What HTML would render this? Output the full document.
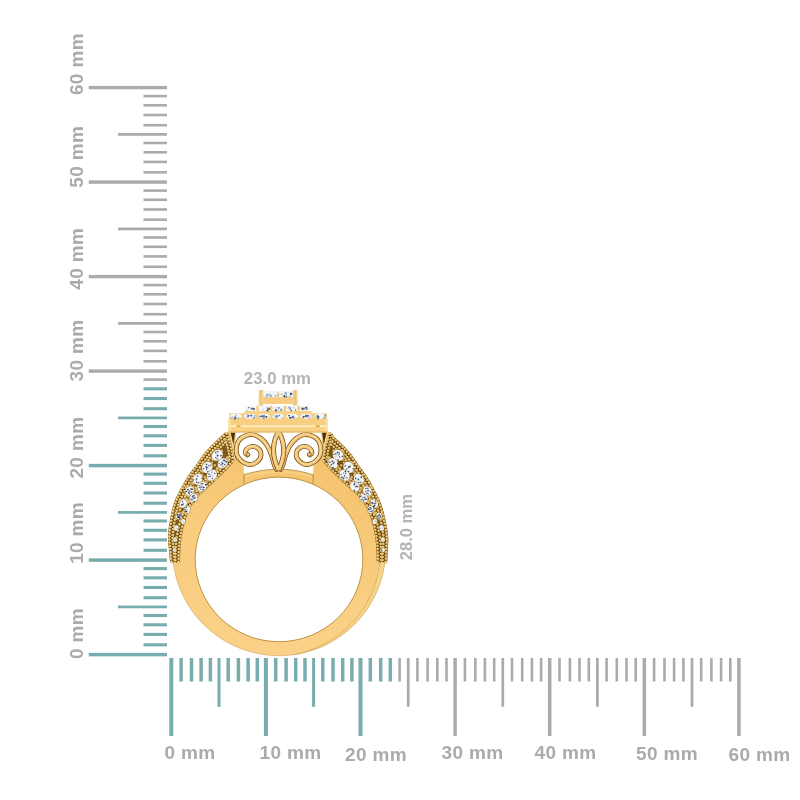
<!DOCTYPE html>
<html><head><meta charset="utf-8"><title>Ring size guide</title>
<style>
html,body{margin:0;padding:0;background:#fff}
body{width:800px;height:800px;overflow:hidden}
svg{display:block}
text{font-family:"Liberation Sans",sans-serif;font-weight:bold;fill:#ababab}
.l18{font-size:19px;letter-spacing:.35px}
.l16{font-size:16.5px;fill:#b4b4b4}
</style></head><body>
<svg width="800" height="800" viewBox="0 0 800 800">
<defs>
<linearGradient id="gBand" x1="0" y1="450" x2="0" y2="656" gradientUnits="userSpaceOnUse">
<stop offset="0" stop-color="#f8ca7a"/><stop offset=".5" stop-color="#f9cd7f"/><stop offset="1" stop-color="#fad084"/>
</linearGradient>
<linearGradient id="gPlate" x1="0" y1="418" x2="0" y2="433" gradientUnits="userSpaceOnUse">
<stop offset="0" stop-color="#f8ce80"/><stop offset=".5" stop-color="#f9d084"/><stop offset="1" stop-color="#f9d186"/>
</linearGradient>
<radialGradient id="gDia" cx=".4" cy=".35" r=".8">
<stop offset="0" stop-color="#ffffff"/><stop offset=".6" stop-color="#e6ecf5"/><stop offset="1" stop-color="#aebbd0"/>
</radialGradient>
<linearGradient id="gLite" x1="0" y1="540" x2="0" y2="657" gradientUnits="userSpaceOnUse">
<stop offset="0" stop-color="#fff" stop-opacity="0"/><stop offset="1" stop-color="#fff" stop-opacity=".03"/>
</linearGradient>
<linearGradient id="gShade" x1="318" y1="590" x2="375" y2="470" gradientUnits="userSpaceOnUse">
<stop offset="0" stop-color="#e09a25" stop-opacity="0"/><stop offset="1" stop-color="#e09a25" stop-opacity=".16"/>
</linearGradient>
</defs>
<rect width="800" height="800" fill="#fff"/>
<rect x="88.75" y="652.85" width="78.25" height="3.5" fill="#79adad"/>
<rect x="143.5" y="643.25" width="23.5" height="3.1" fill="#79adad"/>
<rect x="143.5" y="632.85" width="23.5" height="3.1" fill="#79adad"/>
<rect x="143.5" y="623.25" width="23.5" height="3.1" fill="#79adad"/>
<rect x="143.5" y="613.95" width="23.5" height="3.1" fill="#79adad"/>
<rect x="118" y="605.55" width="49" height="2.7" fill="#79adad"/>
<rect x="143.5" y="596.15" width="23.5" height="3.1" fill="#79adad"/>
<rect x="143.5" y="585.95" width="23.5" height="3.1" fill="#79adad"/>
<rect x="143.5" y="576.25" width="23.5" height="3.1" fill="#79adad"/>
<rect x="143.5" y="567.05" width="23.5" height="3.1" fill="#79adad"/>
<rect x="88.75" y="558.35" width="78.25" height="3.5" fill="#79adad"/>
<rect x="143.5" y="548.75" width="23.5" height="3.1" fill="#79adad"/>
<rect x="143.5" y="538.35" width="23.5" height="3.1" fill="#79adad"/>
<rect x="143.5" y="528.75" width="23.5" height="3.1" fill="#79adad"/>
<rect x="143.5" y="519.45" width="23.5" height="3.1" fill="#79adad"/>
<rect x="118" y="511.05" width="49" height="2.7" fill="#79adad"/>
<rect x="143.5" y="501.65" width="23.5" height="3.1" fill="#79adad"/>
<rect x="143.5" y="491.45" width="23.5" height="3.1" fill="#79adad"/>
<rect x="143.5" y="481.75" width="23.5" height="3.1" fill="#79adad"/>
<rect x="143.5" y="472.55" width="23.5" height="3.1" fill="#79adad"/>
<rect x="88.75" y="463.85" width="78.25" height="3.5" fill="#79adad"/>
<rect x="143.5" y="454.25" width="23.5" height="3.1" fill="#79adad"/>
<rect x="143.5" y="443.85" width="23.5" height="3.1" fill="#79adad"/>
<rect x="143.5" y="434.25" width="23.5" height="3.1" fill="#79adad"/>
<rect x="143.5" y="424.95" width="23.5" height="3.1" fill="#79adad"/>
<rect x="118" y="416.55" width="49" height="2.7" fill="#79adad"/>
<rect x="143.5" y="407.15" width="23.5" height="3.1" fill="#79adad"/>
<rect x="143.5" y="396.95" width="23.5" height="3.1" fill="#79adad"/>
<rect x="143.5" y="387.25" width="23.5" height="3.1" fill="#79adad"/>
<rect x="143.5" y="378.30" width="23.5" height="2.6" fill="#ababab"/>
<rect x="88.75" y="369.40" width="78.25" height="3.4" fill="#ababab"/>
<rect x="143.5" y="360.00" width="23.5" height="2.6" fill="#ababab"/>
<rect x="143.5" y="349.60" width="23.5" height="2.6" fill="#ababab"/>
<rect x="143.5" y="340.00" width="23.5" height="2.6" fill="#ababab"/>
<rect x="143.5" y="330.70" width="23.5" height="2.6" fill="#ababab"/>
<rect x="118" y="322.05" width="49" height="2.7" fill="#ababab"/>
<rect x="143.5" y="312.90" width="23.5" height="2.6" fill="#ababab"/>
<rect x="143.5" y="302.70" width="23.5" height="2.6" fill="#ababab"/>
<rect x="143.5" y="293.00" width="23.5" height="2.6" fill="#ababab"/>
<rect x="143.5" y="283.80" width="23.5" height="2.6" fill="#ababab"/>
<rect x="88.75" y="274.90" width="78.25" height="3.4" fill="#ababab"/>
<rect x="143.5" y="265.50" width="23.5" height="2.6" fill="#ababab"/>
<rect x="143.5" y="255.10" width="23.5" height="2.6" fill="#ababab"/>
<rect x="143.5" y="245.50" width="23.5" height="2.6" fill="#ababab"/>
<rect x="143.5" y="236.20" width="23.5" height="2.6" fill="#ababab"/>
<rect x="118" y="227.55" width="49" height="2.7" fill="#ababab"/>
<rect x="143.5" y="218.40" width="23.5" height="2.6" fill="#ababab"/>
<rect x="143.5" y="208.20" width="23.5" height="2.6" fill="#ababab"/>
<rect x="143.5" y="198.50" width="23.5" height="2.6" fill="#ababab"/>
<rect x="143.5" y="189.30" width="23.5" height="2.6" fill="#ababab"/>
<rect x="88.75" y="180.40" width="78.25" height="3.4" fill="#ababab"/>
<rect x="143.5" y="171.00" width="23.5" height="2.6" fill="#ababab"/>
<rect x="143.5" y="160.60" width="23.5" height="2.6" fill="#ababab"/>
<rect x="143.5" y="151.00" width="23.5" height="2.6" fill="#ababab"/>
<rect x="143.5" y="141.70" width="23.5" height="2.6" fill="#ababab"/>
<rect x="118" y="133.05" width="49" height="2.7" fill="#ababab"/>
<rect x="143.5" y="123.90" width="23.5" height="2.6" fill="#ababab"/>
<rect x="143.5" y="113.70" width="23.5" height="2.6" fill="#ababab"/>
<rect x="143.5" y="104.00" width="23.5" height="2.6" fill="#ababab"/>
<rect x="143.5" y="94.80" width="23.5" height="2.6" fill="#ababab"/>
<rect x="88.75" y="85.90" width="78.25" height="3.4" fill="#ababab"/>
<rect x="169.30" y="658" width="4.0" height="78" fill="#79adad"/>
<rect x="179.35" y="658" width="3.5" height="23.5" fill="#79adad"/>
<rect x="189.75" y="658" width="3.5" height="23.5" fill="#79adad"/>
<rect x="199.35" y="658" width="3.5" height="23.5" fill="#79adad"/>
<rect x="208.65" y="658" width="3.5" height="23.5" fill="#79adad"/>
<rect x="217.50" y="658" width="3.0" height="48.799999999999955" fill="#79adad"/>
<rect x="226.45" y="658" width="3.5" height="23.5" fill="#79adad"/>
<rect x="236.65" y="658" width="3.5" height="23.5" fill="#79adad"/>
<rect x="246.35" y="658" width="3.5" height="23.5" fill="#79adad"/>
<rect x="255.55" y="658" width="3.5" height="23.5" fill="#79adad"/>
<rect x="263.90" y="658" width="4.0" height="78" fill="#79adad"/>
<rect x="273.95" y="658" width="3.5" height="23.5" fill="#79adad"/>
<rect x="284.35" y="658" width="3.5" height="23.5" fill="#79adad"/>
<rect x="293.95" y="658" width="3.5" height="23.5" fill="#79adad"/>
<rect x="303.25" y="658" width="3.5" height="23.5" fill="#79adad"/>
<rect x="312.10" y="658" width="3.0" height="48.799999999999955" fill="#79adad"/>
<rect x="321.05" y="658" width="3.5" height="23.5" fill="#79adad"/>
<rect x="331.25" y="658" width="3.5" height="23.5" fill="#79adad"/>
<rect x="340.95" y="658" width="3.5" height="23.5" fill="#79adad"/>
<rect x="350.15" y="658" width="3.5" height="23.5" fill="#79adad"/>
<rect x="358.50" y="658" width="4.0" height="78" fill="#79adad"/>
<rect x="368.55" y="658" width="3.5" height="23.5" fill="#79adad"/>
<rect x="378.95" y="658" width="3.5" height="23.5" fill="#79adad"/>
<rect x="388.55" y="658" width="3.5" height="23.5" fill="#79adad"/>
<rect x="398.30" y="658" width="2.6" height="23.5" fill="#ababab"/>
<rect x="406.85" y="658" width="2.7" height="48.799999999999955" fill="#ababab"/>
<rect x="416.10" y="658" width="2.6" height="23.5" fill="#ababab"/>
<rect x="426.30" y="658" width="2.6" height="23.5" fill="#ababab"/>
<rect x="436.00" y="658" width="2.6" height="23.5" fill="#ababab"/>
<rect x="445.20" y="658" width="2.6" height="23.5" fill="#ababab"/>
<rect x="453.35" y="658" width="3.5" height="78" fill="#ababab"/>
<rect x="463.60" y="658" width="2.6" height="23.5" fill="#ababab"/>
<rect x="474.00" y="658" width="2.6" height="23.5" fill="#ababab"/>
<rect x="483.60" y="658" width="2.6" height="23.5" fill="#ababab"/>
<rect x="492.90" y="658" width="2.6" height="23.5" fill="#ababab"/>
<rect x="501.45" y="658" width="2.7" height="48.799999999999955" fill="#ababab"/>
<rect x="510.70" y="658" width="2.6" height="23.5" fill="#ababab"/>
<rect x="520.90" y="658" width="2.6" height="23.5" fill="#ababab"/>
<rect x="530.60" y="658" width="2.6" height="23.5" fill="#ababab"/>
<rect x="539.80" y="658" width="2.6" height="23.5" fill="#ababab"/>
<rect x="547.95" y="658" width="3.5" height="78" fill="#ababab"/>
<rect x="558.20" y="658" width="2.6" height="23.5" fill="#ababab"/>
<rect x="568.60" y="658" width="2.6" height="23.5" fill="#ababab"/>
<rect x="578.20" y="658" width="2.6" height="23.5" fill="#ababab"/>
<rect x="587.50" y="658" width="2.6" height="23.5" fill="#ababab"/>
<rect x="596.05" y="658" width="2.7" height="48.799999999999955" fill="#ababab"/>
<rect x="605.30" y="658" width="2.6" height="23.5" fill="#ababab"/>
<rect x="615.50" y="658" width="2.6" height="23.5" fill="#ababab"/>
<rect x="625.20" y="658" width="2.6" height="23.5" fill="#ababab"/>
<rect x="634.40" y="658" width="2.6" height="23.5" fill="#ababab"/>
<rect x="642.55" y="658" width="3.5" height="78" fill="#ababab"/>
<rect x="652.80" y="658" width="2.6" height="23.5" fill="#ababab"/>
<rect x="663.20" y="658" width="2.6" height="23.5" fill="#ababab"/>
<rect x="672.80" y="658" width="2.6" height="23.5" fill="#ababab"/>
<rect x="682.10" y="658" width="2.6" height="23.5" fill="#ababab"/>
<rect x="690.65" y="658" width="2.7" height="48.799999999999955" fill="#ababab"/>
<rect x="699.90" y="658" width="2.6" height="23.5" fill="#ababab"/>
<rect x="710.10" y="658" width="2.6" height="23.5" fill="#ababab"/>
<rect x="719.80" y="658" width="2.6" height="23.5" fill="#ababab"/>
<rect x="729.00" y="658" width="2.6" height="23.5" fill="#ababab"/>
<rect x="737.15" y="658" width="3.5" height="78" fill="#ababab"/>
<text x="190" y="759" text-anchor="middle" class="l18">0 mm</text>
<text x="290.5" y="759" text-anchor="middle" class="l18">10 mm</text>
<text x="376" y="760.5" text-anchor="middle" class="l18">20 mm</text>
<text x="472.5" y="759" text-anchor="middle" class="l18">30 mm</text>
<text x="565.5" y="759" text-anchor="middle" class="l18">40 mm</text>
<text x="667" y="759.6" text-anchor="middle" class="l18">50 mm</text>
<text x="759.5" y="760.5" text-anchor="middle" class="l18">60 mm</text>
<text transform="translate(82.5 64.1) rotate(-90)" text-anchor="middle" class="l18">60 mm</text>
<text transform="translate(82.5 156.75) rotate(-90)" text-anchor="middle" class="l18">50 mm</text>
<text transform="translate(82.5 258.75) rotate(-90)" text-anchor="middle" class="l18">40 mm</text>
<text transform="translate(82.5 350.5) rotate(-90)" text-anchor="middle" class="l18">30 mm</text>
<text transform="translate(82.5 447.6) rotate(-90)" text-anchor="middle" class="l18">20 mm</text>
<text transform="translate(82.5 532.9) rotate(-90)" text-anchor="middle" class="l18">10 mm</text>
<text transform="translate(82.5 633.5) rotate(-90)" text-anchor="middle" class="l18">0 mm</text>
<text x="277.4" y="383.9" text-anchor="middle" class="l16" style="font-size:16.8px">23.0 mm</text>
<text transform="translate(412.2 527.2) rotate(-90)" text-anchor="middle" class="l16">28.0 mm</text>
<path d="M384.91 562.00L384.48 565.06L383.97 568.11L383.38 571.14L382.69 574.16L381.92 577.15L381.06 580.12L380.12 583.07L379.09 585.98L377.97 588.86L376.78 591.71L375.50 594.53L374.14 597.31L372.70 600.04L371.18 602.73L369.59 605.38L367.92 607.98L366.17 610.53L364.35 613.03L362.46 615.48L360.50 617.87L358.47 620.20L356.37 622.47L354.21 624.68L351.99 626.83L349.70 628.91L347.36 630.93L344.96 632.87L342.50 634.75L339.99 636.55L337.43 638.28L334.82 639.94L332.16 641.52L329.46 643.02L326.71 644.44L323.93 645.78L321.10 647.04L318.25 648.22L315.35 649.32L312.43 650.33L309.48 651.25L306.51 652.09L303.51 652.85L300.49 653.51L297.46 654.09L294.40 654.58L291.34 654.98L288.26 655.30L285.18 655.52L282.09 655.66L279.00 655.70L275.91 655.66L272.82 655.52L269.74 655.30L266.66 654.98L263.60 654.58L260.54 654.09L257.51 653.51L254.49 652.85L251.49 652.09L248.52 651.25L245.57 650.33L242.65 649.32L239.75 648.22L236.90 647.04L234.07 645.78L231.29 644.44L228.54 643.02L225.84 641.52L223.18 639.94L220.57 638.28L218.01 636.55L215.50 634.75L213.04 632.87L210.64 630.93L208.30 628.91L206.01 626.83L203.79 624.68L201.63 622.47L199.53 620.20L197.50 617.87L195.54 615.48L193.65 613.03L191.83 610.53L190.08 607.98L188.41 605.38L186.82 602.73L185.30 600.04L183.86 597.31L182.50 594.53L181.22 591.71L180.03 588.86L178.91 585.98L177.88 583.07L176.94 580.12L176.08 577.15L175.31 574.16L174.62 571.14L174.03 568.11L173.52 565.06L173.09 562.00L170.00 562.00L169.96 561.51L169.91 560.90L169.85 560.19L169.79 559.39L169.72 558.52L169.64 557.59L169.56 556.62L169.48 555.63L169.40 554.63L169.31 553.63L169.23 552.66L169.15 551.71L169.07 550.82L169.00 550.00L168.93 549.22L168.84 548.47L168.76 547.72L168.67 547.00L168.58 546.28L168.49 545.57L168.41 544.88L168.32 544.18L168.25 543.49L168.18 542.80L168.12 542.11L168.06 541.41L168.03 540.71L168.00 540.00L167.99 539.29L167.98 538.57L167.99 537.86L168.00 537.14L168.03 536.43L168.06 535.71L168.09 535.00L168.14 534.29L168.19 533.57L168.24 532.86L168.30 532.14L168.36 531.43L168.43 530.71L168.50 530.00L168.58 529.29L168.66 528.57L168.75 527.86L168.84 527.14L168.94 526.43L169.05 525.71L169.16 525.00L169.27 524.29L169.39 523.57L169.51 522.86L169.63 522.14L169.75 521.43L169.88 520.71L170.00 520.00L170.13 519.29L170.25 518.57L170.38 517.86L170.51 517.14L170.64 516.43L170.77 515.71L170.91 515.00L171.05 514.29L171.19 513.57L171.34 512.86L171.50 512.14L171.66 511.43L171.83 510.71L172.00 510.00L172.18 509.29L172.36 508.57L172.54 507.86L172.73 507.14L172.92 506.43L173.11 505.71L173.31 505.00L173.52 504.29L173.74 503.57L173.97 502.86L174.21 502.14L174.46 501.43L174.72 500.71L175.00 500.00L175.29 499.29L175.60 498.57L175.93 497.86L176.27 497.14L176.62 496.43L176.98 495.71L177.34 495.00L177.72 494.29L178.10 493.57L178.48 492.86L178.86 492.14L179.24 491.43L179.62 490.71L180.00 490.00L180.38 489.28L180.76 488.56L181.14 487.84L181.52 487.11L181.91 486.39L182.30 485.66L182.69 484.94L183.08 484.22L183.48 483.50L183.88 482.78L184.28 482.08L184.68 481.38L185.09 480.68L185.50 480.00L185.92 479.32L186.34 478.64L186.78 477.95L187.22 477.27L187.67 476.59L188.12 475.92L188.56 475.25L189.01 474.59L189.45 473.95L189.88 473.32L190.30 472.71L190.72 472.12L191.12 471.55L191.50 471.00L191.86 470.49L192.20 470.02L192.53 469.58L192.84 469.17L193.14 468.78L193.43 468.40L193.72 468.03L194.01 467.66L194.31 467.28L194.61 466.88L194.93 466.46L195.27 466.01L195.62 465.53L196.00 465.00L196.41 464.42L196.83 463.80L197.28 463.14L197.74 462.45L198.21 461.74L198.70 461.02L199.19 460.28L199.68 459.55L200.17 458.81L200.66 458.10L201.14 457.40L201.61 456.73L202.06 456.09L202.50 455.50L202.92 454.95L203.31 454.44L203.68 453.95L204.04 453.50L204.39 453.06L204.74 452.64L205.09 452.22L205.45 451.80L205.82 451.38L206.20 450.95L206.61 450.50L207.04 450.03L207.50 449.53L208.00 449.00L208.54 448.43L209.11 447.83L209.72 447.21L210.35 446.56L211.00 445.90L211.66 445.23L212.34 444.56L213.03 443.88L213.72 443.20L214.40 442.53L215.07 441.87L215.74 441.22L216.38 440.60L217.00 440.00L217.62 439.40L218.27 438.79L218.92 438.17L219.59 437.55L220.26 436.94L220.92 436.33L221.56 435.74L222.18 435.17L222.77 434.63L223.33 434.13L223.83 433.67L224.29 433.25L224.68 432.90L225.00 432.60L229.00 432.00L328.20 432.00L329.60 432.60L329.92 432.90L330.31 433.25L330.77 433.67L331.27 434.13L331.83 434.63L332.42 435.17L333.04 435.74L333.68 436.33L334.34 436.94L335.01 437.55L335.68 438.17L336.33 438.79L336.98 439.40L337.60 440.00L338.22 440.60L338.86 441.22L339.53 441.87L340.20 442.53L340.88 443.20L341.57 443.88L342.26 444.56L342.94 445.23L343.60 445.90L344.25 446.56L344.88 447.21L345.49 447.83L346.06 448.43L346.60 449.00L347.10 449.53L347.56 450.03L347.99 450.50L348.40 450.95L348.78 451.38L349.15 451.80L349.51 452.22L349.86 452.64L350.21 453.06L350.56 453.50L350.92 453.95L351.29 454.44L351.68 454.95L352.10 455.50L352.54 456.09L352.99 456.73L353.46 457.40L353.94 458.10L354.43 458.81L354.92 459.55L355.41 460.28L355.90 461.02L356.39 461.74L356.86 462.45L357.32 463.14L357.77 463.80L358.19 464.42L358.60 465.00L358.98 465.53L359.33 466.01L359.67 466.46L359.99 466.88L360.29 467.28L360.59 467.66L360.88 468.03L361.17 468.40L361.46 468.78L361.76 469.17L362.07 469.58L362.40 470.02L362.74 470.49L363.10 471.00L363.48 471.55L363.88 472.12L364.30 472.71L364.72 473.32L365.15 473.95L365.59 474.59L366.04 475.25L366.48 475.92L366.93 476.59L367.38 477.27L367.82 477.95L368.26 478.64L368.68 479.32L369.10 480.00L369.51 480.68L369.92 481.38L370.32 482.08L370.72 482.78L371.12 483.50L371.52 484.22L371.91 484.94L372.30 485.66L372.69 486.39L373.08 487.11L373.46 487.84L373.84 488.56L374.22 489.28L374.60 490.00L374.98 490.71L375.36 491.43L375.74 492.14L376.12 492.86L376.50 493.57L376.88 494.29L377.26 495.00L377.62 495.71L377.98 496.43L378.33 497.14L378.67 497.86L379.00 498.57L379.31 499.29L379.60 500.00L379.91 500.71L380.20 501.43L380.48 502.14L380.75 502.86L381.01 503.57L381.26 504.29L381.50 505.00L381.73 505.71L381.95 506.43L382.17 507.14L382.39 507.86L382.60 508.57L382.81 509.29L383.02 510.00L383.22 510.71L383.42 511.43L383.61 512.14L383.80 512.86L383.98 513.57L384.15 514.29L384.32 515.00L384.49 515.71L384.65 516.43L384.81 517.14L384.97 517.86L385.13 518.57L385.28 519.29L385.44 520.00L385.59 520.71L385.75 521.43L385.90 522.14L386.05 522.86L386.20 523.57L386.35 524.29L386.49 525.00L386.63 525.71L386.77 526.43L386.90 527.14L387.02 527.86L387.14 528.57L387.25 529.29L387.36 530.00L387.46 530.71L387.55 531.43L387.65 532.14L387.74 532.86L387.82 533.57L387.90 534.29L387.97 535.00L388.04 535.71L388.10 536.43L388.15 537.14L388.20 537.86L388.23 538.57L388.26 539.29L388.28 540.00L388.28 540.71L388.27 541.41L388.25 542.11L388.22 542.80L388.18 543.49L388.13 544.18L388.08 544.88L388.02 545.57L387.96 546.28L387.90 547.00L387.84 547.72L387.79 548.47L387.74 549.22L387.70 550.00L387.66 550.82L387.62 551.71L387.58 552.66L387.53 553.63L387.49 554.63L387.45 555.63L387.41 556.62L387.37 557.59L387.34 558.52L387.30 559.39L387.27 560.19L387.24 560.90L387.22 561.51L387.20 562.00ZM195.5 559.4A83.5 82.0 0 1 0 362.5 559.4A83.5 82.0 0 1 0 195.5 559.4Z" fill="url(#gBand)" fill-rule="evenodd"/>
<path d="M384.91 562.00L384.48 565.06L383.97 568.11L383.38 571.14L382.69 574.16L381.92 577.15L381.06 580.12L380.12 583.07L379.09 585.98L377.97 588.86L376.78 591.71L375.50 594.53L374.14 597.31L372.70 600.04L371.18 602.73L369.59 605.38L367.92 607.98L366.17 610.53L364.35 613.03L362.46 615.48L360.50 617.87L358.47 620.20L356.37 622.47L354.21 624.68L351.99 626.83L349.70 628.91L347.36 630.93L344.96 632.87L342.50 634.75L339.99 636.55L337.43 638.28L334.82 639.94L332.16 641.52L329.46 643.02L326.71 644.44L323.93 645.78L321.10 647.04L318.25 648.22L315.35 649.32L312.43 650.33L309.48 651.25L306.51 652.09L303.51 652.85L300.49 653.51L297.46 654.09L294.40 654.58L291.34 654.98L288.26 655.30L285.18 655.52L282.09 655.66L279.00 655.70L275.91 655.66L272.82 655.52L269.74 655.30L266.66 654.98L263.60 654.58L260.54 654.09L257.51 653.51L254.49 652.85L251.49 652.09L248.52 651.25L245.57 650.33L242.65 649.32L239.75 648.22L236.90 647.04L234.07 645.78L231.29 644.44L228.54 643.02L225.84 641.52L223.18 639.94L220.57 638.28L218.01 636.55L215.50 634.75L213.04 632.87L210.64 630.93L208.30 628.91L206.01 626.83L203.79 624.68L201.63 622.47L199.53 620.20L197.50 617.87L195.54 615.48L193.65 613.03L191.83 610.53L190.08 607.98L188.41 605.38L186.82 602.73L185.30 600.04L183.86 597.31L182.50 594.53L181.22 591.71L180.03 588.86L178.91 585.98L177.88 583.07L176.94 580.12L176.08 577.15L175.31 574.16L174.62 571.14L174.03 568.11L173.52 565.06L173.09 562.00L170.00 562.00L169.96 561.51L169.91 560.90L169.85 560.19L169.79 559.39L169.72 558.52L169.64 557.59L169.56 556.62L169.48 555.63L169.40 554.63L169.31 553.63L169.23 552.66L169.15 551.71L169.07 550.82L169.00 550.00L168.93 549.22L168.84 548.47L168.76 547.72L168.67 547.00L168.58 546.28L168.49 545.57L168.41 544.88L168.32 544.18L168.25 543.49L168.18 542.80L168.12 542.11L168.06 541.41L168.03 540.71L168.00 540.00L167.99 539.29L167.98 538.57L167.99 537.86L168.00 537.14L168.03 536.43L168.06 535.71L168.09 535.00L168.14 534.29L168.19 533.57L168.24 532.86L168.30 532.14L168.36 531.43L168.43 530.71L168.50 530.00L168.58 529.29L168.66 528.57L168.75 527.86L168.84 527.14L168.94 526.43L169.05 525.71L169.16 525.00L169.27 524.29L169.39 523.57L169.51 522.86L169.63 522.14L169.75 521.43L169.88 520.71L170.00 520.00L170.13 519.29L170.25 518.57L170.38 517.86L170.51 517.14L170.64 516.43L170.77 515.71L170.91 515.00L171.05 514.29L171.19 513.57L171.34 512.86L171.50 512.14L171.66 511.43L171.83 510.71L172.00 510.00L172.18 509.29L172.36 508.57L172.54 507.86L172.73 507.14L172.92 506.43L173.11 505.71L173.31 505.00L173.52 504.29L173.74 503.57L173.97 502.86L174.21 502.14L174.46 501.43L174.72 500.71L175.00 500.00L175.29 499.29L175.60 498.57L175.93 497.86L176.27 497.14L176.62 496.43L176.98 495.71L177.34 495.00L177.72 494.29L178.10 493.57L178.48 492.86L178.86 492.14L179.24 491.43L179.62 490.71L180.00 490.00L180.38 489.28L180.76 488.56L181.14 487.84L181.52 487.11L181.91 486.39L182.30 485.66L182.69 484.94L183.08 484.22L183.48 483.50L183.88 482.78L184.28 482.08L184.68 481.38L185.09 480.68L185.50 480.00L185.92 479.32L186.34 478.64L186.78 477.95L187.22 477.27L187.67 476.59L188.12 475.92L188.56 475.25L189.01 474.59L189.45 473.95L189.88 473.32L190.30 472.71L190.72 472.12L191.12 471.55L191.50 471.00L191.86 470.49L192.20 470.02L192.53 469.58L192.84 469.17L193.14 468.78L193.43 468.40L193.72 468.03L194.01 467.66L194.31 467.28L194.61 466.88L194.93 466.46L195.27 466.01L195.62 465.53L196.00 465.00L196.41 464.42L196.83 463.80L197.28 463.14L197.74 462.45L198.21 461.74L198.70 461.02L199.19 460.28L199.68 459.55L200.17 458.81L200.66 458.10L201.14 457.40L201.61 456.73L202.06 456.09L202.50 455.50L202.92 454.95L203.31 454.44L203.68 453.95L204.04 453.50L204.39 453.06L204.74 452.64L205.09 452.22L205.45 451.80L205.82 451.38L206.20 450.95L206.61 450.50L207.04 450.03L207.50 449.53L208.00 449.00L208.54 448.43L209.11 447.83L209.72 447.21L210.35 446.56L211.00 445.90L211.66 445.23L212.34 444.56L213.03 443.88L213.72 443.20L214.40 442.53L215.07 441.87L215.74 441.22L216.38 440.60L217.00 440.00L217.62 439.40L218.27 438.79L218.92 438.17L219.59 437.55L220.26 436.94L220.92 436.33L221.56 435.74L222.18 435.17L222.77 434.63L223.33 434.13L223.83 433.67L224.29 433.25L224.68 432.90L225.00 432.60L229.00 432.00L328.20 432.00L329.60 432.60L329.92 432.90L330.31 433.25L330.77 433.67L331.27 434.13L331.83 434.63L332.42 435.17L333.04 435.74L333.68 436.33L334.34 436.94L335.01 437.55L335.68 438.17L336.33 438.79L336.98 439.40L337.60 440.00L338.22 440.60L338.86 441.22L339.53 441.87L340.20 442.53L340.88 443.20L341.57 443.88L342.26 444.56L342.94 445.23L343.60 445.90L344.25 446.56L344.88 447.21L345.49 447.83L346.06 448.43L346.60 449.00L347.10 449.53L347.56 450.03L347.99 450.50L348.40 450.95L348.78 451.38L349.15 451.80L349.51 452.22L349.86 452.64L350.21 453.06L350.56 453.50L350.92 453.95L351.29 454.44L351.68 454.95L352.10 455.50L352.54 456.09L352.99 456.73L353.46 457.40L353.94 458.10L354.43 458.81L354.92 459.55L355.41 460.28L355.90 461.02L356.39 461.74L356.86 462.45L357.32 463.14L357.77 463.80L358.19 464.42L358.60 465.00L358.98 465.53L359.33 466.01L359.67 466.46L359.99 466.88L360.29 467.28L360.59 467.66L360.88 468.03L361.17 468.40L361.46 468.78L361.76 469.17L362.07 469.58L362.40 470.02L362.74 470.49L363.10 471.00L363.48 471.55L363.88 472.12L364.30 472.71L364.72 473.32L365.15 473.95L365.59 474.59L366.04 475.25L366.48 475.92L366.93 476.59L367.38 477.27L367.82 477.95L368.26 478.64L368.68 479.32L369.10 480.00L369.51 480.68L369.92 481.38L370.32 482.08L370.72 482.78L371.12 483.50L371.52 484.22L371.91 484.94L372.30 485.66L372.69 486.39L373.08 487.11L373.46 487.84L373.84 488.56L374.22 489.28L374.60 490.00L374.98 490.71L375.36 491.43L375.74 492.14L376.12 492.86L376.50 493.57L376.88 494.29L377.26 495.00L377.62 495.71L377.98 496.43L378.33 497.14L378.67 497.86L379.00 498.57L379.31 499.29L379.60 500.00L379.91 500.71L380.20 501.43L380.48 502.14L380.75 502.86L381.01 503.57L381.26 504.29L381.50 505.00L381.73 505.71L381.95 506.43L382.17 507.14L382.39 507.86L382.60 508.57L382.81 509.29L383.02 510.00L383.22 510.71L383.42 511.43L383.61 512.14L383.80 512.86L383.98 513.57L384.15 514.29L384.32 515.00L384.49 515.71L384.65 516.43L384.81 517.14L384.97 517.86L385.13 518.57L385.28 519.29L385.44 520.00L385.59 520.71L385.75 521.43L385.90 522.14L386.05 522.86L386.20 523.57L386.35 524.29L386.49 525.00L386.63 525.71L386.77 526.43L386.90 527.14L387.02 527.86L387.14 528.57L387.25 529.29L387.36 530.00L387.46 530.71L387.55 531.43L387.65 532.14L387.74 532.86L387.82 533.57L387.90 534.29L387.97 535.00L388.04 535.71L388.10 536.43L388.15 537.14L388.20 537.86L388.23 538.57L388.26 539.29L388.28 540.00L388.28 540.71L388.27 541.41L388.25 542.11L388.22 542.80L388.18 543.49L388.13 544.18L388.08 544.88L388.02 545.57L387.96 546.28L387.90 547.00L387.84 547.72L387.79 548.47L387.74 549.22L387.70 550.00L387.66 550.82L387.62 551.71L387.58 552.66L387.53 553.63L387.49 554.63L387.45 555.63L387.41 556.62L387.37 557.59L387.34 558.52L387.30 559.39L387.27 560.19L387.24 560.90L387.22 561.51L387.20 562.00ZM195.5 559.4A83.5 82.0 0 1 0 362.5 559.4A83.5 82.0 0 1 0 195.5 559.4Z" fill="url(#gLite)" fill-rule="evenodd"/>
<path d="M384.91 562.00L384.48 565.06L383.97 568.11L383.38 571.14L382.69 574.16L381.92 577.15L381.06 580.12L380.12 583.07L379.09 585.98L377.97 588.86L376.78 591.71L375.50 594.53L374.14 597.31L372.70 600.04L371.18 602.73L369.59 605.38L367.92 607.98L366.17 610.53L364.35 613.03L362.46 615.48L360.50 617.87L358.47 620.20L356.37 622.47L354.21 624.68L351.99 626.83L349.70 628.91L347.36 630.93L344.96 632.87L342.50 634.75L339.99 636.55L337.43 638.28L334.82 639.94L332.16 641.52L329.46 643.02L326.71 644.44L323.93 645.78L321.10 647.04L318.25 648.22L315.35 649.32L312.43 650.33L309.48 651.25L306.51 652.09L303.51 652.85L300.49 653.51L297.46 654.09L294.40 654.58L291.34 654.98L288.26 655.30L285.18 655.52L282.09 655.66L279.00 655.70L275.91 655.66L272.82 655.52L269.74 655.30L266.66 654.98L263.60 654.58L260.54 654.09L257.51 653.51L254.49 652.85L251.49 652.09L248.52 651.25L245.57 650.33L242.65 649.32L239.75 648.22L236.90 647.04L234.07 645.78L231.29 644.44L228.54 643.02L225.84 641.52L223.18 639.94L220.57 638.28L218.01 636.55L215.50 634.75L213.04 632.87L210.64 630.93L208.30 628.91L206.01 626.83L203.79 624.68L201.63 622.47L199.53 620.20L197.50 617.87L195.54 615.48L193.65 613.03L191.83 610.53L190.08 607.98L188.41 605.38L186.82 602.73L185.30 600.04L183.86 597.31L182.50 594.53L181.22 591.71L180.03 588.86L178.91 585.98L177.88 583.07L176.94 580.12L176.08 577.15L175.31 574.16L174.62 571.14L174.03 568.11L173.52 565.06L173.09 562.00L170.00 562.00L169.96 561.51L169.91 560.90L169.85 560.19L169.79 559.39L169.72 558.52L169.64 557.59L169.56 556.62L169.48 555.63L169.40 554.63L169.31 553.63L169.23 552.66L169.15 551.71L169.07 550.82L169.00 550.00L168.93 549.22L168.84 548.47L168.76 547.72L168.67 547.00L168.58 546.28L168.49 545.57L168.41 544.88L168.32 544.18L168.25 543.49L168.18 542.80L168.12 542.11L168.06 541.41L168.03 540.71L168.00 540.00L167.99 539.29L167.98 538.57L167.99 537.86L168.00 537.14L168.03 536.43L168.06 535.71L168.09 535.00L168.14 534.29L168.19 533.57L168.24 532.86L168.30 532.14L168.36 531.43L168.43 530.71L168.50 530.00L168.58 529.29L168.66 528.57L168.75 527.86L168.84 527.14L168.94 526.43L169.05 525.71L169.16 525.00L169.27 524.29L169.39 523.57L169.51 522.86L169.63 522.14L169.75 521.43L169.88 520.71L170.00 520.00L170.13 519.29L170.25 518.57L170.38 517.86L170.51 517.14L170.64 516.43L170.77 515.71L170.91 515.00L171.05 514.29L171.19 513.57L171.34 512.86L171.50 512.14L171.66 511.43L171.83 510.71L172.00 510.00L172.18 509.29L172.36 508.57L172.54 507.86L172.73 507.14L172.92 506.43L173.11 505.71L173.31 505.00L173.52 504.29L173.74 503.57L173.97 502.86L174.21 502.14L174.46 501.43L174.72 500.71L175.00 500.00L175.29 499.29L175.60 498.57L175.93 497.86L176.27 497.14L176.62 496.43L176.98 495.71L177.34 495.00L177.72 494.29L178.10 493.57L178.48 492.86L178.86 492.14L179.24 491.43L179.62 490.71L180.00 490.00L180.38 489.28L180.76 488.56L181.14 487.84L181.52 487.11L181.91 486.39L182.30 485.66L182.69 484.94L183.08 484.22L183.48 483.50L183.88 482.78L184.28 482.08L184.68 481.38L185.09 480.68L185.50 480.00L185.92 479.32L186.34 478.64L186.78 477.95L187.22 477.27L187.67 476.59L188.12 475.92L188.56 475.25L189.01 474.59L189.45 473.95L189.88 473.32L190.30 472.71L190.72 472.12L191.12 471.55L191.50 471.00L191.86 470.49L192.20 470.02L192.53 469.58L192.84 469.17L193.14 468.78L193.43 468.40L193.72 468.03L194.01 467.66L194.31 467.28L194.61 466.88L194.93 466.46L195.27 466.01L195.62 465.53L196.00 465.00L196.41 464.42L196.83 463.80L197.28 463.14L197.74 462.45L198.21 461.74L198.70 461.02L199.19 460.28L199.68 459.55L200.17 458.81L200.66 458.10L201.14 457.40L201.61 456.73L202.06 456.09L202.50 455.50L202.92 454.95L203.31 454.44L203.68 453.95L204.04 453.50L204.39 453.06L204.74 452.64L205.09 452.22L205.45 451.80L205.82 451.38L206.20 450.95L206.61 450.50L207.04 450.03L207.50 449.53L208.00 449.00L208.54 448.43L209.11 447.83L209.72 447.21L210.35 446.56L211.00 445.90L211.66 445.23L212.34 444.56L213.03 443.88L213.72 443.20L214.40 442.53L215.07 441.87L215.74 441.22L216.38 440.60L217.00 440.00L217.62 439.40L218.27 438.79L218.92 438.17L219.59 437.55L220.26 436.94L220.92 436.33L221.56 435.74L222.18 435.17L222.77 434.63L223.33 434.13L223.83 433.67L224.29 433.25L224.68 432.90L225.00 432.60L229.00 432.00L328.20 432.00L329.60 432.60L329.92 432.90L330.31 433.25L330.77 433.67L331.27 434.13L331.83 434.63L332.42 435.17L333.04 435.74L333.68 436.33L334.34 436.94L335.01 437.55L335.68 438.17L336.33 438.79L336.98 439.40L337.60 440.00L338.22 440.60L338.86 441.22L339.53 441.87L340.20 442.53L340.88 443.20L341.57 443.88L342.26 444.56L342.94 445.23L343.60 445.90L344.25 446.56L344.88 447.21L345.49 447.83L346.06 448.43L346.60 449.00L347.10 449.53L347.56 450.03L347.99 450.50L348.40 450.95L348.78 451.38L349.15 451.80L349.51 452.22L349.86 452.64L350.21 453.06L350.56 453.50L350.92 453.95L351.29 454.44L351.68 454.95L352.10 455.50L352.54 456.09L352.99 456.73L353.46 457.40L353.94 458.10L354.43 458.81L354.92 459.55L355.41 460.28L355.90 461.02L356.39 461.74L356.86 462.45L357.32 463.14L357.77 463.80L358.19 464.42L358.60 465.00L358.98 465.53L359.33 466.01L359.67 466.46L359.99 466.88L360.29 467.28L360.59 467.66L360.88 468.03L361.17 468.40L361.46 468.78L361.76 469.17L362.07 469.58L362.40 470.02L362.74 470.49L363.10 471.00L363.48 471.55L363.88 472.12L364.30 472.71L364.72 473.32L365.15 473.95L365.59 474.59L366.04 475.25L366.48 475.92L366.93 476.59L367.38 477.27L367.82 477.95L368.26 478.64L368.68 479.32L369.10 480.00L369.51 480.68L369.92 481.38L370.32 482.08L370.72 482.78L371.12 483.50L371.52 484.22L371.91 484.94L372.30 485.66L372.69 486.39L373.08 487.11L373.46 487.84L373.84 488.56L374.22 489.28L374.60 490.00L374.98 490.71L375.36 491.43L375.74 492.14L376.12 492.86L376.50 493.57L376.88 494.29L377.26 495.00L377.62 495.71L377.98 496.43L378.33 497.14L378.67 497.86L379.00 498.57L379.31 499.29L379.60 500.00L379.91 500.71L380.20 501.43L380.48 502.14L380.75 502.86L381.01 503.57L381.26 504.29L381.50 505.00L381.73 505.71L381.95 506.43L382.17 507.14L382.39 507.86L382.60 508.57L382.81 509.29L383.02 510.00L383.22 510.71L383.42 511.43L383.61 512.14L383.80 512.86L383.98 513.57L384.15 514.29L384.32 515.00L384.49 515.71L384.65 516.43L384.81 517.14L384.97 517.86L385.13 518.57L385.28 519.29L385.44 520.00L385.59 520.71L385.75 521.43L385.90 522.14L386.05 522.86L386.20 523.57L386.35 524.29L386.49 525.00L386.63 525.71L386.77 526.43L386.90 527.14L387.02 527.86L387.14 528.57L387.25 529.29L387.36 530.00L387.46 530.71L387.55 531.43L387.65 532.14L387.74 532.86L387.82 533.57L387.90 534.29L387.97 535.00L388.04 535.71L388.10 536.43L388.15 537.14L388.20 537.86L388.23 538.57L388.26 539.29L388.28 540.00L388.28 540.71L388.27 541.41L388.25 542.11L388.22 542.80L388.18 543.49L388.13 544.18L388.08 544.88L388.02 545.57L387.96 546.28L387.90 547.00L387.84 547.72L387.79 548.47L387.74 549.22L387.70 550.00L387.66 550.82L387.62 551.71L387.58 552.66L387.53 553.63L387.49 554.63L387.45 555.63L387.41 556.62L387.37 557.59L387.34 558.52L387.30 559.39L387.27 560.19L387.24 560.90L387.22 561.51L387.20 562.00ZM195.5 559.4A83.5 82.0 0 1 0 362.5 559.4A83.5 82.0 0 1 0 195.5 559.4Z" fill="url(#gShade)" fill-rule="evenodd"/>
<ellipse cx="279.0" cy="559.4" rx="83.8" ry="82.3" fill="none" stroke="#a87a30" stroke-width=".9" opacity=".8"/>
<path d="M384.91 562.00L384.48 565.06L383.97 568.11L383.38 571.14L382.69 574.16L381.92 577.15L381.06 580.12L380.12 583.07L379.09 585.98L377.97 588.86L376.78 591.71L375.50 594.53L374.14 597.31L372.70 600.04L371.18 602.73L369.59 605.38L367.92 607.98L366.17 610.53L364.35 613.03L362.46 615.48L360.50 617.87L358.47 620.20L356.37 622.47L354.21 624.68L351.99 626.83L349.70 628.91L347.36 630.93L344.96 632.87L342.50 634.75L339.99 636.55L337.43 638.28L334.82 639.94L332.16 641.52L329.46 643.02L326.71 644.44L323.93 645.78L321.10 647.04L318.25 648.22L315.35 649.32L312.43 650.33L309.48 651.25L306.51 652.09L303.51 652.85L300.49 653.51L297.46 654.09L294.40 654.58L294.40 654.58L297.41 653.86L300.41 653.11L303.38 652.29L306.32 651.40L309.24 650.43L312.12 649.38L314.97 648.25L317.78 647.05L320.56 645.77L323.29 644.42L325.99 642.99L328.63 641.49L331.23 639.91L333.79 638.26L336.29 636.54L338.74 634.76L341.13 632.90L343.47 630.98L345.75 629.00L347.97 626.96L350.13 624.85L352.22 622.68L354.25 620.46L356.22 618.18L358.11 615.85L359.94 613.47L361.69 611.04L363.37 608.56L364.98 606.04L366.52 603.47L367.98 600.87L369.36 598.22L370.66 595.54L371.88 592.82L373.03 590.08L374.09 587.30L375.08 584.50L375.98 581.67L376.80 578.82L377.53 575.95L378.18 573.06L378.75 570.16L379.23 567.25L379.63 564.32L379.94 561.39Z" fill="#f7d48c"/>
<path d="M379.94 561.39L379.63 564.32L379.23 567.25L378.75 570.16L378.18 573.06L377.53 575.95L376.80 578.82L375.98 581.67L375.08 584.50L374.09 587.30L373.03 590.08L371.88 592.82L370.66 595.54L369.36 598.22L367.98 600.87L366.52 603.47L364.98 606.04L363.37 608.56L361.69 611.04L359.94 613.47L358.11 615.85L356.22 618.18L354.25 620.46L352.22 622.68L350.13 624.85L347.97 626.96L345.75 629.00L343.47 630.98L341.13 632.90L338.74 634.76L336.29 636.54L333.79 638.26L331.23 639.91L328.63 641.49L325.99 642.99L323.29 644.42L320.56 645.77L317.78 647.05L314.97 648.25L312.12 649.38L309.24 650.43L306.32 651.40L303.38 652.29L300.41 653.11L297.41 653.86L294.40 654.58" fill="none" stroke="#cf9a3c" stroke-width=".7" opacity=".8"/>
<path d="M384.91 562.00L384.48 565.06L383.97 568.11L383.38 571.14L382.69 574.16L381.92 577.15L381.06 580.12L380.12 583.07L379.09 585.98L377.97 588.86L376.78 591.71L375.50 594.53L374.14 597.31L372.70 600.04L371.18 602.73L369.59 605.38L367.92 607.98L366.17 610.53L364.35 613.03L362.46 615.48L360.50 617.87L358.47 620.20L356.37 622.47L354.21 624.68L351.99 626.83L349.70 628.91L347.36 630.93L344.96 632.87L342.50 634.75L339.99 636.55L337.43 638.28L334.82 639.94L332.16 641.52L329.46 643.02L326.71 644.44L323.93 645.78L321.10 647.04L318.25 648.22L315.35 649.32L312.43 650.33L309.48 651.25L306.51 652.09L303.51 652.85L300.49 653.51L297.46 654.09L294.40 654.58L291.34 654.98L288.26 655.30L285.18 655.52L282.09 655.66L279.00 655.70L275.91 655.66L272.82 655.52L269.74 655.30L266.66 654.98L263.60 654.58L260.54 654.09L257.51 653.51L254.49 652.85L251.49 652.09L248.52 651.25L245.57 650.33L242.65 649.32L239.75 648.22L236.90 647.04L234.07 645.78L231.29 644.44L228.54 643.02L225.84 641.52L223.18 639.94L220.57 638.28L218.01 636.55L215.50 634.75L213.04 632.87L210.64 630.93L208.30 628.91L206.01 626.83L203.79 624.68L201.63 622.47L199.53 620.20L197.50 617.87L195.54 615.48L193.65 613.03L191.83 610.53L190.08 607.98L188.41 605.38L186.82 602.73L185.30 600.04L183.86 597.31L182.50 594.53L181.22 591.71L180.03 588.86L178.91 585.98L177.88 583.07L176.94 580.12L176.08 577.15L175.31 574.16L174.62 571.14L174.03 568.11L173.52 565.06L173.09 562.00" fill="none" stroke="#b98a3c" stroke-width=".7" opacity=".6"/>
<path d="M278.60 432.30L236.00 432.30L234.60 445.00L236.50 457.00L239.00 461.50L243.60 466.50L244.20 474.20L244.00 474.78L247.46 473.73L250.92 472.79L254.38 471.96L257.84 471.24L261.30 470.63L264.76 470.13L268.22 469.75L271.68 469.47L275.14 469.31L278.60 469.25L278.60 469.25L282.06 469.31L285.52 469.47L288.98 469.75L292.44 470.13L295.90 470.63L299.36 471.24L302.82 471.96L306.28 472.79L309.74 473.73L313.20 474.78L313.00 474.20L313.60 466.50L318.20 461.50L320.70 457.00L322.60 445.00L321.20 432.30L278.60 432.30Z" fill="#fff"/>
<path d="M244.00 474.78L246.31 474.07L248.61 473.40L250.92 472.79L253.23 472.22L255.53 471.71L257.84 471.24L260.15 470.82L262.45 470.45L264.76 470.13L267.07 469.86L269.37 469.64L271.68 469.47L273.99 469.35L276.29 469.27L278.60 469.25L280.91 469.27L283.21 469.35L285.52 469.47L287.83 469.64L290.13 469.86L292.44 470.13L294.75 470.45L297.05 470.82L299.36 471.24L301.67 471.71L303.97 472.22L306.28 472.79L308.59 473.40L310.89 474.07L313.20 474.78" fill="none" stroke="#a8843c" stroke-width=".8"/>
<path d="M244 474.3V483.5M313.20000000000005 474.3V483.5" stroke="#a8843c" stroke-width=".8" fill="none"/>
<path d="M246.00 476.56L248.17 475.93L250.35 475.34L252.52 474.79L254.69 474.29L256.87 473.83L259.04 473.42L261.21 473.05L263.39 472.72L265.56 472.44L267.73 472.20L269.91 472.00L272.08 471.85L274.25 471.74L276.43 471.67L278.60 471.65L280.77 471.67L282.95 471.74L285.12 471.85L287.29 472.00L289.47 472.20L291.64 472.44L293.81 472.72L295.99 473.05L298.16 473.42L300.33 473.83L302.51 474.29L304.68 474.79L306.85 475.34L309.03 475.93L311.20 476.56" fill="none" stroke="#fcd890" stroke-width="2.6" opacity=".5"/>
<path d="M170.00 562.00L169.96 561.51L169.91 560.90L169.85 560.19L169.79 559.39L169.72 558.52L169.64 557.59L169.56 556.62L169.48 555.63L169.40 554.63L169.31 553.63L169.23 552.66L169.15 551.71L169.07 550.82L169.00 550.00L168.93 549.22L168.84 548.47L168.76 547.72L168.67 547.00L168.58 546.28L168.49 545.57L168.41 544.88L168.32 544.18L168.25 543.49L168.18 542.80L168.12 542.11L168.06 541.41L168.03 540.71L168.00 540.00L167.99 539.29L167.98 538.57L167.99 537.86L168.00 537.14L168.03 536.43L168.06 535.71L168.09 535.00L168.14 534.29L168.19 533.57L168.24 532.86L168.30 532.14L168.36 531.43L168.43 530.71L168.50 530.00L168.58 529.29L168.66 528.57L168.75 527.86L168.84 527.14L168.94 526.43L169.05 525.71L169.16 525.00L169.27 524.29L169.39 523.57L169.51 522.86L169.63 522.14L169.75 521.43L169.88 520.71L170.00 520.00L170.13 519.29L170.25 518.57L170.38 517.86L170.51 517.14L170.64 516.43L170.77 515.71L170.91 515.00L171.05 514.29L171.19 513.57L171.34 512.86L171.50 512.14L171.66 511.43L171.83 510.71L172.00 510.00L172.18 509.29L172.36 508.57L172.54 507.86L172.73 507.14L172.92 506.43L173.11 505.71L173.31 505.00L173.52 504.29L173.74 503.57L173.97 502.86L174.21 502.14L174.46 501.43L174.72 500.71L175.00 500.00L175.29 499.29L175.60 498.57L175.93 497.86L176.27 497.14L176.62 496.43L176.98 495.71L177.34 495.00L177.72 494.29L178.10 493.57L178.48 492.86L178.86 492.14L179.24 491.43L179.62 490.71L180.00 490.00L180.38 489.28L180.76 488.56L181.14 487.84L181.52 487.11L181.91 486.39L182.30 485.66L182.69 484.94L183.08 484.22L183.48 483.50L183.88 482.78L184.28 482.08L184.68 481.38L185.09 480.68L185.50 480.00L185.92 479.32L186.34 478.64L186.78 477.95L187.22 477.27L187.67 476.59L188.12 475.92L188.56 475.25L189.01 474.59L189.45 473.95L189.88 473.32L190.30 472.71L190.72 472.12L191.12 471.55L191.50 471.00L191.86 470.49L192.20 470.02L192.53 469.58L192.84 469.17L193.14 468.78L193.43 468.40L193.72 468.03L194.01 467.66L194.31 467.28L194.61 466.88L194.93 466.46L195.27 466.01L195.62 465.53L196.00 465.00L196.41 464.42L196.83 463.80L197.28 463.14L197.74 462.45L198.21 461.74L198.70 461.02L199.19 460.28L199.68 459.55L200.17 458.81L200.66 458.10L201.14 457.40L201.61 456.73L202.06 456.09L202.50 455.50L202.92 454.95L203.31 454.44L203.68 453.95L204.04 453.50L204.39 453.06L204.74 452.64L205.09 452.22L205.45 451.80L205.82 451.38L206.20 450.95L206.61 450.50L207.04 450.03L207.50 449.53L208.00 449.00L208.54 448.43L209.11 447.83L209.72 447.21L210.35 446.56L211.00 445.90L211.66 445.23L212.34 444.56L213.03 443.88L213.72 443.20L214.40 442.53L215.07 441.87L215.74 441.22L216.38 440.60L217.00 440.00L217.62 439.40L218.27 438.79L218.92 438.17L219.59 437.55L220.26 436.94L220.92 436.33L221.56 435.74L222.18 435.17L222.77 434.63L223.33 434.13L223.83 433.67L224.29 433.25L224.68 432.90L225.00 432.60L228.00 432.80L228.07 433.01L228.16 433.25L228.26 433.54L228.37 433.85L228.49 434.20L228.62 434.57L228.76 434.96L228.91 435.37L229.05 435.80L229.20 436.23L229.36 436.67L229.51 437.12L229.65 437.56L229.80 438.00L229.95 438.44L230.10 438.90L230.25 439.36L230.41 439.84L230.57 440.33L230.74 440.82L230.90 441.32L231.06 441.84L231.23 442.35L231.39 442.87L231.55 443.40L231.70 443.93L231.85 444.46L232.00 445.00L232.14 445.54L232.29 446.09L232.43 446.65L232.58 447.21L232.72 447.78L232.86 448.36L232.99 448.94L233.13 449.52L233.25 450.10L233.38 450.69L233.49 451.27L233.60 451.85L233.71 452.43L233.80 453.00L233.89 453.59L233.96 454.21L234.04 454.86L234.10 455.52L234.16 456.19L234.21 456.85L234.26 457.50L234.31 458.13L234.35 458.73L234.38 459.30L234.42 459.81L234.45 460.28L234.47 460.67L234.50 461.00L234.50 461.00L234.24 461.30L233.93 461.67L233.56 462.10L233.16 462.58L232.72 463.10L232.25 463.66L231.75 464.25L231.23 464.86L230.70 465.48L230.16 466.10L229.61 466.72L229.06 467.34L228.53 467.93L228.00 468.50L227.47 469.06L226.94 469.62L226.38 470.19L225.82 470.76L225.25 471.34L224.68 471.92L224.09 472.50L223.51 473.08L222.92 473.66L222.33 474.24L221.74 474.81L221.16 475.38L220.57 475.94L220.00 476.50L219.43 477.05L218.86 477.60L218.29 478.15L217.71 478.69L217.14 479.24L216.57 479.78L216.00 480.31L215.43 480.85L214.86 481.38L214.29 481.91L213.71 482.43L213.14 482.96L212.57 483.48L212.00 484.00L211.43 484.51L210.86 485.02L210.29 485.52L209.71 486.01L209.14 486.50L208.57 486.98L208.00 487.47L207.43 487.96L206.86 488.45L206.29 488.94L205.71 489.44L205.14 489.95L204.57 490.47L204.00 491.00L203.43 491.53L202.84 492.06L202.26 492.59L201.67 493.13L201.08 493.66L200.49 494.20L199.91 494.75L199.32 495.31L198.75 495.88L198.18 496.47L197.62 497.07L197.06 497.69L196.53 498.33L196.00 499.00L195.48 499.69L194.98 500.41L194.47 501.14L193.98 501.90L193.49 502.67L193.00 503.45L192.53 504.25L192.07 505.06L191.61 505.87L191.17 506.70L190.73 507.52L190.31 508.35L189.90 509.18L189.50 510.00L189.11 510.82L188.74 511.65L188.38 512.49L188.02 513.33L187.68 514.17L187.35 515.02L187.03 515.88L186.72 516.73L186.41 517.60L186.12 518.47L185.83 519.34L185.55 520.22L185.27 521.11L185.00 522.00L184.74 522.90L184.48 523.80L184.23 524.72L183.99 525.64L183.76 526.57L183.53 527.50L183.31 528.44L183.10 529.38L182.90 530.32L182.70 531.26L182.52 532.20L182.34 533.13L182.16 534.07L182.00 535.00L181.84 535.93L181.70 536.85L181.56 537.77L181.43 538.69L181.31 539.60L181.20 540.52L181.09 541.44L180.99 542.36L180.90 543.28L180.81 544.21L180.73 545.15L180.65 546.09L180.57 547.04L180.50 548.00L180.43 549.00L180.37 550.07L180.32 551.19L180.27 552.34L180.23 553.50L180.19 554.66L180.16 555.81L180.13 556.93L180.10 557.99L180.08 558.99L180.06 559.91L180.04 560.73L180.02 561.43L180.00 562.00Z" fill="#7c591c"/>
<circle cx="179.21" cy="512.95" r="1.3" fill="#e0ba68"/>
<circle cx="178.86" cy="512.55" r="0.59" fill="#f7e6b0"/>
<circle cx="179.94" cy="509.99" r="1.3" fill="#e0ba68"/>
<circle cx="179.59" cy="509.59" r="0.59" fill="#f7e6b0"/>
<circle cx="180.70" cy="507.16" r="1.3" fill="#e0ba68"/>
<circle cx="180.35" cy="506.76" r="0.59" fill="#f7e6b0"/>
<circle cx="181.54" cy="504.50" r="1.3" fill="#e0ba68"/>
<circle cx="181.19" cy="504.10" r="0.59" fill="#f7e6b0"/>
<circle cx="182.50" cy="502.04" r="1.3" fill="#e0ba68"/>
<circle cx="182.15" cy="501.64" r="0.59" fill="#f7e6b0"/>
<circle cx="183.68" cy="499.53" r="1.3" fill="#e0ba68"/>
<circle cx="183.33" cy="499.13" r="0.59" fill="#f7e6b0"/>
<circle cx="185.07" cy="496.86" r="1.3" fill="#e0ba68"/>
<circle cx="184.72" cy="496.46" r="0.59" fill="#f7e6b0"/>
<circle cx="186.59" cy="494.01" r="1.3" fill="#e0ba68"/>
<circle cx="186.24" cy="493.61" r="0.59" fill="#f7e6b0"/>
<circle cx="188.08" cy="491.18" r="1.3" fill="#e0ba68"/>
<circle cx="187.73" cy="490.78" r="0.59" fill="#f7e6b0"/>
<circle cx="189.54" cy="488.45" r="1.3" fill="#e0ba68"/>
<circle cx="189.19" cy="488.05" r="0.59" fill="#f7e6b0"/>
<circle cx="191.01" cy="485.81" r="1.3" fill="#e0ba68"/>
<circle cx="190.66" cy="485.41" r="0.59" fill="#f7e6b0"/>
<circle cx="192.51" cy="483.30" r="1.3" fill="#e0ba68"/>
<circle cx="192.16" cy="482.90" r="0.59" fill="#f7e6b0"/>
<circle cx="194.12" cy="480.79" r="1.3" fill="#e0ba68"/>
<circle cx="193.77" cy="480.39" r="0.59" fill="#f7e6b0"/>
<circle cx="195.84" cy="478.24" r="1.3" fill="#e0ba68"/>
<circle cx="195.49" cy="477.84" r="0.59" fill="#f7e6b0"/>
<circle cx="197.64" cy="475.66" r="1.3" fill="#e0ba68"/>
<circle cx="197.29" cy="475.26" r="0.59" fill="#f7e6b0"/>
<circle cx="199.31" cy="473.39" r="1.3" fill="#e0ba68"/>
<circle cx="198.96" cy="472.99" r="0.59" fill="#f7e6b0"/>
<circle cx="201.35" cy="470.74" r="1.3" fill="#e0ba68"/>
<circle cx="201.00" cy="470.34" r="0.59" fill="#f7e6b0"/>
<circle cx="203.40" cy="467.84" r="1.3" fill="#e0ba68"/>
<circle cx="203.05" cy="467.44" r="0.59" fill="#f7e6b0"/>
<circle cx="205.21" cy="465.13" r="1.3" fill="#e0ba68"/>
<circle cx="204.86" cy="464.73" r="0.59" fill="#f7e6b0"/>
<circle cx="206.96" cy="462.53" r="1.3" fill="#e0ba68"/>
<circle cx="206.61" cy="462.13" r="0.59" fill="#f7e6b0"/>
<circle cx="208.63" cy="460.16" r="1.3" fill="#e0ba68"/>
<circle cx="208.28" cy="459.76" r="0.59" fill="#f7e6b0"/>
<circle cx="210.34" cy="457.95" r="1.3" fill="#e0ba68"/>
<circle cx="209.99" cy="457.55" r="0.59" fill="#f7e6b0"/>
<circle cx="212.20" cy="455.81" r="1.3" fill="#e0ba68"/>
<circle cx="211.85" cy="455.41" r="0.59" fill="#f7e6b0"/>
<circle cx="214.23" cy="453.62" r="1.3" fill="#e0ba68"/>
<circle cx="213.88" cy="453.22" r="0.59" fill="#f7e6b0"/>
<circle cx="216.38" cy="451.41" r="1.3" fill="#e0ba68"/>
<circle cx="216.03" cy="451.01" r="0.59" fill="#f7e6b0"/>
<circle cx="218.57" cy="449.22" r="1.3" fill="#e0ba68"/>
<circle cx="218.22" cy="448.82" r="0.59" fill="#f7e6b0"/>
<circle cx="220.82" cy="447.02" r="1.3" fill="#e0ba68"/>
<circle cx="220.47" cy="446.62" r="0.59" fill="#f7e6b0"/>
<circle cx="223.05" cy="444.87" r="1.3" fill="#e0ba68"/>
<circle cx="222.70" cy="444.47" r="0.59" fill="#f7e6b0"/>
<circle cx="225.32" cy="442.74" r="1.3" fill="#e0ba68"/>
<circle cx="224.97" cy="442.34" r="0.59" fill="#f7e6b0"/>
<circle cx="227.63" cy="440.62" r="1.3" fill="#e0ba68"/>
<circle cx="227.28" cy="440.22" r="0.59" fill="#f7e6b0"/>
<circle cx="230.02" cy="438.44" r="1.3" fill="#e0ba68"/>
<circle cx="229.67" cy="438.04" r="0.59" fill="#f7e6b0"/>
<circle cx="186.49" cy="499.35" r="1.3" fill="#e0ba68"/>
<circle cx="186.14" cy="498.95" r="0.59" fill="#f7e6b0"/>
<circle cx="188.43" cy="496.34" r="1.3" fill="#e0ba68"/>
<circle cx="188.08" cy="495.94" r="0.59" fill="#f7e6b0"/>
<circle cx="190.80" cy="493.18" r="1.3" fill="#e0ba68"/>
<circle cx="190.45" cy="492.78" r="0.59" fill="#f7e6b0"/>
<circle cx="193.44" cy="490.29" r="1.3" fill="#e0ba68"/>
<circle cx="193.09" cy="489.89" r="0.59" fill="#f7e6b0"/>
<circle cx="196.01" cy="487.87" r="1.3" fill="#e0ba68"/>
<circle cx="195.66" cy="487.47" r="0.59" fill="#f7e6b0"/>
<circle cx="198.32" cy="485.77" r="1.3" fill="#e0ba68"/>
<circle cx="197.97" cy="485.37" r="0.59" fill="#f7e6b0"/>
<circle cx="200.84" cy="483.47" r="1.3" fill="#e0ba68"/>
<circle cx="200.49" cy="483.07" r="0.59" fill="#f7e6b0"/>
<circle cx="203.36" cy="481.31" r="1.3" fill="#e0ba68"/>
<circle cx="203.01" cy="480.91" r="0.59" fill="#f7e6b0"/>
<circle cx="205.72" cy="479.28" r="1.3" fill="#e0ba68"/>
<circle cx="205.37" cy="478.88" r="0.59" fill="#f7e6b0"/>
<circle cx="207.95" cy="477.28" r="1.3" fill="#e0ba68"/>
<circle cx="207.60" cy="476.88" r="0.59" fill="#f7e6b0"/>
<circle cx="210.24" cy="475.15" r="1.3" fill="#e0ba68"/>
<circle cx="209.89" cy="474.75" r="0.59" fill="#f7e6b0"/>
<circle cx="212.52" cy="473.01" r="1.3" fill="#e0ba68"/>
<circle cx="212.17" cy="472.61" r="0.59" fill="#f7e6b0"/>
<circle cx="214.78" cy="470.84" r="1.3" fill="#e0ba68"/>
<circle cx="214.43" cy="470.44" r="0.59" fill="#f7e6b0"/>
<circle cx="217.05" cy="468.63" r="1.3" fill="#e0ba68"/>
<circle cx="216.70" cy="468.23" r="0.59" fill="#f7e6b0"/>
<circle cx="219.26" cy="466.45" r="1.3" fill="#e0ba68"/>
<circle cx="218.91" cy="466.05" r="0.59" fill="#f7e6b0"/>
<circle cx="221.39" cy="464.28" r="1.3" fill="#e0ba68"/>
<circle cx="221.04" cy="463.88" r="0.59" fill="#f7e6b0"/>
<circle cx="223.38" cy="462.14" r="1.3" fill="#e0ba68"/>
<circle cx="223.03" cy="461.74" r="0.59" fill="#f7e6b0"/>
<circle cx="225.38" cy="459.85" r="1.3" fill="#e0ba68"/>
<circle cx="225.03" cy="459.45" r="0.59" fill="#f7e6b0"/>
<circle cx="227.42" cy="457.45" r="1.3" fill="#e0ba68"/>
<circle cx="227.07" cy="457.05" r="0.59" fill="#f7e6b0"/>
<circle cx="174.45" cy="560.03" r="1.45" fill="#e0ba68"/>
<circle cx="174.10" cy="559.63" r="0.65" fill="#f7e6b0"/>
<circle cx="174.20" cy="556.84" r="1.45" fill="#e0ba68"/>
<circle cx="173.85" cy="556.44" r="0.65" fill="#f7e6b0"/>
<circle cx="173.93" cy="553.64" r="1.45" fill="#e0ba68"/>
<circle cx="173.58" cy="553.24" r="0.65" fill="#f7e6b0"/>
<circle cx="173.66" cy="550.44" r="1.45" fill="#e0ba68"/>
<circle cx="173.31" cy="550.04" r="0.65" fill="#f7e6b0"/>
<circle cx="173.32" cy="547.10" r="1.45" fill="#e0ba68"/>
<circle cx="172.97" cy="546.70" r="0.65" fill="#f7e6b0"/>
<circle cx="172.93" cy="543.94" r="1.45" fill="#e0ba68"/>
<circle cx="172.58" cy="543.54" r="0.65" fill="#f7e6b0"/>
<circle cx="172.65" cy="541.04" r="1.45" fill="#e0ba68"/>
<circle cx="172.30" cy="540.64" r="0.65" fill="#f7e6b0"/>
<circle cx="172.59" cy="538.13" r="1.45" fill="#e0ba68"/>
<circle cx="172.24" cy="537.73" r="0.65" fill="#f7e6b0"/>
<circle cx="172.69" cy="535.18" r="1.45" fill="#e0ba68"/>
<circle cx="172.34" cy="534.78" r="0.65" fill="#f7e6b0"/>
<circle cx="172.92" cy="532.11" r="1.45" fill="#e0ba68"/>
<circle cx="172.57" cy="531.71" r="0.65" fill="#f7e6b0"/>
<circle cx="173.23" cy="529.09" r="1.45" fill="#e0ba68"/>
<circle cx="172.88" cy="528.69" r="0.65" fill="#f7e6b0"/>
<circle cx="173.65" cy="526.05" r="1.45" fill="#e0ba68"/>
<circle cx="173.30" cy="525.65" r="0.65" fill="#f7e6b0"/>
<circle cx="174.15" cy="522.97" r="1.45" fill="#e0ba68"/>
<circle cx="173.80" cy="522.57" r="0.65" fill="#f7e6b0"/>
<circle cx="174.70" cy="519.84" r="1.45" fill="#e0ba68"/>
<circle cx="174.35" cy="519.44" r="0.65" fill="#f7e6b0"/>
<circle cx="175.26" cy="516.74" r="1.45" fill="#e0ba68"/>
<circle cx="174.91" cy="516.34" r="0.65" fill="#f7e6b0"/>
<circle cx="175.86" cy="513.73" r="1.45" fill="#e0ba68"/>
<circle cx="175.51" cy="513.33" r="0.65" fill="#f7e6b0"/>
<circle cx="176.55" cy="510.76" r="1.45" fill="#e0ba68"/>
<circle cx="176.20" cy="510.36" r="0.65" fill="#f7e6b0"/>
<circle cx="177.33" cy="507.72" r="1.45" fill="#e0ba68"/>
<circle cx="176.98" cy="507.32" r="0.65" fill="#f7e6b0"/>
<circle cx="178.16" cy="504.86" r="1.45" fill="#e0ba68"/>
<circle cx="177.81" cy="504.46" r="0.65" fill="#f7e6b0"/>
<circle cx="179.11" cy="502.11" r="1.45" fill="#e0ba68"/>
<circle cx="178.76" cy="501.71" r="0.65" fill="#f7e6b0"/>
<circle cx="180.25" cy="499.48" r="1.45" fill="#e0ba68"/>
<circle cx="179.90" cy="499.08" r="0.65" fill="#f7e6b0"/>
<circle cx="181.60" cy="496.78" r="1.45" fill="#e0ba68"/>
<circle cx="181.25" cy="496.38" r="0.65" fill="#f7e6b0"/>
<circle cx="183.09" cy="493.99" r="1.45" fill="#e0ba68"/>
<circle cx="182.74" cy="493.59" r="0.65" fill="#f7e6b0"/>
<circle cx="184.60" cy="491.13" r="1.45" fill="#e0ba68"/>
<circle cx="184.25" cy="490.73" r="0.65" fill="#f7e6b0"/>
<circle cx="186.08" cy="488.34" r="1.45" fill="#e0ba68"/>
<circle cx="185.73" cy="487.94" r="0.65" fill="#f7e6b0"/>
<circle cx="187.57" cy="485.60" r="1.45" fill="#e0ba68"/>
<circle cx="187.22" cy="485.20" r="0.65" fill="#f7e6b0"/>
<circle cx="189.10" cy="482.95" r="1.45" fill="#e0ba68"/>
<circle cx="188.75" cy="482.55" r="0.65" fill="#f7e6b0"/>
<circle cx="190.70" cy="480.36" r="1.45" fill="#e0ba68"/>
<circle cx="190.35" cy="479.96" r="0.65" fill="#f7e6b0"/>
<circle cx="192.41" cy="477.78" r="1.45" fill="#e0ba68"/>
<circle cx="192.06" cy="477.38" r="0.65" fill="#f7e6b0"/>
<circle cx="194.19" cy="475.18" r="1.45" fill="#e0ba68"/>
<circle cx="193.84" cy="474.78" r="0.65" fill="#f7e6b0"/>
<circle cx="195.96" cy="472.68" r="1.45" fill="#e0ba68"/>
<circle cx="195.61" cy="472.28" r="0.65" fill="#f7e6b0"/>
<circle cx="197.84" cy="470.23" r="1.45" fill="#e0ba68"/>
<circle cx="197.49" cy="469.83" r="0.65" fill="#f7e6b0"/>
<circle cx="199.88" cy="467.47" r="1.45" fill="#e0ba68"/>
<circle cx="199.53" cy="467.07" r="0.65" fill="#f7e6b0"/>
<circle cx="201.74" cy="464.74" r="1.45" fill="#e0ba68"/>
<circle cx="201.39" cy="464.34" r="0.65" fill="#f7e6b0"/>
<circle cx="203.51" cy="462.09" r="1.45" fill="#e0ba68"/>
<circle cx="203.16" cy="461.69" r="0.65" fill="#f7e6b0"/>
<circle cx="205.27" cy="459.52" r="1.45" fill="#e0ba68"/>
<circle cx="204.92" cy="459.12" r="0.65" fill="#f7e6b0"/>
<circle cx="207.04" cy="457.13" r="1.45" fill="#e0ba68"/>
<circle cx="206.69" cy="456.73" r="0.65" fill="#f7e6b0"/>
<circle cx="208.91" cy="454.83" r="1.45" fill="#e0ba68"/>
<circle cx="208.56" cy="454.43" r="0.65" fill="#f7e6b0"/>
<circle cx="210.93" cy="452.60" r="1.45" fill="#e0ba68"/>
<circle cx="210.58" cy="452.20" r="0.65" fill="#f7e6b0"/>
<circle cx="213.06" cy="450.36" r="1.45" fill="#e0ba68"/>
<circle cx="212.71" cy="449.96" r="0.65" fill="#f7e6b0"/>
<circle cx="215.28" cy="448.13" r="1.45" fill="#e0ba68"/>
<circle cx="214.93" cy="447.73" r="0.65" fill="#f7e6b0"/>
<circle cx="217.53" cy="445.90" r="1.45" fill="#e0ba68"/>
<circle cx="217.18" cy="445.50" r="0.65" fill="#f7e6b0"/>
<circle cx="219.79" cy="443.70" r="1.45" fill="#e0ba68"/>
<circle cx="219.44" cy="443.30" r="0.65" fill="#f7e6b0"/>
<circle cx="222.06" cy="441.54" r="1.45" fill="#e0ba68"/>
<circle cx="221.71" cy="441.14" r="0.65" fill="#f7e6b0"/>
<circle cx="224.37" cy="439.40" r="1.45" fill="#e0ba68"/>
<circle cx="224.02" cy="439.00" r="0.65" fill="#f7e6b0"/>
<circle cx="226.73" cy="437.25" r="1.45" fill="#e0ba68"/>
<circle cx="226.38" cy="436.85" r="0.65" fill="#f7e6b0"/>
<circle cx="171.49" cy="561.88" r="1.45" fill="#e0ba68"/>
<circle cx="171.14" cy="561.48" r="0.65" fill="#f7e6b0"/>
<circle cx="171.24" cy="558.69" r="1.45" fill="#e0ba68"/>
<circle cx="170.89" cy="558.29" r="0.65" fill="#f7e6b0"/>
<circle cx="170.97" cy="555.50" r="1.45" fill="#e0ba68"/>
<circle cx="170.62" cy="555.10" r="0.65" fill="#f7e6b0"/>
<circle cx="170.71" cy="552.30" r="1.45" fill="#e0ba68"/>
<circle cx="170.36" cy="551.90" r="0.65" fill="#f7e6b0"/>
<circle cx="170.42" cy="549.10" r="1.45" fill="#e0ba68"/>
<circle cx="170.07" cy="548.70" r="0.65" fill="#f7e6b0"/>
<circle cx="170.04" cy="545.88" r="1.45" fill="#e0ba68"/>
<circle cx="169.69" cy="545.48" r="0.65" fill="#f7e6b0"/>
<circle cx="169.68" cy="542.74" r="1.45" fill="#e0ba68"/>
<circle cx="169.33" cy="542.34" r="0.65" fill="#f7e6b0"/>
<circle cx="169.49" cy="539.67" r="1.45" fill="#e0ba68"/>
<circle cx="169.14" cy="539.27" r="0.65" fill="#f7e6b0"/>
<circle cx="169.52" cy="536.54" r="1.45" fill="#e0ba68"/>
<circle cx="169.17" cy="536.14" r="0.65" fill="#f7e6b0"/>
<circle cx="169.70" cy="533.41" r="1.45" fill="#e0ba68"/>
<circle cx="169.35" cy="533.01" r="0.65" fill="#f7e6b0"/>
<circle cx="169.98" cy="530.26" r="1.45" fill="#e0ba68"/>
<circle cx="169.63" cy="529.86" r="0.65" fill="#f7e6b0"/>
<circle cx="170.36" cy="527.15" r="1.45" fill="#e0ba68"/>
<circle cx="170.01" cy="526.75" r="0.65" fill="#f7e6b0"/>
<circle cx="170.83" cy="524.02" r="1.45" fill="#e0ba68"/>
<circle cx="170.48" cy="523.62" r="0.65" fill="#f7e6b0"/>
<circle cx="171.37" cy="520.88" r="1.45" fill="#e0ba68"/>
<circle cx="171.02" cy="520.48" r="0.65" fill="#f7e6b0"/>
<circle cx="171.92" cy="517.73" r="1.45" fill="#e0ba68"/>
<circle cx="171.57" cy="517.33" r="0.65" fill="#f7e6b0"/>
<circle cx="172.51" cy="514.61" r="1.45" fill="#e0ba68"/>
<circle cx="172.16" cy="514.21" r="0.65" fill="#f7e6b0"/>
<circle cx="173.17" cy="511.54" r="1.45" fill="#e0ba68"/>
<circle cx="172.82" cy="511.14" r="0.65" fill="#f7e6b0"/>
<circle cx="173.94" cy="508.46" r="1.45" fill="#e0ba68"/>
<circle cx="173.59" cy="508.06" r="0.65" fill="#f7e6b0"/>
<circle cx="174.75" cy="505.42" r="1.45" fill="#e0ba68"/>
<circle cx="174.40" cy="505.02" r="0.65" fill="#f7e6b0"/>
<circle cx="175.69" cy="502.44" r="1.45" fill="#e0ba68"/>
<circle cx="175.34" cy="502.04" r="0.65" fill="#f7e6b0"/>
<circle cx="176.81" cy="499.56" r="1.45" fill="#e0ba68"/>
<circle cx="176.46" cy="499.16" r="0.65" fill="#f7e6b0"/>
<circle cx="178.14" cy="496.74" r="1.45" fill="#e0ba68"/>
<circle cx="177.79" cy="496.34" r="0.65" fill="#f7e6b0"/>
<circle cx="179.60" cy="493.94" r="1.45" fill="#e0ba68"/>
<circle cx="179.25" cy="493.54" r="0.65" fill="#f7e6b0"/>
<circle cx="181.11" cy="491.11" r="1.45" fill="#e0ba68"/>
<circle cx="180.76" cy="490.71" r="0.65" fill="#f7e6b0"/>
<circle cx="182.60" cy="488.28" r="1.45" fill="#e0ba68"/>
<circle cx="182.25" cy="487.88" r="0.65" fill="#f7e6b0"/>
<circle cx="184.10" cy="485.48" r="1.45" fill="#e0ba68"/>
<circle cx="183.75" cy="485.08" r="0.65" fill="#f7e6b0"/>
<circle cx="185.64" cy="482.71" r="1.45" fill="#e0ba68"/>
<circle cx="185.29" cy="482.31" r="0.65" fill="#f7e6b0"/>
<circle cx="187.25" cy="480.01" r="1.45" fill="#e0ba68"/>
<circle cx="186.90" cy="479.61" r="0.65" fill="#f7e6b0"/>
<circle cx="188.96" cy="477.35" r="1.45" fill="#e0ba68"/>
<circle cx="188.61" cy="476.95" r="0.65" fill="#f7e6b0"/>
<circle cx="190.74" cy="474.72" r="1.45" fill="#e0ba68"/>
<circle cx="190.39" cy="474.32" r="0.65" fill="#f7e6b0"/>
<circle cx="192.56" cy="472.10" r="1.45" fill="#e0ba68"/>
<circle cx="192.21" cy="471.70" r="0.65" fill="#f7e6b0"/>
<circle cx="194.41" cy="469.59" r="1.45" fill="#e0ba68"/>
<circle cx="194.06" cy="469.19" r="0.65" fill="#f7e6b0"/>
<circle cx="196.38" cy="467.03" r="1.45" fill="#e0ba68"/>
<circle cx="196.03" cy="466.63" r="0.65" fill="#f7e6b0"/>
<circle cx="198.27" cy="464.36" r="1.45" fill="#e0ba68"/>
<circle cx="197.92" cy="463.96" r="0.65" fill="#f7e6b0"/>
<circle cx="200.05" cy="461.69" r="1.45" fill="#e0ba68"/>
<circle cx="199.70" cy="461.29" r="0.65" fill="#f7e6b0"/>
<circle cx="201.83" cy="459.04" r="1.45" fill="#e0ba68"/>
<circle cx="201.48" cy="458.64" r="0.65" fill="#f7e6b0"/>
<circle cx="203.64" cy="456.48" r="1.45" fill="#e0ba68"/>
<circle cx="203.29" cy="456.08" r="0.65" fill="#f7e6b0"/>
<circle cx="205.55" cy="454.01" r="1.45" fill="#e0ba68"/>
<circle cx="205.20" cy="453.61" r="0.65" fill="#f7e6b0"/>
<circle cx="207.60" cy="451.64" r="1.45" fill="#e0ba68"/>
<circle cx="207.25" cy="451.24" r="0.65" fill="#f7e6b0"/>
<circle cx="209.75" cy="449.33" r="1.45" fill="#e0ba68"/>
<circle cx="209.40" cy="448.93" r="0.65" fill="#f7e6b0"/>
<circle cx="211.97" cy="447.06" r="1.45" fill="#e0ba68"/>
<circle cx="211.62" cy="446.66" r="0.65" fill="#f7e6b0"/>
<circle cx="214.22" cy="444.81" r="1.45" fill="#e0ba68"/>
<circle cx="213.87" cy="444.41" r="0.65" fill="#f7e6b0"/>
<circle cx="216.50" cy="442.58" r="1.45" fill="#e0ba68"/>
<circle cx="216.15" cy="442.18" r="0.65" fill="#f7e6b0"/>
<circle cx="218.78" cy="440.37" r="1.45" fill="#e0ba68"/>
<circle cx="218.43" cy="439.97" r="0.65" fill="#f7e6b0"/>
<circle cx="221.11" cy="438.19" r="1.45" fill="#e0ba68"/>
<circle cx="220.76" cy="437.79" r="0.65" fill="#f7e6b0"/>
<circle cx="223.46" cy="436.04" r="1.45" fill="#e0ba68"/>
<circle cx="223.11" cy="435.64" r="0.65" fill="#f7e6b0"/>
<circle cx="225.83" cy="433.88" r="1.45" fill="#e0ba68"/>
<circle cx="225.48" cy="433.48" r="0.65" fill="#f7e6b0"/>
<circle cx="175.45" cy="560.29" r="1.45" fill="#e0ba68"/>
<circle cx="175.10" cy="559.89" r="0.65" fill="#f7e6b0"/>
<circle cx="175.52" cy="557.09" r="1.45" fill="#e0ba68"/>
<circle cx="175.17" cy="556.69" r="0.65" fill="#f7e6b0"/>
<circle cx="175.61" cy="553.85" r="1.45" fill="#e0ba68"/>
<circle cx="175.26" cy="553.45" r="0.65" fill="#f7e6b0"/>
<circle cx="175.74" cy="550.58" r="1.45" fill="#e0ba68"/>
<circle cx="175.39" cy="550.18" r="0.65" fill="#f7e6b0"/>
<circle cx="175.94" cy="547.26" r="1.45" fill="#e0ba68"/>
<circle cx="175.59" cy="546.86" r="0.65" fill="#f7e6b0"/>
<circle cx="176.21" cy="544.01" r="1.45" fill="#e0ba68"/>
<circle cx="175.86" cy="543.61" r="0.65" fill="#f7e6b0"/>
<circle cx="176.55" cy="540.71" r="1.45" fill="#e0ba68"/>
<circle cx="176.20" cy="540.31" r="0.65" fill="#f7e6b0"/>
<circle cx="176.96" cy="537.43" r="1.45" fill="#e0ba68"/>
<circle cx="176.61" cy="537.03" r="0.65" fill="#f7e6b0"/>
<circle cx="177.49" cy="534.10" r="1.45" fill="#e0ba68"/>
<circle cx="177.14" cy="533.70" r="0.65" fill="#f7e6b0"/>
<circle cx="178.09" cy="530.86" r="1.45" fill="#e0ba68"/>
<circle cx="177.74" cy="530.46" r="0.65" fill="#f7e6b0"/>
<circle cx="178.78" cy="527.62" r="1.45" fill="#e0ba68"/>
<circle cx="178.43" cy="527.22" r="0.65" fill="#f7e6b0"/>
<circle cx="179.57" cy="524.35" r="1.45" fill="#e0ba68"/>
<circle cx="179.22" cy="523.95" r="0.65" fill="#f7e6b0"/>
<circle cx="180.46" cy="521.14" r="1.45" fill="#e0ba68"/>
<circle cx="180.11" cy="520.74" r="0.65" fill="#f7e6b0"/>
<circle cx="181.44" cy="517.97" r="1.45" fill="#e0ba68"/>
<circle cx="181.09" cy="517.57" r="0.65" fill="#f7e6b0"/>
<circle cx="182.54" cy="514.78" r="1.45" fill="#e0ba68"/>
<circle cx="182.19" cy="514.38" r="0.65" fill="#f7e6b0"/>
<circle cx="183.74" cy="511.64" r="1.45" fill="#e0ba68"/>
<circle cx="183.39" cy="511.24" r="0.65" fill="#f7e6b0"/>
<circle cx="185.13" cy="508.48" r="1.45" fill="#e0ba68"/>
<circle cx="184.78" cy="508.08" r="0.65" fill="#f7e6b0"/>
<circle cx="186.62" cy="505.47" r="1.45" fill="#e0ba68"/>
<circle cx="186.27" cy="505.07" r="0.65" fill="#f7e6b0"/>
<circle cx="188.25" cy="502.46" r="1.45" fill="#e0ba68"/>
<circle cx="187.90" cy="502.06" r="0.65" fill="#f7e6b0"/>
<circle cx="190.01" cy="499.55" r="1.45" fill="#e0ba68"/>
<circle cx="189.66" cy="499.15" r="0.65" fill="#f7e6b0"/>
<circle cx="192.03" cy="496.63" r="1.45" fill="#e0ba68"/>
<circle cx="191.68" cy="496.23" r="0.65" fill="#f7e6b0"/>
<circle cx="194.39" cy="493.79" r="1.45" fill="#e0ba68"/>
<circle cx="194.04" cy="493.39" r="0.65" fill="#f7e6b0"/>
<circle cx="196.87" cy="491.29" r="1.45" fill="#e0ba68"/>
<circle cx="196.52" cy="490.89" r="0.65" fill="#f7e6b0"/>
<circle cx="199.28" cy="489.08" r="1.45" fill="#e0ba68"/>
<circle cx="198.93" cy="488.68" r="0.65" fill="#f7e6b0"/>
<circle cx="201.64" cy="486.92" r="1.45" fill="#e0ba68"/>
<circle cx="201.29" cy="486.52" r="0.65" fill="#f7e6b0"/>
<circle cx="204.13" cy="484.72" r="1.45" fill="#e0ba68"/>
<circle cx="203.78" cy="484.32" r="0.65" fill="#f7e6b0"/>
<circle cx="206.57" cy="482.64" r="1.45" fill="#e0ba68"/>
<circle cx="206.22" cy="482.24" r="0.65" fill="#f7e6b0"/>
<circle cx="208.90" cy="480.60" r="1.45" fill="#e0ba68"/>
<circle cx="208.55" cy="480.20" r="0.65" fill="#f7e6b0"/>
<circle cx="211.20" cy="478.49" r="1.45" fill="#e0ba68"/>
<circle cx="210.85" cy="478.09" r="0.65" fill="#f7e6b0"/>
<circle cx="213.51" cy="476.34" r="1.45" fill="#e0ba68"/>
<circle cx="213.16" cy="475.94" r="0.65" fill="#f7e6b0"/>
<circle cx="215.80" cy="474.16" r="1.45" fill="#e0ba68"/>
<circle cx="215.45" cy="473.76" r="0.65" fill="#f7e6b0"/>
<circle cx="218.08" cy="471.95" r="1.45" fill="#e0ba68"/>
<circle cx="217.73" cy="471.55" r="0.65" fill="#f7e6b0"/>
<circle cx="220.34" cy="469.74" r="1.45" fill="#e0ba68"/>
<circle cx="219.99" cy="469.34" r="0.65" fill="#f7e6b0"/>
<circle cx="222.55" cy="467.53" r="1.45" fill="#e0ba68"/>
<circle cx="222.20" cy="467.13" r="0.65" fill="#f7e6b0"/>
<circle cx="224.68" cy="465.32" r="1.45" fill="#e0ba68"/>
<circle cx="224.33" cy="464.92" r="0.65" fill="#f7e6b0"/>
<circle cx="226.72" cy="463.05" r="1.45" fill="#e0ba68"/>
<circle cx="226.37" cy="462.65" r="0.65" fill="#f7e6b0"/>
<circle cx="228.76" cy="460.66" r="1.45" fill="#e0ba68"/>
<circle cx="228.41" cy="460.26" r="0.65" fill="#f7e6b0"/>
<circle cx="230.85" cy="458.19" r="1.45" fill="#e0ba68"/>
<circle cx="230.50" cy="457.79" r="0.65" fill="#f7e6b0"/>
<circle cx="178.50" cy="561.95" r="1.45" fill="#e0ba68"/>
<circle cx="178.15" cy="561.55" r="0.65" fill="#f7e6b0"/>
<circle cx="178.58" cy="558.77" r="1.45" fill="#e0ba68"/>
<circle cx="178.23" cy="558.37" r="0.65" fill="#f7e6b0"/>
<circle cx="178.66" cy="555.56" r="1.45" fill="#e0ba68"/>
<circle cx="178.31" cy="555.16" r="0.65" fill="#f7e6b0"/>
<circle cx="178.77" cy="552.35" r="1.45" fill="#e0ba68"/>
<circle cx="178.42" cy="551.95" r="0.65" fill="#f7e6b0"/>
<circle cx="178.92" cy="549.12" r="1.45" fill="#e0ba68"/>
<circle cx="178.57" cy="548.72" r="0.65" fill="#f7e6b0"/>
<circle cx="179.16" cy="545.89" r="1.45" fill="#e0ba68"/>
<circle cx="178.81" cy="545.49" r="0.65" fill="#f7e6b0"/>
<circle cx="179.45" cy="542.68" r="1.45" fill="#e0ba68"/>
<circle cx="179.10" cy="542.28" r="0.65" fill="#f7e6b0"/>
<circle cx="179.82" cy="539.47" r="1.45" fill="#e0ba68"/>
<circle cx="179.47" cy="539.07" r="0.65" fill="#f7e6b0"/>
<circle cx="180.27" cy="536.25" r="1.45" fill="#e0ba68"/>
<circle cx="179.92" cy="535.85" r="0.65" fill="#f7e6b0"/>
<circle cx="180.83" cy="533.06" r="1.45" fill="#e0ba68"/>
<circle cx="180.48" cy="532.66" r="0.65" fill="#f7e6b0"/>
<circle cx="181.46" cy="529.87" r="1.45" fill="#e0ba68"/>
<circle cx="181.11" cy="529.47" r="0.65" fill="#f7e6b0"/>
<circle cx="182.18" cy="526.72" r="1.45" fill="#e0ba68"/>
<circle cx="181.83" cy="526.32" r="0.65" fill="#f7e6b0"/>
<circle cx="182.99" cy="523.58" r="1.45" fill="#e0ba68"/>
<circle cx="182.64" cy="523.18" r="0.65" fill="#f7e6b0"/>
<circle cx="183.90" cy="520.45" r="1.45" fill="#e0ba68"/>
<circle cx="183.55" cy="520.05" r="0.65" fill="#f7e6b0"/>
<circle cx="184.91" cy="517.37" r="1.45" fill="#e0ba68"/>
<circle cx="184.56" cy="516.97" r="0.65" fill="#f7e6b0"/>
<circle cx="186.02" cy="514.31" r="1.45" fill="#e0ba68"/>
<circle cx="185.67" cy="513.91" r="0.65" fill="#f7e6b0"/>
<circle cx="187.26" cy="511.29" r="1.45" fill="#e0ba68"/>
<circle cx="186.91" cy="510.89" r="0.65" fill="#f7e6b0"/>
<circle cx="188.65" cy="508.32" r="1.45" fill="#e0ba68"/>
<circle cx="188.30" cy="507.92" r="0.65" fill="#f7e6b0"/>
<circle cx="190.14" cy="505.44" r="1.45" fill="#e0ba68"/>
<circle cx="189.79" cy="505.04" r="0.65" fill="#f7e6b0"/>
<circle cx="191.77" cy="502.59" r="1.45" fill="#e0ba68"/>
<circle cx="191.42" cy="502.19" r="0.65" fill="#f7e6b0"/>
<circle cx="193.55" cy="499.84" r="1.45" fill="#e0ba68"/>
<circle cx="193.20" cy="499.44" r="0.65" fill="#f7e6b0"/>
<circle cx="195.55" cy="497.16" r="1.45" fill="#e0ba68"/>
<circle cx="195.20" cy="496.76" r="0.65" fill="#f7e6b0"/>
<circle cx="197.81" cy="494.70" r="1.45" fill="#e0ba68"/>
<circle cx="197.46" cy="494.30" r="0.65" fill="#f7e6b0"/>
<circle cx="200.18" cy="492.46" r="1.45" fill="#e0ba68"/>
<circle cx="199.83" cy="492.06" r="0.65" fill="#f7e6b0"/>
<circle cx="202.53" cy="490.31" r="1.45" fill="#e0ba68"/>
<circle cx="202.18" cy="489.91" r="0.65" fill="#f7e6b0"/>
<circle cx="204.93" cy="488.13" r="1.45" fill="#e0ba68"/>
<circle cx="204.58" cy="487.73" r="0.65" fill="#f7e6b0"/>
<circle cx="207.37" cy="486.03" r="1.45" fill="#e0ba68"/>
<circle cx="207.02" cy="485.63" r="0.65" fill="#f7e6b0"/>
<circle cx="209.79" cy="483.96" r="1.45" fill="#e0ba68"/>
<circle cx="209.44" cy="483.56" r="0.65" fill="#f7e6b0"/>
<circle cx="212.14" cy="481.84" r="1.45" fill="#e0ba68"/>
<circle cx="211.79" cy="481.44" r="0.65" fill="#f7e6b0"/>
<circle cx="214.48" cy="479.68" r="1.45" fill="#e0ba68"/>
<circle cx="214.13" cy="479.28" r="0.65" fill="#f7e6b0"/>
<circle cx="216.80" cy="477.50" r="1.45" fill="#e0ba68"/>
<circle cx="216.45" cy="477.10" r="0.65" fill="#f7e6b0"/>
<circle cx="219.10" cy="475.29" r="1.45" fill="#e0ba68"/>
<circle cx="218.75" cy="474.89" r="0.65" fill="#f7e6b0"/>
<circle cx="221.38" cy="473.06" r="1.45" fill="#e0ba68"/>
<circle cx="221.03" cy="472.66" r="0.65" fill="#f7e6b0"/>
<circle cx="223.65" cy="470.83" r="1.45" fill="#e0ba68"/>
<circle cx="223.30" cy="470.43" r="0.65" fill="#f7e6b0"/>
<circle cx="225.87" cy="468.57" r="1.45" fill="#e0ba68"/>
<circle cx="225.52" cy="468.17" r="0.65" fill="#f7e6b0"/>
<circle cx="228.01" cy="466.26" r="1.45" fill="#e0ba68"/>
<circle cx="227.66" cy="465.86" r="0.65" fill="#f7e6b0"/>
<circle cx="230.10" cy="463.88" r="1.45" fill="#e0ba68"/>
<circle cx="229.75" cy="463.48" r="0.65" fill="#f7e6b0"/>
<circle cx="232.16" cy="461.44" r="1.45" fill="#e0ba68"/>
<circle cx="231.81" cy="461.04" r="0.65" fill="#f7e6b0"/>
<circle cx="229.90" cy="459.69" r="1.45" fill="#e0ba68"/>
<circle cx="229.55" cy="459.29" r="0.65" fill="#f7e6b0"/>
<circle cx="229.68" cy="456.58" r="1.45" fill="#e0ba68"/>
<circle cx="229.33" cy="456.18" r="0.65" fill="#f7e6b0"/>
<circle cx="229.35" cy="453.68" r="1.45" fill="#e0ba68"/>
<circle cx="229.00" cy="453.28" r="0.65" fill="#f7e6b0"/>
<circle cx="228.81" cy="450.86" r="1.45" fill="#e0ba68"/>
<circle cx="228.46" cy="450.46" r="0.65" fill="#f7e6b0"/>
<circle cx="228.10" cy="447.89" r="1.45" fill="#e0ba68"/>
<circle cx="227.75" cy="447.49" r="0.65" fill="#f7e6b0"/>
<circle cx="227.31" cy="444.95" r="1.45" fill="#e0ba68"/>
<circle cx="226.96" cy="444.55" r="0.65" fill="#f7e6b0"/>
<circle cx="226.40" cy="442.04" r="1.45" fill="#e0ba68"/>
<circle cx="226.05" cy="441.64" r="0.65" fill="#f7e6b0"/>
<circle cx="225.39" cy="439.01" r="1.45" fill="#e0ba68"/>
<circle cx="225.04" cy="438.61" r="0.65" fill="#f7e6b0"/>
<circle cx="224.38" cy="436.06" r="1.45" fill="#e0ba68"/>
<circle cx="224.03" cy="435.66" r="0.65" fill="#f7e6b0"/>
<circle cx="233.00" cy="461.12" r="1.45" fill="#e0ba68"/>
<circle cx="232.65" cy="460.72" r="0.65" fill="#f7e6b0"/>
<circle cx="232.79" cy="457.91" r="1.45" fill="#e0ba68"/>
<circle cx="232.44" cy="457.51" r="0.65" fill="#f7e6b0"/>
<circle cx="232.52" cy="454.78" r="1.45" fill="#e0ba68"/>
<circle cx="232.17" cy="454.38" r="0.65" fill="#f7e6b0"/>
<circle cx="232.06" cy="451.74" r="1.45" fill="#e0ba68"/>
<circle cx="231.71" cy="451.34" r="0.65" fill="#f7e6b0"/>
<circle cx="231.39" cy="448.68" r="1.45" fill="#e0ba68"/>
<circle cx="231.04" cy="448.28" r="0.65" fill="#f7e6b0"/>
<circle cx="230.61" cy="445.61" r="1.45" fill="#e0ba68"/>
<circle cx="230.26" cy="445.21" r="0.65" fill="#f7e6b0"/>
<circle cx="229.74" cy="442.61" r="1.45" fill="#e0ba68"/>
<circle cx="229.39" cy="442.21" r="0.65" fill="#f7e6b0"/>
<circle cx="228.75" cy="439.59" r="1.45" fill="#e0ba68"/>
<circle cx="228.40" cy="439.19" r="0.65" fill="#f7e6b0"/>
<circle cx="227.73" cy="436.57" r="1.45" fill="#e0ba68"/>
<circle cx="227.38" cy="436.17" r="0.65" fill="#f7e6b0"/>
<circle cx="226.68" cy="433.56" r="1.45" fill="#e0ba68"/>
<circle cx="226.33" cy="433.16" r="0.65" fill="#f7e6b0"/>
<circle cx="172.41" cy="560.20" r=".62" fill="#4a2a08"/>
<circle cx="172.15" cy="557.01" r=".62" fill="#4a2a08"/>
<circle cx="171.89" cy="553.81" r=".62" fill="#4a2a08"/>
<circle cx="171.62" cy="550.62" r=".62" fill="#4a2a08"/>
<circle cx="171.28" cy="547.35" r=".62" fill="#4a2a08"/>
<circle cx="170.89" cy="544.18" r=".62" fill="#4a2a08"/>
<circle cx="170.60" cy="541.15" r=".62" fill="#4a2a08"/>
<circle cx="170.54" cy="538.12" r=".62" fill="#4a2a08"/>
<circle cx="170.65" cy="535.05" r=".62" fill="#4a2a08"/>
<circle cx="170.88" cy="531.93" r=".62" fill="#4a2a08"/>
<circle cx="171.19" cy="528.84" r=".62" fill="#4a2a08"/>
<circle cx="171.62" cy="525.74" r=".62" fill="#4a2a08"/>
<circle cx="172.13" cy="522.62" r=".62" fill="#4a2a08"/>
<circle cx="172.68" cy="519.48" r=".62" fill="#4a2a08"/>
<circle cx="173.24" cy="516.36" r=".62" fill="#4a2a08"/>
<circle cx="173.85" cy="513.30" r=".62" fill="#4a2a08"/>
<circle cx="174.56" cy="510.26" r=".62" fill="#4a2a08"/>
<circle cx="175.35" cy="507.19" r=".62" fill="#4a2a08"/>
<circle cx="176.20" cy="504.24" r=".62" fill="#4a2a08"/>
<circle cx="177.20" cy="501.37" r=".62" fill="#4a2a08"/>
<circle cx="178.40" cy="498.60" r=".62" fill="#4a2a08"/>
<circle cx="179.79" cy="495.83" r=".62" fill="#4a2a08"/>
<circle cx="181.28" cy="493.03" r=".62" fill="#4a2a08"/>
<circle cx="182.79" cy="490.18" r=".62" fill="#4a2a08"/>
<circle cx="184.27" cy="487.37" r=".62" fill="#4a2a08"/>
<circle cx="185.78" cy="484.60" r=".62" fill="#4a2a08"/>
<circle cx="187.34" cy="481.89" r=".62" fill="#4a2a08"/>
<circle cx="188.98" cy="479.25" r=".62" fill="#4a2a08"/>
<circle cx="190.71" cy="476.62" r=".62" fill="#4a2a08"/>
<circle cx="192.51" cy="474.01" r=".62" fill="#4a2a08"/>
<circle cx="194.31" cy="471.46" r=".62" fill="#4a2a08"/>
<circle cx="196.22" cy="468.97" r=".62" fill="#4a2a08"/>
<circle cx="198.20" cy="466.30" r=".62" fill="#4a2a08"/>
<circle cx="200.04" cy="463.60" r=".62" fill="#4a2a08"/>
<circle cx="201.81" cy="460.95" r=".62" fill="#4a2a08"/>
<circle cx="203.59" cy="458.35" r=".62" fill="#4a2a08"/>
<circle cx="205.42" cy="455.88" r=".62" fill="#4a2a08"/>
<circle cx="207.36" cy="453.50" r=".62" fill="#4a2a08"/>
<circle cx="209.43" cy="451.20" r=".62" fill="#4a2a08"/>
<circle cx="211.60" cy="448.93" r=".62" fill="#4a2a08"/>
<circle cx="213.83" cy="446.68" r=".62" fill="#4a2a08"/>
<circle cx="216.09" cy="444.44" r=".62" fill="#4a2a08"/>
<circle cx="218.37" cy="442.22" r=".62" fill="#4a2a08"/>
<circle cx="220.66" cy="440.04" r=".62" fill="#4a2a08"/>
<circle cx="222.99" cy="437.89" r=".62" fill="#4a2a08"/>
<circle cx="225.35" cy="435.74" r=".62" fill="#4a2a08"/>
<circle cx="173.59" cy="561.70" r=".62" fill="#4a2a08"/>
<circle cx="173.33" cy="558.52" r=".62" fill="#4a2a08"/>
<circle cx="173.07" cy="555.32" r=".62" fill="#4a2a08"/>
<circle cx="172.80" cy="552.12" r=".62" fill="#4a2a08"/>
<circle cx="172.51" cy="548.90" r=".62" fill="#4a2a08"/>
<circle cx="172.13" cy="545.62" r=".62" fill="#4a2a08"/>
<circle cx="171.77" cy="542.53" r=".62" fill="#4a2a08"/>
<circle cx="171.59" cy="539.63" r=".62" fill="#4a2a08"/>
<circle cx="171.62" cy="536.61" r=".62" fill="#4a2a08"/>
<circle cx="171.80" cy="533.57" r=".62" fill="#4a2a08"/>
<circle cx="172.07" cy="530.46" r=".62" fill="#4a2a08"/>
<circle cx="172.44" cy="527.44" r=".62" fill="#4a2a08"/>
<circle cx="172.91" cy="524.35" r=".62" fill="#4a2a08"/>
<circle cx="173.44" cy="521.24" r=".62" fill="#4a2a08"/>
<circle cx="173.99" cy="518.10" r=".62" fill="#4a2a08"/>
<circle cx="174.57" cy="515.02" r=".62" fill="#4a2a08"/>
<circle cx="175.22" cy="512.02" r=".62" fill="#4a2a08"/>
<circle cx="175.97" cy="508.98" r=".62" fill="#4a2a08"/>
<circle cx="176.77" cy="506.01" r=".62" fill="#4a2a08"/>
<circle cx="177.67" cy="503.14" r=".62" fill="#4a2a08"/>
<circle cx="178.74" cy="500.40" r=".62" fill="#4a2a08"/>
<circle cx="180.01" cy="497.69" r=".62" fill="#4a2a08"/>
<circle cx="181.45" cy="494.93" r=".62" fill="#4a2a08"/>
<circle cx="182.97" cy="492.09" r=".62" fill="#4a2a08"/>
<circle cx="184.46" cy="489.26" r=".62" fill="#4a2a08"/>
<circle cx="185.95" cy="486.48" r=".62" fill="#4a2a08"/>
<circle cx="187.46" cy="483.76" r=".62" fill="#4a2a08"/>
<circle cx="189.03" cy="481.12" r=".62" fill="#4a2a08"/>
<circle cx="190.71" cy="478.52" r=".62" fill="#4a2a08"/>
<circle cx="192.47" cy="475.91" r=".62" fill="#4a2a08"/>
<circle cx="194.28" cy="473.31" r=".62" fill="#4a2a08"/>
<circle cx="196.07" cy="470.87" r=".62" fill="#4a2a08"/>
<circle cx="198.06" cy="468.28" r=".62" fill="#4a2a08"/>
<circle cx="200.00" cy="465.54" r=".62" fill="#4a2a08"/>
<circle cx="201.80" cy="462.85" r=".62" fill="#4a2a08"/>
<circle cx="203.57" cy="460.22" r=".62" fill="#4a2a08"/>
<circle cx="205.33" cy="457.72" r=".62" fill="#4a2a08"/>
<circle cx="207.18" cy="455.35" r=".62" fill="#4a2a08"/>
<circle cx="209.16" cy="453.05" r=".62" fill="#4a2a08"/>
<circle cx="211.27" cy="450.79" r=".62" fill="#4a2a08"/>
<circle cx="213.46" cy="448.53" r=".62" fill="#4a2a08"/>
<circle cx="215.69" cy="446.31" r=".62" fill="#4a2a08"/>
<circle cx="217.96" cy="444.08" r=".62" fill="#4a2a08"/>
<circle cx="220.23" cy="441.89" r=".62" fill="#4a2a08"/>
<circle cx="222.53" cy="439.74" r=".62" fill="#4a2a08"/>
<circle cx="224.87" cy="437.59" r=".62" fill="#4a2a08"/>
<circle cx="227.25" cy="435.42" r=".62" fill="#4a2a08"/>
<circle cx="177.49" cy="560.34" r=".62" fill="#4a2a08"/>
<circle cx="177.57" cy="557.14" r=".62" fill="#4a2a08"/>
<circle cx="177.66" cy="553.92" r=".62" fill="#4a2a08"/>
<circle cx="177.79" cy="550.68" r=".62" fill="#4a2a08"/>
<circle cx="177.99" cy="547.42" r=".62" fill="#4a2a08"/>
<circle cx="178.25" cy="544.19" r=".62" fill="#4a2a08"/>
<circle cx="178.58" cy="540.95" r=".62" fill="#4a2a08"/>
<circle cx="178.99" cy="537.71" r=".62" fill="#4a2a08"/>
<circle cx="179.51" cy="534.46" r=".62" fill="#4a2a08"/>
<circle cx="180.10" cy="531.26" r=".62" fill="#4a2a08"/>
<circle cx="180.78" cy="528.07" r=".62" fill="#4a2a08"/>
<circle cx="181.56" cy="524.87" r=".62" fill="#4a2a08"/>
<circle cx="182.43" cy="521.71" r=".62" fill="#4a2a08"/>
<circle cx="183.39" cy="518.60" r=".62" fill="#4a2a08"/>
<circle cx="184.46" cy="515.48" r=".62" fill="#4a2a08"/>
<circle cx="185.65" cy="512.41" r=".62" fill="#4a2a08"/>
<circle cx="186.99" cy="509.35" r=".62" fill="#4a2a08"/>
<circle cx="188.44" cy="506.40" r=".62" fill="#4a2a08"/>
<circle cx="190.03" cy="503.48" r=".62" fill="#4a2a08"/>
<circle cx="191.74" cy="500.65" r=".62" fill="#4a2a08"/>
<circle cx="193.67" cy="497.86" r=".62" fill="#4a2a08"/>
<circle cx="195.89" cy="495.18" r=".62" fill="#4a2a08"/>
<circle cx="198.27" cy="492.79" r=".62" fill="#4a2a08"/>
<circle cx="200.66" cy="490.60" r=".62" fill="#4a2a08"/>
<circle cx="203.01" cy="488.44" r=".62" fill="#4a2a08"/>
<circle cx="205.47" cy="486.28" r=".62" fill="#4a2a08"/>
<circle cx="207.91" cy="484.20" r=".62" fill="#4a2a08"/>
<circle cx="210.27" cy="482.13" r=".62" fill="#4a2a08"/>
<circle cx="212.60" cy="480.00" r=".62" fill="#4a2a08"/>
<circle cx="214.92" cy="477.83" r=".62" fill="#4a2a08"/>
<circle cx="217.22" cy="475.64" r=".62" fill="#4a2a08"/>
<circle cx="219.51" cy="473.42" r=".62" fill="#4a2a08"/>
<circle cx="221.78" cy="471.20" r=".62" fill="#4a2a08"/>
<circle cx="224.01" cy="468.97" r=".62" fill="#4a2a08"/>
<circle cx="226.18" cy="466.71" r=".62" fill="#4a2a08"/>
<circle cx="228.27" cy="464.39" r=".62" fill="#4a2a08"/>
<circle cx="230.33" cy="461.99" r=".62" fill="#4a2a08"/>
<circle cx="232.40" cy="459.53" r=".62" fill="#4a2a08"/>
<circle cx="176.40" cy="561.89" r=".62" fill="#4a2a08"/>
<circle cx="176.48" cy="558.72" r=".62" fill="#4a2a08"/>
<circle cx="176.56" cy="555.50" r=".62" fill="#4a2a08"/>
<circle cx="176.67" cy="552.27" r=".62" fill="#4a2a08"/>
<circle cx="176.83" cy="549.00" r=".62" fill="#4a2a08"/>
<circle cx="177.07" cy="545.71" r=".62" fill="#4a2a08"/>
<circle cx="177.36" cy="542.47" r=".62" fill="#4a2a08"/>
<circle cx="177.73" cy="539.21" r=".62" fill="#4a2a08"/>
<circle cx="178.20" cy="535.92" r=".62" fill="#4a2a08"/>
<circle cx="178.76" cy="532.68" r=".62" fill="#4a2a08"/>
<circle cx="179.41" cy="529.43" r=".62" fill="#4a2a08"/>
<circle cx="180.14" cy="526.22" r=".62" fill="#4a2a08"/>
<circle cx="180.96" cy="523.03" r=".62" fill="#4a2a08"/>
<circle cx="181.90" cy="519.83" r=".62" fill="#4a2a08"/>
<circle cx="182.92" cy="516.70" r=".62" fill="#4a2a08"/>
<circle cx="184.06" cy="513.54" r=".62" fill="#4a2a08"/>
<circle cx="185.33" cy="510.46" r=".62" fill="#4a2a08"/>
<circle cx="186.77" cy="507.39" r=".62" fill="#4a2a08"/>
<circle cx="188.30" cy="504.44" r=".62" fill="#4a2a08"/>
<circle cx="189.98" cy="501.49" r=".62" fill="#4a2a08"/>
<circle cx="191.81" cy="498.65" r=".62" fill="#4a2a08"/>
<circle cx="193.94" cy="495.81" r=".62" fill="#4a2a08"/>
<circle cx="196.33" cy="493.21" r=".62" fill="#4a2a08"/>
<circle cx="198.77" cy="490.90" r=".62" fill="#4a2a08"/>
<circle cx="201.11" cy="488.78" r=".62" fill="#4a2a08"/>
<circle cx="203.55" cy="486.55" r=".62" fill="#4a2a08"/>
<circle cx="206.01" cy="484.43" r=".62" fill="#4a2a08"/>
<circle cx="208.41" cy="482.37" r=".62" fill="#4a2a08"/>
<circle cx="210.72" cy="480.30" r=".62" fill="#4a2a08"/>
<circle cx="213.04" cy="478.15" r=".62" fill="#4a2a08"/>
<circle cx="215.35" cy="475.98" r=".62" fill="#4a2a08"/>
<circle cx="217.63" cy="473.78" r=".62" fill="#4a2a08"/>
<circle cx="219.91" cy="471.56" r=".62" fill="#4a2a08"/>
<circle cx="222.16" cy="469.34" r=".62" fill="#4a2a08"/>
<circle cx="224.35" cy="467.12" r=".62" fill="#4a2a08"/>
<circle cx="226.44" cy="464.87" r=".62" fill="#4a2a08"/>
<circle cx="228.50" cy="462.51" r=".62" fill="#4a2a08"/>
<circle cx="230.55" cy="460.09" r=".62" fill="#4a2a08"/>
<circle cx="231.85" cy="459.57" r=".62" fill="#4a2a08"/>
<circle cx="231.62" cy="456.42" r=".62" fill="#4a2a08"/>
<circle cx="231.28" cy="453.40" r=".62" fill="#4a2a08"/>
<circle cx="230.72" cy="450.44" r=".62" fill="#4a2a08"/>
<circle cx="229.99" cy="447.40" r=".62" fill="#4a2a08"/>
<circle cx="229.18" cy="444.40" r=".62" fill="#4a2a08"/>
<circle cx="228.25" cy="441.43" r=".62" fill="#4a2a08"/>
<circle cx="227.25" cy="438.40" r=".62" fill="#4a2a08"/>
<circle cx="226.22" cy="435.42" r=".62" fill="#4a2a08"/>
<circle cx="230.91" cy="461.29" r=".62" fill="#4a2a08"/>
<circle cx="230.69" cy="458.06" r=".62" fill="#4a2a08"/>
<circle cx="230.43" cy="455.02" r=".62" fill="#4a2a08"/>
<circle cx="229.99" cy="452.13" r=".62" fill="#4a2a08"/>
<circle cx="229.35" cy="449.18" r=".62" fill="#4a2a08"/>
<circle cx="228.58" cy="446.15" r=".62" fill="#4a2a08"/>
<circle cx="227.73" cy="443.24" r=".62" fill="#4a2a08"/>
<circle cx="226.75" cy="440.25" r=".62" fill="#4a2a08"/>
<circle cx="225.75" cy="437.26" r=".62" fill="#4a2a08"/>
<circle cx="224.70" cy="434.26" r=".62" fill="#4a2a08"/>
<circle cx="221.83" cy="459.73" r="1.25" fill="#e0ba68"/><circle cx="221.53" cy="459.38" r=".55" fill="#f7e6b0"/>
<circle cx="212.77" cy="459.73" r="1.25" fill="#e0ba68"/><circle cx="212.47" cy="459.38" r=".55" fill="#f7e6b0"/>
<circle cx="212.77" cy="450.67" r="1.25" fill="#e0ba68"/><circle cx="212.47" cy="450.32" r=".55" fill="#f7e6b0"/>
<circle cx="221.83" cy="450.67" r="1.25" fill="#e0ba68"/><circle cx="221.53" cy="450.32" r=".55" fill="#f7e6b0"/>
<circle cx="211.83" cy="471.83" r="1.25" fill="#e0ba68"/><circle cx="211.53" cy="471.48" r=".55" fill="#f7e6b0"/>
<circle cx="202.77" cy="471.83" r="1.25" fill="#e0ba68"/><circle cx="202.47" cy="471.48" r=".55" fill="#f7e6b0"/>
<circle cx="202.77" cy="462.77" r="1.25" fill="#e0ba68"/><circle cx="202.47" cy="462.42" r=".55" fill="#f7e6b0"/>
<circle cx="211.83" cy="462.77" r="1.25" fill="#e0ba68"/><circle cx="211.53" cy="462.42" r=".55" fill="#f7e6b0"/>
<circle cx="201.91" cy="483.51" r="1.25" fill="#e0ba68"/><circle cx="201.61" cy="483.16" r=".55" fill="#f7e6b0"/>
<circle cx="193.29" cy="483.51" r="1.25" fill="#e0ba68"/><circle cx="192.99" cy="483.16" r=".55" fill="#f7e6b0"/>
<circle cx="193.29" cy="474.89" r="1.25" fill="#e0ba68"/><circle cx="192.99" cy="474.54" r=".55" fill="#f7e6b0"/>
<circle cx="201.91" cy="474.89" r="1.25" fill="#e0ba68"/><circle cx="201.61" cy="474.54" r=".55" fill="#f7e6b0"/>
<circle cx="193.49" cy="494.89" r="1.25" fill="#e0ba68"/><circle cx="193.19" cy="494.54" r=".55" fill="#f7e6b0"/>
<circle cx="185.71" cy="494.89" r="1.25" fill="#e0ba68"/><circle cx="185.41" cy="494.54" r=".55" fill="#f7e6b0"/>
<circle cx="185.71" cy="487.11" r="1.25" fill="#e0ba68"/><circle cx="185.41" cy="486.76" r=".55" fill="#f7e6b0"/>
<circle cx="193.49" cy="487.11" r="1.25" fill="#e0ba68"/><circle cx="193.19" cy="486.76" r=".55" fill="#f7e6b0"/>
<circle cx="186.59" cy="506.89" r="1.25" fill="#e0ba68"/><circle cx="186.29" cy="506.54" r=".55" fill="#f7e6b0"/>
<circle cx="179.81" cy="506.89" r="1.25" fill="#e0ba68"/><circle cx="179.51" cy="506.54" r=".55" fill="#f7e6b0"/>
<circle cx="179.81" cy="500.11" r="1.25" fill="#e0ba68"/><circle cx="179.51" cy="499.76" r=".55" fill="#f7e6b0"/>
<circle cx="186.59" cy="500.11" r="1.25" fill="#e0ba68"/><circle cx="186.29" cy="499.76" r=".55" fill="#f7e6b0"/>
<circle cx="181.73" cy="518.83" r="1.25" fill="#e0ba68"/><circle cx="181.43" cy="518.48" r=".55" fill="#f7e6b0"/>
<circle cx="176.07" cy="518.83" r="1.25" fill="#e0ba68"/><circle cx="175.77" cy="518.48" r=".55" fill="#f7e6b0"/>
<circle cx="176.07" cy="513.17" r="1.25" fill="#e0ba68"/><circle cx="175.77" cy="512.82" r=".55" fill="#f7e6b0"/>
<circle cx="181.73" cy="513.17" r="1.25" fill="#e0ba68"/><circle cx="181.43" cy="512.82" r=".55" fill="#f7e6b0"/>
<circle cx="226.77" cy="467.47" r="1.25" fill="#e0ba68"/><circle cx="226.47" cy="467.12" r=".55" fill="#f7e6b0"/>
<circle cx="218.43" cy="467.47" r="1.25" fill="#e0ba68"/><circle cx="218.13" cy="467.12" r=".55" fill="#f7e6b0"/>
<circle cx="218.43" cy="459.13" r="1.25" fill="#e0ba68"/><circle cx="218.13" cy="458.78" r=".55" fill="#f7e6b0"/>
<circle cx="226.77" cy="459.13" r="1.25" fill="#e0ba68"/><circle cx="226.47" cy="458.78" r=".55" fill="#f7e6b0"/>
<circle cx="216.18" cy="479.68" r="1.25" fill="#e0ba68"/><circle cx="215.88" cy="479.33" r=".55" fill="#f7e6b0"/>
<circle cx="207.42" cy="479.68" r="1.25" fill="#e0ba68"/><circle cx="207.12" cy="479.33" r=".55" fill="#f7e6b0"/>
<circle cx="207.42" cy="470.92" r="1.25" fill="#e0ba68"/><circle cx="207.12" cy="470.57" r=".55" fill="#f7e6b0"/>
<circle cx="216.18" cy="470.92" r="1.25" fill="#e0ba68"/><circle cx="215.88" cy="470.57" r=".55" fill="#f7e6b0"/>
<circle cx="206.10" cy="490.60" r="1.25" fill="#e0ba68"/><circle cx="205.80" cy="490.25" r=".55" fill="#f7e6b0"/>
<circle cx="197.90" cy="490.60" r="1.25" fill="#e0ba68"/><circle cx="197.60" cy="490.25" r=".55" fill="#f7e6b0"/>
<circle cx="197.90" cy="482.40" r="1.25" fill="#e0ba68"/><circle cx="197.60" cy="482.05" r=".55" fill="#f7e6b0"/>
<circle cx="206.10" cy="482.40" r="1.25" fill="#e0ba68"/><circle cx="205.80" cy="482.05" r=".55" fill="#f7e6b0"/>
<circle cx="197.11" cy="501.51" r="1.25" fill="#e0ba68"/><circle cx="196.81" cy="501.16" r=".55" fill="#f7e6b0"/>
<circle cx="189.89" cy="501.51" r="1.25" fill="#e0ba68"/><circle cx="189.59" cy="501.16" r=".55" fill="#f7e6b0"/>
<circle cx="189.89" cy="494.29" r="1.25" fill="#e0ba68"/><circle cx="189.59" cy="493.94" r=".55" fill="#f7e6b0"/>
<circle cx="197.11" cy="494.29" r="1.25" fill="#e0ba68"/><circle cx="196.81" cy="493.94" r=".55" fill="#f7e6b0"/>
<circle cx="190.27" cy="512.57" r="1.25" fill="#e0ba68"/><circle cx="189.97" cy="512.22" r=".55" fill="#f7e6b0"/>
<circle cx="184.33" cy="512.57" r="1.25" fill="#e0ba68"/><circle cx="184.03" cy="512.22" r=".55" fill="#f7e6b0"/>
<circle cx="184.33" cy="506.63" r="1.25" fill="#e0ba68"/><circle cx="184.03" cy="506.28" r=".55" fill="#f7e6b0"/>
<circle cx="190.27" cy="506.63" r="1.25" fill="#e0ba68"/><circle cx="189.97" cy="506.28" r=".55" fill="#f7e6b0"/>
<g transform="translate(217.30 455.20) rotate(-46)">
<ellipse rx="6.34" ry="5.35" fill="#9a7428"/>
<ellipse rx="5.94" ry="4.95" fill="#f5f6f9"/>
<ellipse cx="-1.18" cy="0.36" rx="2.20" ry="1.21" transform="rotate(166)" fill="#d3d8e2" opacity=".8"/>
<ellipse cx="-1.09" cy="0.24" rx="2.20" ry="1.21" transform="rotate(106)" fill="#d3d8e2" opacity=".8"/>
<rect x="-3.32" y="0.05" width="1.16" height="1.07" transform="rotate(48 -2.74 0.59)" fill="#1c2230" opacity=".9"/>
<rect x="-3.41" y="2.05" width="1.36" height="1.15" transform="rotate(59 -2.73 2.62)" fill="#4a5266" opacity=".9"/>
<rect x="0.10" y="-4.00" width="1.12" height="1.38" transform="rotate(3 0.66 -3.31)" fill="#4a5266" opacity=".9"/>
<rect x="-0.84" y="0.06" width="1.44" height="1.25" transform="rotate(0 -0.12 0.69)" fill="#161b28" opacity=".9"/>
<rect x="1.96" y="-2.80" width="1.71" height="0.95" transform="rotate(28 2.82 -2.33)" fill="#3d4558" opacity=".9"/>
<rect x="1.46" y="2.28" width="1.36" height="1.37" transform="rotate(6 2.14 2.96)" fill="#161b28" opacity=".9"/>
</g>
<g transform="translate(207.30 467.30) rotate(-56)">
<ellipse rx="6.34" ry="5.35" fill="#9a7428"/>
<ellipse rx="5.94" ry="4.95" fill="#f5f6f9"/>
<ellipse cx="1.50" cy="0.16" rx="2.20" ry="1.21" transform="rotate(38)" fill="#d3d8e2" opacity=".8"/>
<ellipse cx="0.10" cy="-0.05" rx="2.20" ry="1.21" transform="rotate(68)" fill="#d3d8e2" opacity=".8"/>
<rect x="-3.78" y="-2.93" width="1.23" height="1.27" transform="rotate(8 -3.16 -2.30)" fill="#3d4558" opacity=".9"/>
<rect x="-2.66" y="-0.00" width="1.18" height="1.04" transform="rotate(1 -2.07 0.52)" fill="#1c2230" opacity=".9"/>
<rect x="-3.64" y="2.21" width="1.22" height="1.18" transform="rotate(38 -3.03 2.80)" fill="#2b3344" opacity=".9"/>
<rect x="-0.76" y="-2.14" width="1.10" height="1.38" transform="rotate(27 -0.21 -1.45)" fill="#4a5266" opacity=".9"/>
<rect x="-1.41" y="-0.84" width="1.66" height="1.25" transform="rotate(4 -0.58 -0.21)" fill="#1c2230" opacity=".9"/>
<rect x="1.20" y="-2.77" width="1.64" height="1.11" transform="rotate(8 2.02 -2.21)" fill="#1c2230" opacity=".9"/>
<rect x="1.82" y="-0.37" width="1.34" height="1.15" transform="rotate(44 2.49 0.20)" fill="#4a5266" opacity=".9"/>
<rect x="3.14" y="1.10" width="1.20" height="1.40" transform="rotate(22 3.74 1.80)" fill="#4a5266" opacity=".9"/>
</g>
<g transform="translate(197.60 479.20) rotate(-56)">
<ellipse rx="6.02" ry="5.08" fill="#9a7428"/>
<ellipse rx="5.62" ry="4.68" fill="#f5f6f9"/>
<ellipse cx="0.57" cy="1.43" rx="2.08" ry="1.14" transform="rotate(169)" fill="#d3d8e2" opacity=".8"/>
<ellipse cx="0.65" cy="1.87" rx="2.08" ry="1.14" transform="rotate(159)" fill="#d3d8e2" opacity=".8"/>
<rect x="-3.55" y="-3.76" width="1.13" height="1.43" transform="rotate(67 -2.99 -3.05)" fill="#2b3344" opacity=".9"/>
<rect x="-3.70" y="0.17" width="1.42" height="1.19" transform="rotate(11 -2.99 0.77)" fill="#1c2230" opacity=".9"/>
<rect x="-3.12" y="2.01" width="1.15" height="1.02" transform="rotate(67 -2.55 2.52)" fill="#2b3344" opacity=".9"/>
<rect x="-1.12" y="-1.45" width="1.28" height="1.19" transform="rotate(8 -0.47 -0.86)" fill="#2b3344" opacity=".9"/>
<rect x="1.80" y="-2.57" width="1.44" height="1.42" transform="rotate(3 2.52 -1.86)" fill="#4a5266" opacity=".9"/>
<rect x="2.66" y="2.55" width="1.11" height="1.25" transform="rotate(6 3.22 3.17)" fill="#161b28" opacity=".9"/>
</g>
<g transform="translate(189.60 491.00) rotate(-62)">
<ellipse rx="5.37" ry="4.54" fill="#9a7428"/>
<ellipse rx="4.97" ry="4.14" fill="#f5f6f9"/>
<ellipse cx="-0.09" cy="0.23" rx="1.84" ry="1.01" transform="rotate(13)" fill="#d3d8e2" opacity=".8"/>
<ellipse cx="-0.65" cy="0.20" rx="1.84" ry="1.01" transform="rotate(8)" fill="#d3d8e2" opacity=".8"/>
<rect x="-2.98" y="-3.20" width="1.73" height="1.09" transform="rotate(62 -2.11 -2.65)" fill="#1c2230" opacity=".9"/>
<rect x="-2.70" y="-0.83" width="1.61" height="1.37" transform="rotate(1 -1.89 -0.14)" fill="#4a5266" opacity=".9"/>
<rect x="-3.29" y="0.74" width="1.15" height="0.95" transform="rotate(89 -2.71 1.22)" fill="#1c2230" opacity=".9"/>
<rect x="-0.41" y="-2.83" width="1.58" height="1.22" transform="rotate(42 0.38 -2.22)" fill="#161b28" opacity=".9"/>
<rect x="-0.62" y="-0.45" width="1.30" height="0.95" transform="rotate(21 0.03 0.02)" fill="#1c2230" opacity=".9"/>
<rect x="-0.85" y="1.70" width="1.70" height="1.04" transform="rotate(33 -0.00 2.22)" fill="#1c2230" opacity=".9"/>
<rect x="1.88" y="-0.28" width="1.32" height="1.41" transform="rotate(80 2.54 0.42)" fill="#161b28" opacity=".9"/>
<rect x="2.10" y="0.86" width="1.38" height="1.34" transform="rotate(79 2.79 1.53)" fill="#2b3344" opacity=".9"/>
</g>
<g transform="translate(183.20 503.50) rotate(-68)">
<ellipse rx="4.61" ry="3.91" fill="#9a7428"/>
<ellipse rx="4.21" ry="3.51" fill="#f5f6f9"/>
<ellipse cx="-0.68" cy="0.60" rx="1.56" ry="0.86" transform="rotate(57)" fill="#d3d8e2" opacity=".8"/>
<ellipse cx="0.51" cy="0.58" rx="1.56" ry="0.86" transform="rotate(151)" fill="#d3d8e2" opacity=".8"/>
<rect x="-2.47" y="-1.58" width="1.28" height="0.99" transform="rotate(42 -1.83 -1.08)" fill="#161b28" opacity=".9"/>
<rect x="-2.38" y="-0.80" width="1.44" height="1.27" transform="rotate(41 -1.66 -0.17)" fill="#4a5266" opacity=".9"/>
<rect x="-1.39" y="-0.24" width="1.47" height="1.07" transform="rotate(2 -0.65 0.30)" fill="#4a5266" opacity=".9"/>
<rect x="0.83" y="-1.74" width="1.25" height="0.98" transform="rotate(89 1.45 -1.26)" fill="#1c2230" opacity=".9"/>
</g>
<g transform="translate(178.90 516.00) rotate(-79)">
<ellipse rx="3.75" ry="3.19" fill="#9a7428"/>
<ellipse rx="3.35" ry="2.79" fill="#f5f6f9"/>
<ellipse cx="-0.77" cy="-0.17" rx="1.24" ry="0.68" transform="rotate(66)" fill="#d3d8e2" opacity=".8"/>
<ellipse cx="0.22" cy="0.12" rx="1.24" ry="0.68" transform="rotate(148)" fill="#d3d8e2" opacity=".8"/>
<rect x="-2.17" y="-1.54" width="1.45" height="0.92" transform="rotate(25 -1.45 -1.08)" fill="#2b3344" opacity=".9"/>
<rect x="-2.22" y="-0.63" width="1.50" height="1.32" transform="rotate(76 -1.47 0.02)" fill="#161b28" opacity=".9"/>
<rect x="-2.84" y="0.71" width="1.68" height="1.11" transform="rotate(41 -2.00 1.27)" fill="#161b28" opacity=".9"/>
<rect x="-0.27" y="-2.20" width="1.47" height="1.38" transform="rotate(42 0.46 -1.51)" fill="#3d4558" opacity=".9"/>
<rect x="-1.15" y="-0.38" width="1.63" height="1.25" transform="rotate(19 -0.33 0.25)" fill="#1c2230" opacity=".9"/>
<rect x="-0.18" y="1.24" width="1.45" height="1.33" transform="rotate(24 0.54 1.91)" fill="#3d4558" opacity=".9"/>
<rect x="0.58" y="-1.91" width="1.12" height="1.09" transform="rotate(69 1.15 -1.36)" fill="#161b28" opacity=".9"/>
<rect x="0.59" y="-0.32" width="1.14" height="1.34" transform="rotate(48 1.16 0.35)" fill="#2b3344" opacity=".9"/>
<rect x="1.29" y="0.64" width="1.75" height="1.40" transform="rotate(76 2.16 1.34)" fill="#4a5266" opacity=".9"/>
</g>
<g transform="translate(176.30 528.00) rotate(-82)">
<ellipse rx="3.10" ry="2.65" fill="#9a7428"/>
<ellipse rx="2.70" ry="2.25" fill="#f5f6f9"/>
<ellipse cx="-0.35" cy="-0.88" rx="1.00" ry="0.55" transform="rotate(89)" fill="#d3d8e2" opacity=".8"/>
<ellipse cx="0.08" cy="-0.03" rx="1.00" ry="0.55" transform="rotate(40)" fill="#d3d8e2" opacity=".8"/>
<rect x="-1.41" y="-0.49" width=".6" height=".6" fill="#4d5568" opacity=".8"/>
<rect x="-0.58" y="0.79" width=".6" height=".6" fill="#4d5568" opacity=".8"/>
</g>
<g transform="translate(175.10 539.50) rotate(-91)">
<ellipse rx="2.67" ry="2.29" fill="#9a7428"/>
<ellipse rx="2.27" ry="1.89" fill="#f5f6f9"/>
<ellipse cx="-0.07" cy="-0.53" rx="0.84" ry="0.46" transform="rotate(94)" fill="#d3d8e2" opacity=".8"/>
<ellipse cx="0.26" cy="-0.39" rx="0.84" ry="0.46" transform="rotate(56)" fill="#d3d8e2" opacity=".8"/>
<rect x="-0.99" y="0.34" width=".6" height=".6" fill="#4d5568" opacity=".8"/>
<rect x="0.23" y="-1.08" width=".6" height=".6" fill="#4d5568" opacity=".8"/>
</g>
<g transform="translate(174.70 550.00) rotate(-95)">
<ellipse rx="2.34" ry="2.02" fill="#9a7428"/>
<ellipse rx="1.94" ry="1.62" fill="#f5f6f9"/>
<ellipse cx="0.12" cy="-0.09" rx="0.72" ry="0.40" transform="rotate(153)" fill="#d3d8e2" opacity=".8"/>
<ellipse cx="0.37" cy="-0.08" rx="0.72" ry="0.40" transform="rotate(103)" fill="#d3d8e2" opacity=".8"/>
<rect x="-0.05" y="0.47" width=".6" height=".6" fill="#4d5568" opacity=".8"/>
<rect x="-1.09" y="-0.48" width=".6" height=".6" fill="#4d5568" opacity=".8"/>
</g>
<g transform="translate(222.60 463.30) rotate(-47)">
<ellipse rx="5.80" ry="4.90" fill="#9a7428"/>
<ellipse rx="5.40" ry="4.50" fill="#f5f6f9"/>
<ellipse cx="-1.21" cy="-0.02" rx="2.00" ry="1.10" transform="rotate(5)" fill="#d3d8e2" opacity=".8"/>
<ellipse cx="1.01" cy="-0.20" rx="2.00" ry="1.10" transform="rotate(72)" fill="#d3d8e2" opacity=".8"/>
<rect x="-3.39" y="-2.69" width="1.55" height="0.94" transform="rotate(41 -2.62 -2.23)" fill="#4a5266" opacity=".9"/>
<rect x="-2.81" y="-0.76" width="1.26" height="1.17" transform="rotate(39 -2.18 -0.17)" fill="#3d4558" opacity=".9"/>
<rect x="-2.65" y="1.66" width="1.31" height="1.01" transform="rotate(3 -2.00 2.17)" fill="#4a5266" opacity=".9"/>
<rect x="-0.19" y="-1.83" width="1.12" height="0.99" transform="rotate(62 0.37 -1.34)" fill="#1c2230" opacity=".9"/>
<rect x="-0.85" y="-0.43" width="1.17" height="1.30" transform="rotate(77 -0.26 0.22)" fill="#1c2230" opacity=".9"/>
<rect x="-0.44" y="2.12" width="1.67" height="0.91" transform="rotate(74 0.40 2.58)" fill="#161b28" opacity=".9"/>
<rect x="2.08" y="-2.06" width="1.45" height="1.02" transform="rotate(77 2.80 -1.55)" fill="#2b3344" opacity=".9"/>
<rect x="2.59" y="-1.16" width="1.58" height="1.35" transform="rotate(28 3.38 -0.49)" fill="#2b3344" opacity=".9"/>
<rect x="2.62" y="1.00" width="1.75" height="1.39" transform="rotate(80 3.50 1.70)" fill="#2b3344" opacity=".9"/>
</g>
<g transform="translate(211.80 475.30) rotate(-55)">
<ellipse rx="6.12" ry="5.17" fill="#9a7428"/>
<ellipse rx="5.72" ry="4.77" fill="#f5f6f9"/>
<ellipse cx="0.13" cy="0.14" rx="2.12" ry="1.17" transform="rotate(70)" fill="#d3d8e2" opacity=".8"/>
<ellipse cx="-1.83" cy="0.80" rx="2.12" ry="1.17" transform="rotate(98)" fill="#d3d8e2" opacity=".8"/>
<rect x="-4.28" y="-2.57" width="1.62" height="0.95" transform="rotate(61 -3.47 -2.10)" fill="#4a5266" opacity=".9"/>
<rect x="-2.70" y="-1.40" width="1.43" height="1.32" transform="rotate(90 -1.99 -0.74)" fill="#4a5266" opacity=".9"/>
<rect x="-2.87" y="1.65" width="1.12" height="1.32" transform="rotate(46 -2.31 2.31)" fill="#4a5266" opacity=".9"/>
<rect x="-1.30" y="-3.63" width="1.23" height="1.36" transform="rotate(83 -0.68 -2.95)" fill="#3d4558" opacity=".9"/>
<rect x="2.16" y="-2.41" width="1.31" height="1.16" transform="rotate(32 2.82 -1.83)" fill="#4a5266" opacity=".9"/>
<rect x="2.54" y="0.89" width="1.23" height="1.12" transform="rotate(67 3.15 1.46)" fill="#3d4558" opacity=".9"/>
</g>
<g transform="translate(202.00 486.50) rotate(-57)">
<ellipse rx="5.69" ry="4.81" fill="#9a7428"/>
<ellipse rx="5.29" ry="4.41" fill="#f5f6f9"/>
<ellipse cx="-0.32" cy="0.21" rx="1.96" ry="1.08" transform="rotate(30)" fill="#d3d8e2" opacity=".8"/>
<ellipse cx="-0.03" cy="-0.00" rx="1.96" ry="1.08" transform="rotate(161)" fill="#d3d8e2" opacity=".8"/>
<rect x="-3.06" y="-2.08" width="1.51" height="1.12" transform="rotate(17 -2.31 -1.52)" fill="#4a5266" opacity=".9"/>
<rect x="-3.60" y="-0.01" width="1.28" height="0.96" transform="rotate(73 -2.96 0.47)" fill="#2b3344" opacity=".9"/>
<rect x="-2.74" y="2.18" width="1.55" height="1.32" transform="rotate(37 -1.97 2.84)" fill="#2b3344" opacity=".9"/>
<rect x="-1.47" y="-2.90" width="1.40" height="0.91" transform="rotate(89 -0.77 -2.45)" fill="#3d4558" opacity=".9"/>
<rect x="-1.67" y="-0.94" width="1.72" height="1.06" transform="rotate(59 -0.80 -0.40)" fill="#2b3344" opacity=".9"/>
<rect x="-0.82" y="1.34" width="1.75" height="1.25" transform="rotate(69 0.06 1.97)" fill="#1c2230" opacity=".9"/>
<rect x="1.03" y="-2.48" width="1.58" height="1.04" transform="rotate(45 1.82 -1.96)" fill="#161b28" opacity=".9"/>
<rect x="2.31" y="-1.40" width="1.27" height="1.05" transform="rotate(50 2.94 -0.87)" fill="#3d4558" opacity=".9"/>
<rect x="2.64" y="1.66" width="1.75" height="1.25" transform="rotate(49 3.51 2.29)" fill="#1c2230" opacity=".9"/>
</g>
<g transform="translate(193.50 497.90) rotate(-62)">
<ellipse rx="4.94" ry="4.18" fill="#9a7428"/>
<ellipse rx="4.54" ry="3.78" fill="#f5f6f9"/>
<ellipse cx="-0.79" cy="-1.40" rx="1.68" ry="0.92" transform="rotate(70)" fill="#d3d8e2" opacity=".8"/>
<ellipse cx="0.60" cy="-0.25" rx="1.68" ry="0.92" transform="rotate(175)" fill="#d3d8e2" opacity=".8"/>
<rect x="-2.92" y="-2.29" width="1.38" height="1.17" transform="rotate(47 -2.23 -1.71)" fill="#3d4558" opacity=".9"/>
<rect x="-3.26" y="-0.93" width="1.53" height="1.21" transform="rotate(60 -2.50 -0.33)" fill="#3d4558" opacity=".9"/>
<rect x="-3.76" y="1.65" width="1.48" height="1.25" transform="rotate(68 -3.02 2.27)" fill="#161b28" opacity=".9"/>
<rect x="0.04" y="-2.20" width="1.13" height="1.44" transform="rotate(7 0.61 -1.48)" fill="#3d4558" opacity=".9"/>
<rect x="-0.97" y="-0.55" width="1.73" height="1.03" transform="rotate(9 -0.11 -0.03)" fill="#4a5266" opacity=".9"/>
<rect x="-0.24" y="0.80" width="1.72" height="1.03" transform="rotate(5 0.63 1.31)" fill="#1c2230" opacity=".9"/>
<rect x="1.04" y="-1.80" width="1.33" height="0.99" transform="rotate(40 1.71 -1.30)" fill="#3d4558" opacity=".9"/>
<rect x="1.49" y="-0.93" width="1.48" height="1.13" transform="rotate(73 2.23 -0.36)" fill="#4a5266" opacity=".9"/>
</g>
<g transform="translate(187.30 509.60) rotate(-74)">
<ellipse rx="3.96" ry="3.37" fill="#9a7428"/>
<ellipse rx="3.56" ry="2.97" fill="#f5f6f9"/>
<ellipse cx="-0.04" cy="0.16" rx="1.32" ry="0.73" transform="rotate(87)" fill="#d3d8e2" opacity=".8"/>
<ellipse cx="-0.41" cy="-0.01" rx="1.32" ry="0.73" transform="rotate(91)" fill="#d3d8e2" opacity=".8"/>
<rect x="-2.86" y="-1.97" width="1.57" height="1.28" transform="rotate(57 -2.07 -1.33)" fill="#2b3344" opacity=".9"/>
<rect x="-3.04" y="-1.00" width="1.74" height="1.40" transform="rotate(57 -2.17 -0.30)" fill="#1c2230" opacity=".9"/>
<rect x="-1.19" y="-2.54" width="1.24" height="1.05" transform="rotate(82 -0.57 -2.01)" fill="#1c2230" opacity=".9"/>
<rect x="1.12" y="-2.22" width="1.32" height="1.17" transform="rotate(75 1.78 -1.63)" fill="#2b3344" opacity=".9"/>
</g>
<g transform="translate(183.20 521.50) rotate(-80)">
<ellipse rx="2.99" ry="2.56" fill="#9a7428"/>
<ellipse rx="2.59" ry="2.16" fill="#f5f6f9"/>
<ellipse cx="0.22" cy="-0.56" rx="0.96" ry="0.53" transform="rotate(138)" fill="#d3d8e2" opacity=".8"/>
<ellipse cx="0.09" cy="0.40" rx="0.96" ry="0.53" transform="rotate(46)" fill="#d3d8e2" opacity=".8"/>
<rect x="0.09" y="-1.31" width=".6" height=".6" fill="#4d5568" opacity=".8"/>
<rect x="-1.03" y="0.49" width=".6" height=".6" fill="#4d5568" opacity=".8"/>
</g>
<circle cx="214.75" cy="465.27" r="1.25" fill="#e0ba68"/>
<circle cx="204.68" cy="477.07" r="1.25" fill="#e0ba68"/>
<circle cx="195.68" cy="488.65" r="1.25" fill="#e0ba68"/>
<circle cx="188.40" cy="500.50" r="1.25" fill="#e0ba68"/>
<circle cx="183.15" cy="512.65" r="1.25" fill="#e0ba68"/>
<path d="M387.20 562.00L387.22 561.51L387.24 560.90L387.27 560.19L387.30 559.39L387.34 558.52L387.37 557.59L387.41 556.62L387.45 555.63L387.49 554.63L387.53 553.63L387.58 552.66L387.62 551.71L387.66 550.82L387.70 550.00L387.74 549.22L387.79 548.47L387.84 547.72L387.90 547.00L387.96 546.28L388.02 545.57L388.08 544.88L388.13 544.18L388.18 543.49L388.22 542.80L388.25 542.11L388.27 541.41L388.28 540.71L388.28 540.00L388.26 539.29L388.23 538.57L388.20 537.86L388.15 537.14L388.10 536.43L388.04 535.71L387.97 535.00L387.90 534.29L387.82 533.57L387.74 532.86L387.65 532.14L387.55 531.43L387.46 530.71L387.36 530.00L387.25 529.29L387.14 528.57L387.02 527.86L386.90 527.14L386.77 526.43L386.63 525.71L386.49 525.00L386.35 524.29L386.20 523.57L386.05 522.86L385.90 522.14L385.75 521.43L385.59 520.71L385.44 520.00L385.28 519.29L385.13 518.57L384.97 517.86L384.81 517.14L384.65 516.43L384.49 515.71L384.32 515.00L384.15 514.29L383.98 513.57L383.80 512.86L383.61 512.14L383.42 511.43L383.22 510.71L383.02 510.00L382.81 509.29L382.60 508.57L382.39 507.86L382.17 507.14L381.95 506.43L381.73 505.71L381.50 505.00L381.26 504.29L381.01 503.57L380.75 502.86L380.48 502.14L380.20 501.43L379.91 500.71L379.60 500.00L379.31 499.29L379.00 498.57L378.67 497.86L378.33 497.14L377.98 496.43L377.62 495.71L377.26 495.00L376.88 494.29L376.50 493.57L376.12 492.86L375.74 492.14L375.36 491.43L374.98 490.71L374.60 490.00L374.22 489.28L373.84 488.56L373.46 487.84L373.08 487.11L372.69 486.39L372.30 485.66L371.91 484.94L371.52 484.22L371.12 483.50L370.72 482.78L370.32 482.08L369.92 481.38L369.51 480.68L369.10 480.00L368.68 479.32L368.26 478.64L367.82 477.95L367.38 477.27L366.93 476.59L366.48 475.92L366.04 475.25L365.59 474.59L365.15 473.95L364.72 473.32L364.30 472.71L363.88 472.12L363.48 471.55L363.10 471.00L362.74 470.49L362.40 470.02L362.07 469.58L361.76 469.17L361.46 468.78L361.17 468.40L360.88 468.03L360.59 467.66L360.29 467.28L359.99 466.88L359.67 466.46L359.33 466.01L358.98 465.53L358.60 465.00L358.19 464.42L357.77 463.80L357.32 463.14L356.86 462.45L356.39 461.74L355.90 461.02L355.41 460.28L354.92 459.55L354.43 458.81L353.94 458.10L353.46 457.40L352.99 456.73L352.54 456.09L352.10 455.50L351.68 454.95L351.29 454.44L350.92 453.95L350.56 453.50L350.21 453.06L349.86 452.64L349.51 452.22L349.15 451.80L348.78 451.38L348.40 450.95L347.99 450.50L347.56 450.03L347.10 449.53L346.60 449.00L346.06 448.43L345.49 447.83L344.88 447.21L344.25 446.56L343.60 445.90L342.94 445.23L342.26 444.56L341.57 443.88L340.88 443.20L340.20 442.53L339.53 441.87L338.86 441.22L338.22 440.60L337.60 440.00L336.98 439.40L336.33 438.79L335.68 438.17L335.01 437.55L334.34 436.94L333.68 436.33L333.04 435.74L332.42 435.17L331.83 434.63L331.27 434.13L330.77 433.67L330.31 433.25L329.92 432.90L329.60 432.60L328.80 432.80L328.73 433.01L328.64 433.25L328.54 433.54L328.43 433.85L328.31 434.20L328.18 434.57L328.04 434.96L327.89 435.37L327.75 435.80L327.60 436.23L327.44 436.67L327.29 437.12L327.15 437.56L327.00 438.00L326.85 438.44L326.70 438.90L326.55 439.36L326.39 439.84L326.23 440.33L326.06 440.82L325.90 441.32L325.74 441.84L325.57 442.35L325.41 442.87L325.25 443.40L325.10 443.93L324.95 444.46L324.80 445.00L324.66 445.54L324.51 446.09L324.37 446.65L324.22 447.21L324.08 447.78L323.94 448.36L323.81 448.94L323.67 449.52L323.55 450.10L323.42 450.69L323.31 451.27L323.20 451.85L323.09 452.43L323.00 453.00L322.91 453.59L322.84 454.21L322.76 454.86L322.70 455.52L322.64 456.19L322.59 456.85L322.54 457.50L322.49 458.13L322.45 458.73L322.42 459.30L322.38 459.81L322.35 460.28L322.33 460.67L322.30 461.00L322.30 461.00L322.56 461.30L322.87 461.67L323.24 462.10L323.64 462.58L324.08 463.10L324.55 463.66L325.05 464.25L325.57 464.86L326.10 465.48L326.64 466.10L327.19 466.72L327.74 467.34L328.27 467.93L328.80 468.50L329.33 469.06L329.86 469.62L330.42 470.19L330.98 470.76L331.55 471.34L332.12 471.92L332.71 472.50L333.29 473.08L333.88 473.66L334.47 474.24L335.06 474.81L335.64 475.38L336.23 475.94L336.80 476.50L337.37 477.05L337.94 477.60L338.51 478.15L339.09 478.69L339.66 479.24L340.23 479.78L340.80 480.31L341.37 480.85L341.94 481.38L342.51 481.91L343.09 482.43L343.66 482.96L344.23 483.48L344.80 484.00L345.37 484.51L345.94 485.02L346.51 485.52L347.09 486.01L347.66 486.50L348.23 486.98L348.80 487.47L349.37 487.96L349.94 488.45L350.51 488.94L351.09 489.44L351.66 489.95L352.23 490.47L352.80 491.00L353.37 491.53L353.96 492.06L354.54 492.59L355.13 493.13L355.72 493.66L356.31 494.20L356.89 494.75L357.48 495.31L358.05 495.88L358.62 496.47L359.18 497.07L359.74 497.69L360.27 498.33L360.80 499.00L361.32 499.69L361.82 500.41L362.33 501.14L362.82 501.90L363.31 502.67L363.80 503.45L364.27 504.25L364.73 505.06L365.19 505.87L365.63 506.70L366.07 507.52L366.49 508.35L366.90 509.18L367.30 510.00L367.69 510.82L368.06 511.65L368.42 512.49L368.78 513.33L369.12 514.17L369.45 515.02L369.77 515.88L370.08 516.73L370.39 517.60L370.68 518.47L370.97 519.34L371.25 520.22L371.53 521.11L371.80 522.00L372.06 522.90L372.32 523.80L372.57 524.72L372.81 525.64L373.04 526.57L373.27 527.50L373.49 528.44L373.70 529.38L373.90 530.32L374.10 531.26L374.28 532.20L374.46 533.13L374.64 534.07L374.80 535.00L374.96 535.93L375.10 536.85L375.24 537.77L375.37 538.69L375.49 539.60L375.60 540.52L375.71 541.44L375.81 542.36L375.90 543.28L375.99 544.21L376.07 545.15L376.15 546.09L376.23 547.04L376.30 548.00L376.37 549.00L376.43 550.07L376.48 551.19L376.53 552.34L376.57 553.50L376.61 554.66L376.64 555.81L376.67 556.93L376.70 557.99L376.72 558.99L376.74 559.91L376.76 560.73L376.78 561.43L376.80 562.00Z" fill="#745218"/>
<circle cx="375.93" cy="512.95" r="1.3" fill="#dab360"/>
<circle cx="375.58" cy="512.55" r="0.59" fill="#f3dfa4"/>
<circle cx="375.08" cy="509.99" r="1.3" fill="#dab360"/>
<circle cx="374.73" cy="509.59" r="0.59" fill="#f3dfa4"/>
<circle cx="374.20" cy="507.16" r="1.3" fill="#dab360"/>
<circle cx="373.85" cy="506.76" r="0.59" fill="#f3dfa4"/>
<circle cx="373.25" cy="504.50" r="1.3" fill="#dab360"/>
<circle cx="372.90" cy="504.10" r="0.59" fill="#f3dfa4"/>
<circle cx="372.19" cy="502.04" r="1.3" fill="#dab360"/>
<circle cx="371.84" cy="501.64" r="0.59" fill="#f3dfa4"/>
<circle cx="370.92" cy="499.53" r="1.3" fill="#dab360"/>
<circle cx="370.57" cy="499.13" r="0.59" fill="#f3dfa4"/>
<circle cx="369.53" cy="496.86" r="1.3" fill="#dab360"/>
<circle cx="369.18" cy="496.46" r="0.59" fill="#f3dfa4"/>
<circle cx="368.01" cy="494.01" r="1.3" fill="#dab360"/>
<circle cx="367.66" cy="493.61" r="0.59" fill="#f3dfa4"/>
<circle cx="366.52" cy="491.18" r="1.3" fill="#dab360"/>
<circle cx="366.17" cy="490.78" r="0.59" fill="#f3dfa4"/>
<circle cx="365.06" cy="488.45" r="1.3" fill="#dab360"/>
<circle cx="364.71" cy="488.05" r="0.59" fill="#f3dfa4"/>
<circle cx="363.59" cy="485.81" r="1.3" fill="#dab360"/>
<circle cx="363.24" cy="485.41" r="0.59" fill="#f3dfa4"/>
<circle cx="362.09" cy="483.30" r="1.3" fill="#dab360"/>
<circle cx="361.74" cy="482.90" r="0.59" fill="#f3dfa4"/>
<circle cx="360.48" cy="480.79" r="1.3" fill="#dab360"/>
<circle cx="360.13" cy="480.39" r="0.59" fill="#f3dfa4"/>
<circle cx="358.76" cy="478.24" r="1.3" fill="#dab360"/>
<circle cx="358.41" cy="477.84" r="0.59" fill="#f3dfa4"/>
<circle cx="356.96" cy="475.66" r="1.3" fill="#dab360"/>
<circle cx="356.61" cy="475.26" r="0.59" fill="#f3dfa4"/>
<circle cx="355.29" cy="473.39" r="1.3" fill="#dab360"/>
<circle cx="354.94" cy="472.99" r="0.59" fill="#f3dfa4"/>
<circle cx="353.25" cy="470.74" r="1.3" fill="#dab360"/>
<circle cx="352.90" cy="470.34" r="0.59" fill="#f3dfa4"/>
<circle cx="351.20" cy="467.84" r="1.3" fill="#dab360"/>
<circle cx="350.85" cy="467.44" r="0.59" fill="#f3dfa4"/>
<circle cx="349.39" cy="465.13" r="1.3" fill="#dab360"/>
<circle cx="349.04" cy="464.73" r="0.59" fill="#f3dfa4"/>
<circle cx="347.64" cy="462.53" r="1.3" fill="#dab360"/>
<circle cx="347.29" cy="462.13" r="0.59" fill="#f3dfa4"/>
<circle cx="345.97" cy="460.16" r="1.3" fill="#dab360"/>
<circle cx="345.62" cy="459.76" r="0.59" fill="#f3dfa4"/>
<circle cx="344.26" cy="457.95" r="1.3" fill="#dab360"/>
<circle cx="343.91" cy="457.55" r="0.59" fill="#f3dfa4"/>
<circle cx="342.40" cy="455.81" r="1.3" fill="#dab360"/>
<circle cx="342.05" cy="455.41" r="0.59" fill="#f3dfa4"/>
<circle cx="340.37" cy="453.62" r="1.3" fill="#dab360"/>
<circle cx="340.02" cy="453.22" r="0.59" fill="#f3dfa4"/>
<circle cx="338.22" cy="451.41" r="1.3" fill="#dab360"/>
<circle cx="337.87" cy="451.01" r="0.59" fill="#f3dfa4"/>
<circle cx="336.03" cy="449.22" r="1.3" fill="#dab360"/>
<circle cx="335.68" cy="448.82" r="0.59" fill="#f3dfa4"/>
<circle cx="333.78" cy="447.02" r="1.3" fill="#dab360"/>
<circle cx="333.43" cy="446.62" r="0.59" fill="#f3dfa4"/>
<circle cx="331.55" cy="444.87" r="1.3" fill="#dab360"/>
<circle cx="331.20" cy="444.47" r="0.59" fill="#f3dfa4"/>
<circle cx="329.28" cy="442.74" r="1.3" fill="#dab360"/>
<circle cx="328.93" cy="442.34" r="0.59" fill="#f3dfa4"/>
<circle cx="326.97" cy="440.62" r="1.3" fill="#dab360"/>
<circle cx="326.62" cy="440.22" r="0.59" fill="#f3dfa4"/>
<circle cx="324.58" cy="438.44" r="1.3" fill="#dab360"/>
<circle cx="324.23" cy="438.04" r="0.59" fill="#f3dfa4"/>
<circle cx="370.31" cy="499.35" r="1.3" fill="#dab360"/>
<circle cx="369.96" cy="498.95" r="0.59" fill="#f3dfa4"/>
<circle cx="368.37" cy="496.34" r="1.3" fill="#dab360"/>
<circle cx="368.02" cy="495.94" r="0.59" fill="#f3dfa4"/>
<circle cx="366.00" cy="493.18" r="1.3" fill="#dab360"/>
<circle cx="365.65" cy="492.78" r="0.59" fill="#f3dfa4"/>
<circle cx="363.36" cy="490.29" r="1.3" fill="#dab360"/>
<circle cx="363.01" cy="489.89" r="0.59" fill="#f3dfa4"/>
<circle cx="360.79" cy="487.87" r="1.3" fill="#dab360"/>
<circle cx="360.44" cy="487.47" r="0.59" fill="#f3dfa4"/>
<circle cx="358.48" cy="485.77" r="1.3" fill="#dab360"/>
<circle cx="358.13" cy="485.37" r="0.59" fill="#f3dfa4"/>
<circle cx="355.96" cy="483.47" r="1.3" fill="#dab360"/>
<circle cx="355.61" cy="483.07" r="0.59" fill="#f3dfa4"/>
<circle cx="353.44" cy="481.31" r="1.3" fill="#dab360"/>
<circle cx="353.09" cy="480.91" r="0.59" fill="#f3dfa4"/>
<circle cx="351.08" cy="479.28" r="1.3" fill="#dab360"/>
<circle cx="350.73" cy="478.88" r="0.59" fill="#f3dfa4"/>
<circle cx="348.85" cy="477.28" r="1.3" fill="#dab360"/>
<circle cx="348.50" cy="476.88" r="0.59" fill="#f3dfa4"/>
<circle cx="346.56" cy="475.15" r="1.3" fill="#dab360"/>
<circle cx="346.21" cy="474.75" r="0.59" fill="#f3dfa4"/>
<circle cx="344.28" cy="473.01" r="1.3" fill="#dab360"/>
<circle cx="343.93" cy="472.61" r="0.59" fill="#f3dfa4"/>
<circle cx="342.02" cy="470.84" r="1.3" fill="#dab360"/>
<circle cx="341.67" cy="470.44" r="0.59" fill="#f3dfa4"/>
<circle cx="339.75" cy="468.63" r="1.3" fill="#dab360"/>
<circle cx="339.40" cy="468.23" r="0.59" fill="#f3dfa4"/>
<circle cx="337.54" cy="466.45" r="1.3" fill="#dab360"/>
<circle cx="337.19" cy="466.05" r="0.59" fill="#f3dfa4"/>
<circle cx="335.41" cy="464.28" r="1.3" fill="#dab360"/>
<circle cx="335.06" cy="463.88" r="0.59" fill="#f3dfa4"/>
<circle cx="333.42" cy="462.14" r="1.3" fill="#dab360"/>
<circle cx="333.07" cy="461.74" r="0.59" fill="#f3dfa4"/>
<circle cx="331.42" cy="459.85" r="1.3" fill="#dab360"/>
<circle cx="331.07" cy="459.45" r="0.59" fill="#f3dfa4"/>
<circle cx="329.38" cy="457.45" r="1.3" fill="#dab360"/>
<circle cx="329.03" cy="457.05" r="0.59" fill="#f3dfa4"/>
<circle cx="382.66" cy="560.03" r="1.45" fill="#dab360"/>
<circle cx="382.31" cy="559.63" r="0.65" fill="#f3dfa4"/>
<circle cx="382.79" cy="556.84" r="1.45" fill="#dab360"/>
<circle cx="382.44" cy="556.44" r="0.65" fill="#f3dfa4"/>
<circle cx="382.92" cy="553.64" r="1.45" fill="#dab360"/>
<circle cx="382.57" cy="553.24" r="0.65" fill="#f3dfa4"/>
<circle cx="383.06" cy="550.44" r="1.45" fill="#dab360"/>
<circle cx="382.71" cy="550.04" r="0.65" fill="#f3dfa4"/>
<circle cx="383.26" cy="547.10" r="1.45" fill="#dab360"/>
<circle cx="382.91" cy="546.70" r="0.65" fill="#f3dfa4"/>
<circle cx="383.52" cy="543.94" r="1.45" fill="#dab360"/>
<circle cx="383.17" cy="543.54" r="0.65" fill="#f3dfa4"/>
<circle cx="383.67" cy="541.04" r="1.45" fill="#dab360"/>
<circle cx="383.32" cy="540.64" r="0.65" fill="#f3dfa4"/>
<circle cx="383.61" cy="538.13" r="1.45" fill="#dab360"/>
<circle cx="383.26" cy="537.73" r="0.65" fill="#f3dfa4"/>
<circle cx="383.38" cy="535.18" r="1.45" fill="#dab360"/>
<circle cx="383.03" cy="534.78" r="0.65" fill="#f3dfa4"/>
<circle cx="383.03" cy="532.11" r="1.45" fill="#dab360"/>
<circle cx="382.68" cy="531.71" r="0.65" fill="#f3dfa4"/>
<circle cx="382.59" cy="529.09" r="1.45" fill="#dab360"/>
<circle cx="382.24" cy="528.69" r="0.65" fill="#f3dfa4"/>
<circle cx="382.04" cy="526.05" r="1.45" fill="#dab360"/>
<circle cx="381.69" cy="525.65" r="0.65" fill="#f3dfa4"/>
<circle cx="381.41" cy="522.97" r="1.45" fill="#dab360"/>
<circle cx="381.06" cy="522.57" r="0.65" fill="#f3dfa4"/>
<circle cx="380.73" cy="519.84" r="1.45" fill="#dab360"/>
<circle cx="380.38" cy="519.44" r="0.65" fill="#f3dfa4"/>
<circle cx="380.04" cy="516.74" r="1.45" fill="#dab360"/>
<circle cx="379.69" cy="516.34" r="0.65" fill="#f3dfa4"/>
<circle cx="379.32" cy="513.73" r="1.45" fill="#dab360"/>
<circle cx="378.97" cy="513.33" r="0.65" fill="#f3dfa4"/>
<circle cx="378.50" cy="510.76" r="1.45" fill="#dab360"/>
<circle cx="378.15" cy="510.36" r="0.65" fill="#f3dfa4"/>
<circle cx="377.59" cy="507.72" r="1.45" fill="#dab360"/>
<circle cx="377.24" cy="507.32" r="0.65" fill="#f3dfa4"/>
<circle cx="376.65" cy="504.86" r="1.45" fill="#dab360"/>
<circle cx="376.30" cy="504.46" r="0.65" fill="#f3dfa4"/>
<circle cx="375.58" cy="502.11" r="1.45" fill="#dab360"/>
<circle cx="375.23" cy="501.71" r="0.65" fill="#f3dfa4"/>
<circle cx="374.35" cy="499.48" r="1.45" fill="#dab360"/>
<circle cx="374.00" cy="499.08" r="0.65" fill="#f3dfa4"/>
<circle cx="373.00" cy="496.78" r="1.45" fill="#dab360"/>
<circle cx="372.65" cy="496.38" r="0.65" fill="#f3dfa4"/>
<circle cx="371.51" cy="493.99" r="1.45" fill="#dab360"/>
<circle cx="371.16" cy="493.59" r="0.65" fill="#f3dfa4"/>
<circle cx="370.00" cy="491.13" r="1.45" fill="#dab360"/>
<circle cx="369.65" cy="490.73" r="0.65" fill="#f3dfa4"/>
<circle cx="368.52" cy="488.34" r="1.45" fill="#dab360"/>
<circle cx="368.17" cy="487.94" r="0.65" fill="#f3dfa4"/>
<circle cx="367.03" cy="485.60" r="1.45" fill="#dab360"/>
<circle cx="366.68" cy="485.20" r="0.65" fill="#f3dfa4"/>
<circle cx="365.50" cy="482.95" r="1.45" fill="#dab360"/>
<circle cx="365.15" cy="482.55" r="0.65" fill="#f3dfa4"/>
<circle cx="363.90" cy="480.36" r="1.45" fill="#dab360"/>
<circle cx="363.55" cy="479.96" r="0.65" fill="#f3dfa4"/>
<circle cx="362.19" cy="477.78" r="1.45" fill="#dab360"/>
<circle cx="361.84" cy="477.38" r="0.65" fill="#f3dfa4"/>
<circle cx="360.41" cy="475.18" r="1.45" fill="#dab360"/>
<circle cx="360.06" cy="474.78" r="0.65" fill="#f3dfa4"/>
<circle cx="358.64" cy="472.68" r="1.45" fill="#dab360"/>
<circle cx="358.29" cy="472.28" r="0.65" fill="#f3dfa4"/>
<circle cx="356.76" cy="470.23" r="1.45" fill="#dab360"/>
<circle cx="356.41" cy="469.83" r="0.65" fill="#f3dfa4"/>
<circle cx="354.72" cy="467.47" r="1.45" fill="#dab360"/>
<circle cx="354.37" cy="467.07" r="0.65" fill="#f3dfa4"/>
<circle cx="352.86" cy="464.74" r="1.45" fill="#dab360"/>
<circle cx="352.51" cy="464.34" r="0.65" fill="#f3dfa4"/>
<circle cx="351.09" cy="462.09" r="1.45" fill="#dab360"/>
<circle cx="350.74" cy="461.69" r="0.65" fill="#f3dfa4"/>
<circle cx="349.33" cy="459.52" r="1.45" fill="#dab360"/>
<circle cx="348.98" cy="459.12" r="0.65" fill="#f3dfa4"/>
<circle cx="347.56" cy="457.13" r="1.45" fill="#dab360"/>
<circle cx="347.21" cy="456.73" r="0.65" fill="#f3dfa4"/>
<circle cx="345.69" cy="454.83" r="1.45" fill="#dab360"/>
<circle cx="345.34" cy="454.43" r="0.65" fill="#f3dfa4"/>
<circle cx="343.67" cy="452.60" r="1.45" fill="#dab360"/>
<circle cx="343.32" cy="452.20" r="0.65" fill="#f3dfa4"/>
<circle cx="341.54" cy="450.36" r="1.45" fill="#dab360"/>
<circle cx="341.19" cy="449.96" r="0.65" fill="#f3dfa4"/>
<circle cx="339.32" cy="448.13" r="1.45" fill="#dab360"/>
<circle cx="338.97" cy="447.73" r="0.65" fill="#f3dfa4"/>
<circle cx="337.07" cy="445.90" r="1.45" fill="#dab360"/>
<circle cx="336.72" cy="445.50" r="0.65" fill="#f3dfa4"/>
<circle cx="334.81" cy="443.70" r="1.45" fill="#dab360"/>
<circle cx="334.46" cy="443.30" r="0.65" fill="#f3dfa4"/>
<circle cx="332.54" cy="441.54" r="1.45" fill="#dab360"/>
<circle cx="332.19" cy="441.14" r="0.65" fill="#f3dfa4"/>
<circle cx="330.23" cy="439.40" r="1.45" fill="#dab360"/>
<circle cx="329.88" cy="439.00" r="0.65" fill="#f3dfa4"/>
<circle cx="327.87" cy="437.25" r="1.45" fill="#dab360"/>
<circle cx="327.52" cy="436.85" r="0.65" fill="#f3dfa4"/>
<circle cx="385.70" cy="561.88" r="1.45" fill="#dab360"/>
<circle cx="385.35" cy="561.48" r="0.65" fill="#f3dfa4"/>
<circle cx="385.83" cy="558.69" r="1.45" fill="#dab360"/>
<circle cx="385.48" cy="558.29" r="0.65" fill="#f3dfa4"/>
<circle cx="385.95" cy="555.50" r="1.45" fill="#dab360"/>
<circle cx="385.60" cy="555.10" r="0.65" fill="#f3dfa4"/>
<circle cx="386.09" cy="552.30" r="1.45" fill="#dab360"/>
<circle cx="385.74" cy="551.90" r="0.65" fill="#f3dfa4"/>
<circle cx="386.24" cy="549.10" r="1.45" fill="#dab360"/>
<circle cx="385.89" cy="548.70" r="0.65" fill="#f3dfa4"/>
<circle cx="386.48" cy="545.88" r="1.45" fill="#dab360"/>
<circle cx="386.13" cy="545.48" r="0.65" fill="#f3dfa4"/>
<circle cx="386.71" cy="542.74" r="1.45" fill="#dab360"/>
<circle cx="386.36" cy="542.34" r="0.65" fill="#f3dfa4"/>
<circle cx="386.77" cy="539.67" r="1.45" fill="#dab360"/>
<circle cx="386.42" cy="539.27" r="0.65" fill="#f3dfa4"/>
<circle cx="386.61" cy="536.54" r="1.45" fill="#dab360"/>
<circle cx="386.26" cy="536.14" r="0.65" fill="#f3dfa4"/>
<circle cx="386.30" cy="533.41" r="1.45" fill="#dab360"/>
<circle cx="385.95" cy="533.01" r="0.65" fill="#f3dfa4"/>
<circle cx="385.89" cy="530.26" r="1.45" fill="#dab360"/>
<circle cx="385.54" cy="529.86" r="0.65" fill="#f3dfa4"/>
<circle cx="385.38" cy="527.15" r="1.45" fill="#dab360"/>
<circle cx="385.03" cy="526.75" r="0.65" fill="#f3dfa4"/>
<circle cx="384.77" cy="524.02" r="1.45" fill="#dab360"/>
<circle cx="384.42" cy="523.62" r="0.65" fill="#f3dfa4"/>
<circle cx="384.11" cy="520.88" r="1.45" fill="#dab360"/>
<circle cx="383.76" cy="520.48" r="0.65" fill="#f3dfa4"/>
<circle cx="383.42" cy="517.73" r="1.45" fill="#dab360"/>
<circle cx="383.07" cy="517.33" r="0.65" fill="#f3dfa4"/>
<circle cx="382.70" cy="514.61" r="1.45" fill="#dab360"/>
<circle cx="382.35" cy="514.21" r="0.65" fill="#f3dfa4"/>
<circle cx="381.91" cy="511.54" r="1.45" fill="#dab360"/>
<circle cx="381.56" cy="511.14" r="0.65" fill="#f3dfa4"/>
<circle cx="381.02" cy="508.46" r="1.45" fill="#dab360"/>
<circle cx="380.67" cy="508.06" r="0.65" fill="#f3dfa4"/>
<circle cx="380.07" cy="505.42" r="1.45" fill="#dab360"/>
<circle cx="379.72" cy="505.02" r="0.65" fill="#f3dfa4"/>
<circle cx="379.01" cy="502.44" r="1.45" fill="#dab360"/>
<circle cx="378.66" cy="502.04" r="0.65" fill="#f3dfa4"/>
<circle cx="377.79" cy="499.56" r="1.45" fill="#dab360"/>
<circle cx="377.44" cy="499.16" r="0.65" fill="#f3dfa4"/>
<circle cx="376.46" cy="496.74" r="1.45" fill="#dab360"/>
<circle cx="376.11" cy="496.34" r="0.65" fill="#f3dfa4"/>
<circle cx="375.00" cy="493.94" r="1.45" fill="#dab360"/>
<circle cx="374.65" cy="493.54" r="0.65" fill="#f3dfa4"/>
<circle cx="373.49" cy="491.11" r="1.45" fill="#dab360"/>
<circle cx="373.14" cy="490.71" r="0.65" fill="#f3dfa4"/>
<circle cx="372.00" cy="488.28" r="1.45" fill="#dab360"/>
<circle cx="371.65" cy="487.88" r="0.65" fill="#f3dfa4"/>
<circle cx="370.50" cy="485.48" r="1.45" fill="#dab360"/>
<circle cx="370.15" cy="485.08" r="0.65" fill="#f3dfa4"/>
<circle cx="368.96" cy="482.71" r="1.45" fill="#dab360"/>
<circle cx="368.61" cy="482.31" r="0.65" fill="#f3dfa4"/>
<circle cx="367.35" cy="480.01" r="1.45" fill="#dab360"/>
<circle cx="367.00" cy="479.61" r="0.65" fill="#f3dfa4"/>
<circle cx="365.64" cy="477.35" r="1.45" fill="#dab360"/>
<circle cx="365.29" cy="476.95" r="0.65" fill="#f3dfa4"/>
<circle cx="363.86" cy="474.72" r="1.45" fill="#dab360"/>
<circle cx="363.51" cy="474.32" r="0.65" fill="#f3dfa4"/>
<circle cx="362.04" cy="472.10" r="1.45" fill="#dab360"/>
<circle cx="361.69" cy="471.70" r="0.65" fill="#f3dfa4"/>
<circle cx="360.19" cy="469.59" r="1.45" fill="#dab360"/>
<circle cx="359.84" cy="469.19" r="0.65" fill="#f3dfa4"/>
<circle cx="358.22" cy="467.03" r="1.45" fill="#dab360"/>
<circle cx="357.87" cy="466.63" r="0.65" fill="#f3dfa4"/>
<circle cx="356.33" cy="464.36" r="1.45" fill="#dab360"/>
<circle cx="355.98" cy="463.96" r="0.65" fill="#f3dfa4"/>
<circle cx="354.55" cy="461.69" r="1.45" fill="#dab360"/>
<circle cx="354.20" cy="461.29" r="0.65" fill="#f3dfa4"/>
<circle cx="352.77" cy="459.04" r="1.45" fill="#dab360"/>
<circle cx="352.42" cy="458.64" r="0.65" fill="#f3dfa4"/>
<circle cx="350.96" cy="456.48" r="1.45" fill="#dab360"/>
<circle cx="350.61" cy="456.08" r="0.65" fill="#f3dfa4"/>
<circle cx="349.05" cy="454.01" r="1.45" fill="#dab360"/>
<circle cx="348.70" cy="453.61" r="0.65" fill="#f3dfa4"/>
<circle cx="347.00" cy="451.64" r="1.45" fill="#dab360"/>
<circle cx="346.65" cy="451.24" r="0.65" fill="#f3dfa4"/>
<circle cx="344.85" cy="449.33" r="1.45" fill="#dab360"/>
<circle cx="344.50" cy="448.93" r="0.65" fill="#f3dfa4"/>
<circle cx="342.63" cy="447.06" r="1.45" fill="#dab360"/>
<circle cx="342.28" cy="446.66" r="0.65" fill="#f3dfa4"/>
<circle cx="340.38" cy="444.81" r="1.45" fill="#dab360"/>
<circle cx="340.03" cy="444.41" r="0.65" fill="#f3dfa4"/>
<circle cx="338.10" cy="442.58" r="1.45" fill="#dab360"/>
<circle cx="337.75" cy="442.18" r="0.65" fill="#f3dfa4"/>
<circle cx="335.82" cy="440.37" r="1.45" fill="#dab360"/>
<circle cx="335.47" cy="439.97" r="0.65" fill="#f3dfa4"/>
<circle cx="333.49" cy="438.19" r="1.45" fill="#dab360"/>
<circle cx="333.14" cy="437.79" r="0.65" fill="#f3dfa4"/>
<circle cx="331.14" cy="436.04" r="1.45" fill="#dab360"/>
<circle cx="330.79" cy="435.64" r="0.65" fill="#f3dfa4"/>
<circle cx="328.77" cy="433.88" r="1.45" fill="#dab360"/>
<circle cx="328.42" cy="433.48" r="0.65" fill="#f3dfa4"/>
<circle cx="381.35" cy="560.29" r="1.45" fill="#dab360"/>
<circle cx="381.00" cy="559.89" r="0.65" fill="#f3dfa4"/>
<circle cx="381.28" cy="557.09" r="1.45" fill="#dab360"/>
<circle cx="380.93" cy="556.69" r="0.65" fill="#f3dfa4"/>
<circle cx="381.19" cy="553.85" r="1.45" fill="#dab360"/>
<circle cx="380.84" cy="553.45" r="0.65" fill="#f3dfa4"/>
<circle cx="381.06" cy="550.58" r="1.45" fill="#dab360"/>
<circle cx="380.71" cy="550.18" r="0.65" fill="#f3dfa4"/>
<circle cx="380.86" cy="547.26" r="1.45" fill="#dab360"/>
<circle cx="380.51" cy="546.86" r="0.65" fill="#f3dfa4"/>
<circle cx="380.59" cy="544.01" r="1.45" fill="#dab360"/>
<circle cx="380.24" cy="543.61" r="0.65" fill="#f3dfa4"/>
<circle cx="380.25" cy="540.71" r="1.45" fill="#dab360"/>
<circle cx="379.90" cy="540.31" r="0.65" fill="#f3dfa4"/>
<circle cx="379.84" cy="537.43" r="1.45" fill="#dab360"/>
<circle cx="379.49" cy="537.03" r="0.65" fill="#f3dfa4"/>
<circle cx="379.31" cy="534.10" r="1.45" fill="#dab360"/>
<circle cx="378.96" cy="533.70" r="0.65" fill="#f3dfa4"/>
<circle cx="378.71" cy="530.86" r="1.45" fill="#dab360"/>
<circle cx="378.36" cy="530.46" r="0.65" fill="#f3dfa4"/>
<circle cx="378.02" cy="527.62" r="1.45" fill="#dab360"/>
<circle cx="377.67" cy="527.22" r="0.65" fill="#f3dfa4"/>
<circle cx="377.23" cy="524.35" r="1.45" fill="#dab360"/>
<circle cx="376.88" cy="523.95" r="0.65" fill="#f3dfa4"/>
<circle cx="376.34" cy="521.14" r="1.45" fill="#dab360"/>
<circle cx="375.99" cy="520.74" r="0.65" fill="#f3dfa4"/>
<circle cx="375.36" cy="517.97" r="1.45" fill="#dab360"/>
<circle cx="375.01" cy="517.57" r="0.65" fill="#f3dfa4"/>
<circle cx="374.26" cy="514.78" r="1.45" fill="#dab360"/>
<circle cx="373.91" cy="514.38" r="0.65" fill="#f3dfa4"/>
<circle cx="373.06" cy="511.64" r="1.45" fill="#dab360"/>
<circle cx="372.71" cy="511.24" r="0.65" fill="#f3dfa4"/>
<circle cx="371.67" cy="508.48" r="1.45" fill="#dab360"/>
<circle cx="371.32" cy="508.08" r="0.65" fill="#f3dfa4"/>
<circle cx="370.18" cy="505.47" r="1.45" fill="#dab360"/>
<circle cx="369.83" cy="505.07" r="0.65" fill="#f3dfa4"/>
<circle cx="368.55" cy="502.46" r="1.45" fill="#dab360"/>
<circle cx="368.20" cy="502.06" r="0.65" fill="#f3dfa4"/>
<circle cx="366.79" cy="499.55" r="1.45" fill="#dab360"/>
<circle cx="366.44" cy="499.15" r="0.65" fill="#f3dfa4"/>
<circle cx="364.77" cy="496.63" r="1.45" fill="#dab360"/>
<circle cx="364.42" cy="496.23" r="0.65" fill="#f3dfa4"/>
<circle cx="362.41" cy="493.79" r="1.45" fill="#dab360"/>
<circle cx="362.06" cy="493.39" r="0.65" fill="#f3dfa4"/>
<circle cx="359.93" cy="491.29" r="1.45" fill="#dab360"/>
<circle cx="359.58" cy="490.89" r="0.65" fill="#f3dfa4"/>
<circle cx="357.52" cy="489.08" r="1.45" fill="#dab360"/>
<circle cx="357.17" cy="488.68" r="0.65" fill="#f3dfa4"/>
<circle cx="355.16" cy="486.92" r="1.45" fill="#dab360"/>
<circle cx="354.81" cy="486.52" r="0.65" fill="#f3dfa4"/>
<circle cx="352.67" cy="484.72" r="1.45" fill="#dab360"/>
<circle cx="352.32" cy="484.32" r="0.65" fill="#f3dfa4"/>
<circle cx="350.23" cy="482.64" r="1.45" fill="#dab360"/>
<circle cx="349.88" cy="482.24" r="0.65" fill="#f3dfa4"/>
<circle cx="347.90" cy="480.60" r="1.45" fill="#dab360"/>
<circle cx="347.55" cy="480.20" r="0.65" fill="#f3dfa4"/>
<circle cx="345.60" cy="478.49" r="1.45" fill="#dab360"/>
<circle cx="345.25" cy="478.09" r="0.65" fill="#f3dfa4"/>
<circle cx="343.29" cy="476.34" r="1.45" fill="#dab360"/>
<circle cx="342.94" cy="475.94" r="0.65" fill="#f3dfa4"/>
<circle cx="341.00" cy="474.16" r="1.45" fill="#dab360"/>
<circle cx="340.65" cy="473.76" r="0.65" fill="#f3dfa4"/>
<circle cx="338.72" cy="471.95" r="1.45" fill="#dab360"/>
<circle cx="338.37" cy="471.55" r="0.65" fill="#f3dfa4"/>
<circle cx="336.46" cy="469.74" r="1.45" fill="#dab360"/>
<circle cx="336.11" cy="469.34" r="0.65" fill="#f3dfa4"/>
<circle cx="334.25" cy="467.53" r="1.45" fill="#dab360"/>
<circle cx="333.90" cy="467.13" r="0.65" fill="#f3dfa4"/>
<circle cx="332.12" cy="465.32" r="1.45" fill="#dab360"/>
<circle cx="331.77" cy="464.92" r="0.65" fill="#f3dfa4"/>
<circle cx="330.08" cy="463.05" r="1.45" fill="#dab360"/>
<circle cx="329.73" cy="462.65" r="0.65" fill="#f3dfa4"/>
<circle cx="328.04" cy="460.66" r="1.45" fill="#dab360"/>
<circle cx="327.69" cy="460.26" r="0.65" fill="#f3dfa4"/>
<circle cx="325.95" cy="458.19" r="1.45" fill="#dab360"/>
<circle cx="325.60" cy="457.79" r="0.65" fill="#f3dfa4"/>
<circle cx="378.30" cy="561.95" r="1.45" fill="#dab360"/>
<circle cx="377.95" cy="561.55" r="0.65" fill="#f3dfa4"/>
<circle cx="378.22" cy="558.77" r="1.45" fill="#dab360"/>
<circle cx="377.87" cy="558.37" r="0.65" fill="#f3dfa4"/>
<circle cx="378.14" cy="555.56" r="1.45" fill="#dab360"/>
<circle cx="377.79" cy="555.16" r="0.65" fill="#f3dfa4"/>
<circle cx="378.03" cy="552.35" r="1.45" fill="#dab360"/>
<circle cx="377.68" cy="551.95" r="0.65" fill="#f3dfa4"/>
<circle cx="377.88" cy="549.12" r="1.45" fill="#dab360"/>
<circle cx="377.53" cy="548.72" r="0.65" fill="#f3dfa4"/>
<circle cx="377.64" cy="545.89" r="1.45" fill="#dab360"/>
<circle cx="377.29" cy="545.49" r="0.65" fill="#f3dfa4"/>
<circle cx="377.35" cy="542.68" r="1.45" fill="#dab360"/>
<circle cx="377.00" cy="542.28" r="0.65" fill="#f3dfa4"/>
<circle cx="376.98" cy="539.47" r="1.45" fill="#dab360"/>
<circle cx="376.63" cy="539.07" r="0.65" fill="#f3dfa4"/>
<circle cx="376.53" cy="536.25" r="1.45" fill="#dab360"/>
<circle cx="376.18" cy="535.85" r="0.65" fill="#f3dfa4"/>
<circle cx="375.97" cy="533.06" r="1.45" fill="#dab360"/>
<circle cx="375.62" cy="532.66" r="0.65" fill="#f3dfa4"/>
<circle cx="375.34" cy="529.87" r="1.45" fill="#dab360"/>
<circle cx="374.99" cy="529.47" r="0.65" fill="#f3dfa4"/>
<circle cx="374.62" cy="526.72" r="1.45" fill="#dab360"/>
<circle cx="374.27" cy="526.32" r="0.65" fill="#f3dfa4"/>
<circle cx="373.81" cy="523.58" r="1.45" fill="#dab360"/>
<circle cx="373.46" cy="523.18" r="0.65" fill="#f3dfa4"/>
<circle cx="372.90" cy="520.45" r="1.45" fill="#dab360"/>
<circle cx="372.55" cy="520.05" r="0.65" fill="#f3dfa4"/>
<circle cx="371.89" cy="517.37" r="1.45" fill="#dab360"/>
<circle cx="371.54" cy="516.97" r="0.65" fill="#f3dfa4"/>
<circle cx="370.78" cy="514.31" r="1.45" fill="#dab360"/>
<circle cx="370.43" cy="513.91" r="0.65" fill="#f3dfa4"/>
<circle cx="369.54" cy="511.29" r="1.45" fill="#dab360"/>
<circle cx="369.19" cy="510.89" r="0.65" fill="#f3dfa4"/>
<circle cx="368.15" cy="508.32" r="1.45" fill="#dab360"/>
<circle cx="367.80" cy="507.92" r="0.65" fill="#f3dfa4"/>
<circle cx="366.66" cy="505.44" r="1.45" fill="#dab360"/>
<circle cx="366.31" cy="505.04" r="0.65" fill="#f3dfa4"/>
<circle cx="365.03" cy="502.59" r="1.45" fill="#dab360"/>
<circle cx="364.68" cy="502.19" r="0.65" fill="#f3dfa4"/>
<circle cx="363.25" cy="499.84" r="1.45" fill="#dab360"/>
<circle cx="362.90" cy="499.44" r="0.65" fill="#f3dfa4"/>
<circle cx="361.25" cy="497.16" r="1.45" fill="#dab360"/>
<circle cx="360.90" cy="496.76" r="0.65" fill="#f3dfa4"/>
<circle cx="358.99" cy="494.70" r="1.45" fill="#dab360"/>
<circle cx="358.64" cy="494.30" r="0.65" fill="#f3dfa4"/>
<circle cx="356.62" cy="492.46" r="1.45" fill="#dab360"/>
<circle cx="356.27" cy="492.06" r="0.65" fill="#f3dfa4"/>
<circle cx="354.27" cy="490.31" r="1.45" fill="#dab360"/>
<circle cx="353.92" cy="489.91" r="0.65" fill="#f3dfa4"/>
<circle cx="351.87" cy="488.13" r="1.45" fill="#dab360"/>
<circle cx="351.52" cy="487.73" r="0.65" fill="#f3dfa4"/>
<circle cx="349.43" cy="486.03" r="1.45" fill="#dab360"/>
<circle cx="349.08" cy="485.63" r="0.65" fill="#f3dfa4"/>
<circle cx="347.01" cy="483.96" r="1.45" fill="#dab360"/>
<circle cx="346.66" cy="483.56" r="0.65" fill="#f3dfa4"/>
<circle cx="344.66" cy="481.84" r="1.45" fill="#dab360"/>
<circle cx="344.31" cy="481.44" r="0.65" fill="#f3dfa4"/>
<circle cx="342.32" cy="479.68" r="1.45" fill="#dab360"/>
<circle cx="341.97" cy="479.28" r="0.65" fill="#f3dfa4"/>
<circle cx="340.00" cy="477.50" r="1.45" fill="#dab360"/>
<circle cx="339.65" cy="477.10" r="0.65" fill="#f3dfa4"/>
<circle cx="337.70" cy="475.29" r="1.45" fill="#dab360"/>
<circle cx="337.35" cy="474.89" r="0.65" fill="#f3dfa4"/>
<circle cx="335.42" cy="473.06" r="1.45" fill="#dab360"/>
<circle cx="335.07" cy="472.66" r="0.65" fill="#f3dfa4"/>
<circle cx="333.15" cy="470.83" r="1.45" fill="#dab360"/>
<circle cx="332.80" cy="470.43" r="0.65" fill="#f3dfa4"/>
<circle cx="330.93" cy="468.57" r="1.45" fill="#dab360"/>
<circle cx="330.58" cy="468.17" r="0.65" fill="#f3dfa4"/>
<circle cx="328.79" cy="466.26" r="1.45" fill="#dab360"/>
<circle cx="328.44" cy="465.86" r="0.65" fill="#f3dfa4"/>
<circle cx="326.70" cy="463.88" r="1.45" fill="#dab360"/>
<circle cx="326.35" cy="463.48" r="0.65" fill="#f3dfa4"/>
<circle cx="324.64" cy="461.44" r="1.45" fill="#dab360"/>
<circle cx="324.29" cy="461.04" r="0.65" fill="#f3dfa4"/>
<circle cx="326.90" cy="459.69" r="1.45" fill="#dab360"/>
<circle cx="326.55" cy="459.29" r="0.65" fill="#f3dfa4"/>
<circle cx="327.12" cy="456.58" r="1.45" fill="#dab360"/>
<circle cx="326.77" cy="456.18" r="0.65" fill="#f3dfa4"/>
<circle cx="327.45" cy="453.68" r="1.45" fill="#dab360"/>
<circle cx="327.10" cy="453.28" r="0.65" fill="#f3dfa4"/>
<circle cx="327.99" cy="450.86" r="1.45" fill="#dab360"/>
<circle cx="327.64" cy="450.46" r="0.65" fill="#f3dfa4"/>
<circle cx="328.70" cy="447.89" r="1.45" fill="#dab360"/>
<circle cx="328.35" cy="447.49" r="0.65" fill="#f3dfa4"/>
<circle cx="329.49" cy="444.95" r="1.45" fill="#dab360"/>
<circle cx="329.14" cy="444.55" r="0.65" fill="#f3dfa4"/>
<circle cx="330.40" cy="442.04" r="1.45" fill="#dab360"/>
<circle cx="330.05" cy="441.64" r="0.65" fill="#f3dfa4"/>
<circle cx="331.41" cy="439.01" r="1.45" fill="#dab360"/>
<circle cx="331.06" cy="438.61" r="0.65" fill="#f3dfa4"/>
<circle cx="332.42" cy="436.06" r="1.45" fill="#dab360"/>
<circle cx="332.07" cy="435.66" r="0.65" fill="#f3dfa4"/>
<circle cx="323.80" cy="461.12" r="1.45" fill="#dab360"/>
<circle cx="323.45" cy="460.72" r="0.65" fill="#f3dfa4"/>
<circle cx="324.01" cy="457.91" r="1.45" fill="#dab360"/>
<circle cx="323.66" cy="457.51" r="0.65" fill="#f3dfa4"/>
<circle cx="324.28" cy="454.78" r="1.45" fill="#dab360"/>
<circle cx="323.93" cy="454.38" r="0.65" fill="#f3dfa4"/>
<circle cx="324.74" cy="451.74" r="1.45" fill="#dab360"/>
<circle cx="324.39" cy="451.34" r="0.65" fill="#f3dfa4"/>
<circle cx="325.41" cy="448.68" r="1.45" fill="#dab360"/>
<circle cx="325.06" cy="448.28" r="0.65" fill="#f3dfa4"/>
<circle cx="326.19" cy="445.61" r="1.45" fill="#dab360"/>
<circle cx="325.84" cy="445.21" r="0.65" fill="#f3dfa4"/>
<circle cx="327.06" cy="442.61" r="1.45" fill="#dab360"/>
<circle cx="326.71" cy="442.21" r="0.65" fill="#f3dfa4"/>
<circle cx="328.05" cy="439.59" r="1.45" fill="#dab360"/>
<circle cx="327.70" cy="439.19" r="0.65" fill="#f3dfa4"/>
<circle cx="329.07" cy="436.57" r="1.45" fill="#dab360"/>
<circle cx="328.72" cy="436.17" r="0.65" fill="#f3dfa4"/>
<circle cx="330.12" cy="433.56" r="1.45" fill="#dab360"/>
<circle cx="329.77" cy="433.16" r="0.65" fill="#f3dfa4"/>
<circle cx="384.71" cy="560.20" r=".62" fill="#4a2a08"/>
<circle cx="384.84" cy="557.01" r=".62" fill="#4a2a08"/>
<circle cx="384.97" cy="553.81" r=".62" fill="#4a2a08"/>
<circle cx="385.11" cy="550.62" r=".62" fill="#4a2a08"/>
<circle cx="385.30" cy="547.35" r=".62" fill="#4a2a08"/>
<circle cx="385.56" cy="544.18" r=".62" fill="#4a2a08"/>
<circle cx="385.72" cy="541.15" r=".62" fill="#4a2a08"/>
<circle cx="385.66" cy="538.12" r=".62" fill="#4a2a08"/>
<circle cx="385.42" cy="535.05" r=".62" fill="#4a2a08"/>
<circle cx="385.06" cy="531.93" r=".62" fill="#4a2a08"/>
<circle cx="384.62" cy="528.84" r=".62" fill="#4a2a08"/>
<circle cx="384.06" cy="525.74" r=".62" fill="#4a2a08"/>
<circle cx="383.42" cy="522.62" r=".62" fill="#4a2a08"/>
<circle cx="382.74" cy="519.48" r=".62" fill="#4a2a08"/>
<circle cx="382.04" cy="516.36" r=".62" fill="#4a2a08"/>
<circle cx="381.30" cy="513.30" r=".62" fill="#4a2a08"/>
<circle cx="380.47" cy="510.26" r=".62" fill="#4a2a08"/>
<circle cx="379.55" cy="507.19" r=".62" fill="#4a2a08"/>
<circle cx="378.58" cy="504.24" r=".62" fill="#4a2a08"/>
<circle cx="377.45" cy="501.37" r=".62" fill="#4a2a08"/>
<circle cx="376.20" cy="498.60" r=".62" fill="#4a2a08"/>
<circle cx="374.81" cy="495.83" r=".62" fill="#4a2a08"/>
<circle cx="373.32" cy="493.03" r=".62" fill="#4a2a08"/>
<circle cx="371.81" cy="490.18" r=".62" fill="#4a2a08"/>
<circle cx="370.33" cy="487.37" r=".62" fill="#4a2a08"/>
<circle cx="368.82" cy="484.60" r=".62" fill="#4a2a08"/>
<circle cx="367.26" cy="481.89" r=".62" fill="#4a2a08"/>
<circle cx="365.62" cy="479.25" r=".62" fill="#4a2a08"/>
<circle cx="363.89" cy="476.62" r=".62" fill="#4a2a08"/>
<circle cx="362.09" cy="474.01" r=".62" fill="#4a2a08"/>
<circle cx="360.29" cy="471.46" r=".62" fill="#4a2a08"/>
<circle cx="358.38" cy="468.97" r=".62" fill="#4a2a08"/>
<circle cx="356.40" cy="466.30" r=".62" fill="#4a2a08"/>
<circle cx="354.56" cy="463.60" r=".62" fill="#4a2a08"/>
<circle cx="352.79" cy="460.95" r=".62" fill="#4a2a08"/>
<circle cx="351.01" cy="458.35" r=".62" fill="#4a2a08"/>
<circle cx="349.18" cy="455.88" r=".62" fill="#4a2a08"/>
<circle cx="347.24" cy="453.50" r=".62" fill="#4a2a08"/>
<circle cx="345.17" cy="451.20" r=".62" fill="#4a2a08"/>
<circle cx="343.00" cy="448.93" r=".62" fill="#4a2a08"/>
<circle cx="340.77" cy="446.68" r=".62" fill="#4a2a08"/>
<circle cx="338.51" cy="444.44" r=".62" fill="#4a2a08"/>
<circle cx="336.23" cy="442.22" r=".62" fill="#4a2a08"/>
<circle cx="333.94" cy="440.04" r=".62" fill="#4a2a08"/>
<circle cx="331.61" cy="437.89" r=".62" fill="#4a2a08"/>
<circle cx="329.25" cy="435.74" r=".62" fill="#4a2a08"/>
<circle cx="383.60" cy="561.70" r=".62" fill="#4a2a08"/>
<circle cx="383.73" cy="558.52" r=".62" fill="#4a2a08"/>
<circle cx="383.85" cy="555.32" r=".62" fill="#4a2a08"/>
<circle cx="383.99" cy="552.12" r=".62" fill="#4a2a08"/>
<circle cx="384.14" cy="548.90" r=".62" fill="#4a2a08"/>
<circle cx="384.39" cy="545.62" r=".62" fill="#4a2a08"/>
<circle cx="384.62" cy="542.53" r=".62" fill="#4a2a08"/>
<circle cx="384.67" cy="539.63" r=".62" fill="#4a2a08"/>
<circle cx="384.51" cy="536.61" r=".62" fill="#4a2a08"/>
<circle cx="384.21" cy="533.57" r=".62" fill="#4a2a08"/>
<circle cx="383.81" cy="530.46" r=".62" fill="#4a2a08"/>
<circle cx="383.32" cy="527.44" r=".62" fill="#4a2a08"/>
<circle cx="382.72" cy="524.35" r=".62" fill="#4a2a08"/>
<circle cx="382.05" cy="521.24" r=".62" fill="#4a2a08"/>
<circle cx="381.37" cy="518.10" r=".62" fill="#4a2a08"/>
<circle cx="380.66" cy="515.02" r=".62" fill="#4a2a08"/>
<circle cx="379.89" cy="512.02" r=".62" fill="#4a2a08"/>
<circle cx="379.01" cy="508.98" r=".62" fill="#4a2a08"/>
<circle cx="378.08" cy="506.01" r=".62" fill="#4a2a08"/>
<circle cx="377.06" cy="503.14" r=".62" fill="#4a2a08"/>
<circle cx="375.88" cy="500.40" r=".62" fill="#4a2a08"/>
<circle cx="374.59" cy="497.69" r=".62" fill="#4a2a08"/>
<circle cx="373.15" cy="494.93" r=".62" fill="#4a2a08"/>
<circle cx="371.63" cy="492.09" r=".62" fill="#4a2a08"/>
<circle cx="370.14" cy="489.26" r=".62" fill="#4a2a08"/>
<circle cx="368.65" cy="486.48" r=".62" fill="#4a2a08"/>
<circle cx="367.14" cy="483.76" r=".62" fill="#4a2a08"/>
<circle cx="365.57" cy="481.12" r=".62" fill="#4a2a08"/>
<circle cx="363.89" cy="478.52" r=".62" fill="#4a2a08"/>
<circle cx="362.13" cy="475.91" r=".62" fill="#4a2a08"/>
<circle cx="360.32" cy="473.31" r=".62" fill="#4a2a08"/>
<circle cx="358.53" cy="470.87" r=".62" fill="#4a2a08"/>
<circle cx="356.54" cy="468.28" r=".62" fill="#4a2a08"/>
<circle cx="354.60" cy="465.54" r=".62" fill="#4a2a08"/>
<circle cx="352.80" cy="462.85" r=".62" fill="#4a2a08"/>
<circle cx="351.03" cy="460.22" r=".62" fill="#4a2a08"/>
<circle cx="349.27" cy="457.72" r=".62" fill="#4a2a08"/>
<circle cx="347.42" cy="455.35" r=".62" fill="#4a2a08"/>
<circle cx="345.44" cy="453.05" r=".62" fill="#4a2a08"/>
<circle cx="343.33" cy="450.79" r=".62" fill="#4a2a08"/>
<circle cx="341.14" cy="448.53" r=".62" fill="#4a2a08"/>
<circle cx="338.91" cy="446.31" r=".62" fill="#4a2a08"/>
<circle cx="336.64" cy="444.08" r=".62" fill="#4a2a08"/>
<circle cx="334.37" cy="441.89" r=".62" fill="#4a2a08"/>
<circle cx="332.07" cy="439.74" r=".62" fill="#4a2a08"/>
<circle cx="329.73" cy="437.59" r=".62" fill="#4a2a08"/>
<circle cx="327.35" cy="435.42" r=".62" fill="#4a2a08"/>
<circle cx="379.31" cy="560.34" r=".62" fill="#4a2a08"/>
<circle cx="379.23" cy="557.14" r=".62" fill="#4a2a08"/>
<circle cx="379.14" cy="553.92" r=".62" fill="#4a2a08"/>
<circle cx="379.01" cy="550.68" r=".62" fill="#4a2a08"/>
<circle cx="378.81" cy="547.42" r=".62" fill="#4a2a08"/>
<circle cx="378.55" cy="544.19" r=".62" fill="#4a2a08"/>
<circle cx="378.22" cy="540.95" r=".62" fill="#4a2a08"/>
<circle cx="377.81" cy="537.71" r=".62" fill="#4a2a08"/>
<circle cx="377.29" cy="534.46" r=".62" fill="#4a2a08"/>
<circle cx="376.70" cy="531.26" r=".62" fill="#4a2a08"/>
<circle cx="376.02" cy="528.07" r=".62" fill="#4a2a08"/>
<circle cx="375.24" cy="524.87" r=".62" fill="#4a2a08"/>
<circle cx="374.37" cy="521.71" r=".62" fill="#4a2a08"/>
<circle cx="373.41" cy="518.60" r=".62" fill="#4a2a08"/>
<circle cx="372.34" cy="515.48" r=".62" fill="#4a2a08"/>
<circle cx="371.15" cy="512.41" r=".62" fill="#4a2a08"/>
<circle cx="369.81" cy="509.35" r=".62" fill="#4a2a08"/>
<circle cx="368.36" cy="506.40" r=".62" fill="#4a2a08"/>
<circle cx="366.77" cy="503.48" r=".62" fill="#4a2a08"/>
<circle cx="365.06" cy="500.65" r=".62" fill="#4a2a08"/>
<circle cx="363.13" cy="497.86" r=".62" fill="#4a2a08"/>
<circle cx="360.91" cy="495.18" r=".62" fill="#4a2a08"/>
<circle cx="358.53" cy="492.79" r=".62" fill="#4a2a08"/>
<circle cx="356.14" cy="490.60" r=".62" fill="#4a2a08"/>
<circle cx="353.79" cy="488.44" r=".62" fill="#4a2a08"/>
<circle cx="351.33" cy="486.28" r=".62" fill="#4a2a08"/>
<circle cx="348.89" cy="484.20" r=".62" fill="#4a2a08"/>
<circle cx="346.53" cy="482.13" r=".62" fill="#4a2a08"/>
<circle cx="344.20" cy="480.00" r=".62" fill="#4a2a08"/>
<circle cx="341.88" cy="477.83" r=".62" fill="#4a2a08"/>
<circle cx="339.58" cy="475.64" r=".62" fill="#4a2a08"/>
<circle cx="337.29" cy="473.42" r=".62" fill="#4a2a08"/>
<circle cx="335.02" cy="471.20" r=".62" fill="#4a2a08"/>
<circle cx="332.79" cy="468.97" r=".62" fill="#4a2a08"/>
<circle cx="330.62" cy="466.71" r=".62" fill="#4a2a08"/>
<circle cx="328.53" cy="464.39" r=".62" fill="#4a2a08"/>
<circle cx="326.47" cy="461.99" r=".62" fill="#4a2a08"/>
<circle cx="324.40" cy="459.53" r=".62" fill="#4a2a08"/>
<circle cx="380.40" cy="561.89" r=".62" fill="#4a2a08"/>
<circle cx="380.32" cy="558.72" r=".62" fill="#4a2a08"/>
<circle cx="380.24" cy="555.50" r=".62" fill="#4a2a08"/>
<circle cx="380.13" cy="552.27" r=".62" fill="#4a2a08"/>
<circle cx="379.97" cy="549.00" r=".62" fill="#4a2a08"/>
<circle cx="379.73" cy="545.71" r=".62" fill="#4a2a08"/>
<circle cx="379.44" cy="542.47" r=".62" fill="#4a2a08"/>
<circle cx="379.07" cy="539.21" r=".62" fill="#4a2a08"/>
<circle cx="378.60" cy="535.92" r=".62" fill="#4a2a08"/>
<circle cx="378.04" cy="532.68" r=".62" fill="#4a2a08"/>
<circle cx="377.39" cy="529.43" r=".62" fill="#4a2a08"/>
<circle cx="376.66" cy="526.22" r=".62" fill="#4a2a08"/>
<circle cx="375.84" cy="523.03" r=".62" fill="#4a2a08"/>
<circle cx="374.90" cy="519.83" r=".62" fill="#4a2a08"/>
<circle cx="373.88" cy="516.70" r=".62" fill="#4a2a08"/>
<circle cx="372.74" cy="513.54" r=".62" fill="#4a2a08"/>
<circle cx="371.47" cy="510.46" r=".62" fill="#4a2a08"/>
<circle cx="370.03" cy="507.39" r=".62" fill="#4a2a08"/>
<circle cx="368.50" cy="504.44" r=".62" fill="#4a2a08"/>
<circle cx="366.82" cy="501.49" r=".62" fill="#4a2a08"/>
<circle cx="364.99" cy="498.65" r=".62" fill="#4a2a08"/>
<circle cx="362.86" cy="495.81" r=".62" fill="#4a2a08"/>
<circle cx="360.47" cy="493.21" r=".62" fill="#4a2a08"/>
<circle cx="358.03" cy="490.90" r=".62" fill="#4a2a08"/>
<circle cx="355.69" cy="488.78" r=".62" fill="#4a2a08"/>
<circle cx="353.25" cy="486.55" r=".62" fill="#4a2a08"/>
<circle cx="350.79" cy="484.43" r=".62" fill="#4a2a08"/>
<circle cx="348.39" cy="482.37" r=".62" fill="#4a2a08"/>
<circle cx="346.08" cy="480.30" r=".62" fill="#4a2a08"/>
<circle cx="343.76" cy="478.15" r=".62" fill="#4a2a08"/>
<circle cx="341.45" cy="475.98" r=".62" fill="#4a2a08"/>
<circle cx="339.17" cy="473.78" r=".62" fill="#4a2a08"/>
<circle cx="336.89" cy="471.56" r=".62" fill="#4a2a08"/>
<circle cx="334.64" cy="469.34" r=".62" fill="#4a2a08"/>
<circle cx="332.45" cy="467.12" r=".62" fill="#4a2a08"/>
<circle cx="330.36" cy="464.87" r=".62" fill="#4a2a08"/>
<circle cx="328.30" cy="462.51" r=".62" fill="#4a2a08"/>
<circle cx="326.25" cy="460.09" r=".62" fill="#4a2a08"/>
<circle cx="324.95" cy="459.57" r=".62" fill="#4a2a08"/>
<circle cx="325.18" cy="456.42" r=".62" fill="#4a2a08"/>
<circle cx="325.52" cy="453.40" r=".62" fill="#4a2a08"/>
<circle cx="326.08" cy="450.44" r=".62" fill="#4a2a08"/>
<circle cx="326.81" cy="447.40" r=".62" fill="#4a2a08"/>
<circle cx="327.62" cy="444.40" r=".62" fill="#4a2a08"/>
<circle cx="328.55" cy="441.43" r=".62" fill="#4a2a08"/>
<circle cx="329.55" cy="438.40" r=".62" fill="#4a2a08"/>
<circle cx="330.58" cy="435.42" r=".62" fill="#4a2a08"/>
<circle cx="325.89" cy="461.29" r=".62" fill="#4a2a08"/>
<circle cx="326.11" cy="458.06" r=".62" fill="#4a2a08"/>
<circle cx="326.37" cy="455.02" r=".62" fill="#4a2a08"/>
<circle cx="326.81" cy="452.13" r=".62" fill="#4a2a08"/>
<circle cx="327.45" cy="449.18" r=".62" fill="#4a2a08"/>
<circle cx="328.22" cy="446.15" r=".62" fill="#4a2a08"/>
<circle cx="329.07" cy="443.24" r=".62" fill="#4a2a08"/>
<circle cx="330.05" cy="440.25" r=".62" fill="#4a2a08"/>
<circle cx="331.05" cy="437.26" r=".62" fill="#4a2a08"/>
<circle cx="332.10" cy="434.26" r=".62" fill="#4a2a08"/>
<circle cx="342.63" cy="459.73" r="1.25" fill="#dab360"/><circle cx="342.33" cy="459.38" r=".55" fill="#f3dfa4"/>
<circle cx="333.58" cy="459.73" r="1.25" fill="#dab360"/><circle cx="333.28" cy="459.38" r=".55" fill="#f3dfa4"/>
<circle cx="333.58" cy="450.67" r="1.25" fill="#dab360"/><circle cx="333.28" cy="450.32" r=".55" fill="#f3dfa4"/>
<circle cx="342.63" cy="450.67" r="1.25" fill="#dab360"/><circle cx="342.33" cy="450.32" r=".55" fill="#f3dfa4"/>
<circle cx="353.16" cy="471.83" r="1.25" fill="#dab360"/><circle cx="352.86" cy="471.48" r=".55" fill="#f3dfa4"/>
<circle cx="344.11" cy="471.83" r="1.25" fill="#dab360"/><circle cx="343.81" cy="471.48" r=".55" fill="#f3dfa4"/>
<circle cx="344.11" cy="462.77" r="1.25" fill="#dab360"/><circle cx="343.81" cy="462.42" r=".55" fill="#f3dfa4"/>
<circle cx="353.16" cy="462.77" r="1.25" fill="#dab360"/><circle cx="352.86" cy="462.42" r=".55" fill="#f3dfa4"/>
<circle cx="363.16" cy="483.51" r="1.25" fill="#dab360"/><circle cx="362.86" cy="483.16" r=".55" fill="#f3dfa4"/>
<circle cx="354.54" cy="483.51" r="1.25" fill="#dab360"/><circle cx="354.24" cy="483.16" r=".55" fill="#f3dfa4"/>
<circle cx="354.54" cy="474.89" r="1.25" fill="#dab360"/><circle cx="354.24" cy="474.54" r=".55" fill="#f3dfa4"/>
<circle cx="363.16" cy="474.89" r="1.25" fill="#dab360"/><circle cx="362.86" cy="474.54" r=".55" fill="#f3dfa4"/>
<circle cx="371.25" cy="494.89" r="1.25" fill="#dab360"/><circle cx="370.95" cy="494.54" r=".55" fill="#f3dfa4"/>
<circle cx="363.47" cy="494.89" r="1.25" fill="#dab360"/><circle cx="363.17" cy="494.54" r=".55" fill="#f3dfa4"/>
<circle cx="363.47" cy="487.11" r="1.25" fill="#dab360"/><circle cx="363.17" cy="486.76" r=".55" fill="#f3dfa4"/>
<circle cx="371.25" cy="487.11" r="1.25" fill="#dab360"/><circle cx="370.95" cy="486.76" r=".55" fill="#f3dfa4"/>
<circle cx="377.70" cy="506.89" r="1.25" fill="#dab360"/><circle cx="377.40" cy="506.54" r=".55" fill="#f3dfa4"/>
<circle cx="370.91" cy="506.89" r="1.25" fill="#dab360"/><circle cx="370.61" cy="506.54" r=".55" fill="#f3dfa4"/>
<circle cx="370.91" cy="500.11" r="1.25" fill="#dab360"/><circle cx="370.61" cy="499.76" r=".55" fill="#f3dfa4"/>
<circle cx="377.70" cy="500.11" r="1.25" fill="#dab360"/><circle cx="377.40" cy="499.76" r=".55" fill="#f3dfa4"/>
<circle cx="381.93" cy="518.83" r="1.25" fill="#dab360"/><circle cx="381.63" cy="518.48" r=".55" fill="#f3dfa4"/>
<circle cx="376.27" cy="518.83" r="1.25" fill="#dab360"/><circle cx="375.97" cy="518.48" r=".55" fill="#f3dfa4"/>
<circle cx="376.27" cy="513.17" r="1.25" fill="#dab360"/><circle cx="375.97" cy="512.82" r=".55" fill="#f3dfa4"/>
<circle cx="381.93" cy="513.17" r="1.25" fill="#dab360"/><circle cx="381.63" cy="512.82" r=".55" fill="#f3dfa4"/>
<circle cx="337.33" cy="467.47" r="1.25" fill="#dab360"/><circle cx="337.03" cy="467.12" r=".55" fill="#f3dfa4"/>
<circle cx="328.99" cy="467.47" r="1.25" fill="#dab360"/><circle cx="328.69" cy="467.12" r=".55" fill="#f3dfa4"/>
<circle cx="328.99" cy="459.13" r="1.25" fill="#dab360"/><circle cx="328.69" cy="458.78" r=".55" fill="#f3dfa4"/>
<circle cx="337.33" cy="459.13" r="1.25" fill="#dab360"/><circle cx="337.03" cy="458.78" r=".55" fill="#f3dfa4"/>
<circle cx="348.86" cy="479.68" r="1.25" fill="#dab360"/><circle cx="348.56" cy="479.33" r=".55" fill="#f3dfa4"/>
<circle cx="340.10" cy="479.68" r="1.25" fill="#dab360"/><circle cx="339.80" cy="479.33" r=".55" fill="#f3dfa4"/>
<circle cx="340.10" cy="470.92" r="1.25" fill="#dab360"/><circle cx="339.80" cy="470.57" r=".55" fill="#f3dfa4"/>
<circle cx="348.86" cy="470.92" r="1.25" fill="#dab360"/><circle cx="348.56" cy="470.57" r=".55" fill="#f3dfa4"/>
<circle cx="358.87" cy="490.60" r="1.25" fill="#dab360"/><circle cx="358.57" cy="490.25" r=".55" fill="#f3dfa4"/>
<circle cx="350.66" cy="490.60" r="1.25" fill="#dab360"/><circle cx="350.36" cy="490.25" r=".55" fill="#f3dfa4"/>
<circle cx="350.66" cy="482.40" r="1.25" fill="#dab360"/><circle cx="350.36" cy="482.05" r=".55" fill="#f3dfa4"/>
<circle cx="358.87" cy="482.40" r="1.25" fill="#dab360"/><circle cx="358.57" cy="482.05" r=".55" fill="#f3dfa4"/>
<circle cx="367.37" cy="501.51" r="1.25" fill="#dab360"/><circle cx="367.07" cy="501.16" r=".55" fill="#f3dfa4"/>
<circle cx="360.15" cy="501.51" r="1.25" fill="#dab360"/><circle cx="359.85" cy="501.16" r=".55" fill="#f3dfa4"/>
<circle cx="360.15" cy="494.29" r="1.25" fill="#dab360"/><circle cx="359.85" cy="493.94" r=".55" fill="#f3dfa4"/>
<circle cx="367.37" cy="494.29" r="1.25" fill="#dab360"/><circle cx="367.07" cy="493.94" r=".55" fill="#f3dfa4"/>
<circle cx="373.44" cy="512.57" r="1.25" fill="#dab360"/><circle cx="373.14" cy="512.22" r=".55" fill="#f3dfa4"/>
<circle cx="367.50" cy="512.57" r="1.25" fill="#dab360"/><circle cx="367.20" cy="512.22" r=".55" fill="#f3dfa4"/>
<circle cx="367.50" cy="506.63" r="1.25" fill="#dab360"/><circle cx="367.20" cy="506.28" r=".55" fill="#f3dfa4"/>
<circle cx="373.44" cy="506.63" r="1.25" fill="#dab360"/><circle cx="373.14" cy="506.28" r=".55" fill="#f3dfa4"/>
<g transform="translate(338.11 455.20) rotate(226)">
<ellipse rx="6.34" ry="5.35" fill="#9a7428"/>
<ellipse rx="5.94" ry="4.95" fill="#f5f6f9"/>
<ellipse cx="-1.24" cy="-1.79" rx="2.20" ry="1.21" transform="rotate(59)" fill="#d3d8e2" opacity=".8"/>
<ellipse cx="-1.57" cy="-0.49" rx="2.20" ry="1.21" transform="rotate(166)" fill="#d3d8e2" opacity=".8"/>
<rect x="-4.10" y="-3.71" width="1.67" height="0.94" transform="rotate(39 -3.26 -3.24)" fill="#1c2230" opacity=".9"/>
<rect x="-3.19" y="-0.53" width="1.64" height="0.91" transform="rotate(19 -2.37 -0.07)" fill="#3d4558" opacity=".9"/>
<rect x="-4.63" y="1.40" width="1.57" height="1.28" transform="rotate(79 -3.84 2.04)" fill="#3d4558" opacity=".9"/>
<rect x="-1.00" y="0.24" width="1.31" height="1.14" transform="rotate(83 -0.35 0.81)" fill="#4a5266" opacity=".9"/>
<rect x="0.02" y="1.77" width="1.62" height="1.07" transform="rotate(20 0.83 2.31)" fill="#3d4558" opacity=".9"/>
<rect x="2.89" y="-3.08" width="1.15" height="1.36" transform="rotate(33 3.46 -2.40)" fill="#1c2230" opacity=".9"/>
<rect x="2.04" y="-1.28" width="1.47" height="1.34" transform="rotate(14 2.78 -0.61)" fill="#4a5266" opacity=".9"/>
<rect x="1.66" y="0.92" width="1.40" height="1.37" transform="rotate(20 2.36 1.61)" fill="#1c2230" opacity=".9"/>
</g>
<g transform="translate(348.63 467.30) rotate(236)">
<ellipse rx="6.34" ry="5.35" fill="#9a7428"/>
<ellipse rx="5.94" ry="4.95" fill="#f5f6f9"/>
<ellipse cx="0.33" cy="0.12" rx="2.20" ry="1.21" transform="rotate(53)" fill="#d3d8e2" opacity=".8"/>
<ellipse cx="1.83" cy="0.26" rx="2.20" ry="1.21" transform="rotate(76)" fill="#d3d8e2" opacity=".8"/>
<rect x="-4.05" y="-2.87" width="1.32" height="1.05" transform="rotate(81 -3.39 -2.34)" fill="#1c2230" opacity=".9"/>
<rect x="-4.48" y="2.41" width="1.52" height="1.03" transform="rotate(44 -3.72 2.92)" fill="#2b3344" opacity=".9"/>
<rect x="-0.99" y="-3.18" width="1.33" height="1.34" transform="rotate(61 -0.32 -2.51)" fill="#3d4558" opacity=".9"/>
<rect x="-0.71" y="-0.26" width="1.56" height="1.40" transform="rotate(68 0.07 0.44)" fill="#161b28" opacity=".9"/>
<rect x="-0.97" y="0.96" width="1.35" height="0.95" transform="rotate(86 -0.30 1.44)" fill="#161b28" opacity=".9"/>
<rect x="2.24" y="-2.58" width="1.62" height="1.13" transform="rotate(82 3.05 -2.01)" fill="#161b28" opacity=".9"/>
</g>
<g transform="translate(358.85 479.20) rotate(236)">
<ellipse rx="6.02" ry="5.08" fill="#9a7428"/>
<ellipse rx="5.62" ry="4.68" fill="#f5f6f9"/>
<ellipse cx="-0.94" cy="-1.07" rx="2.08" ry="1.14" transform="rotate(58)" fill="#d3d8e2" opacity=".8"/>
<ellipse cx="-0.84" cy="0.71" rx="2.08" ry="1.14" transform="rotate(49)" fill="#d3d8e2" opacity=".8"/>
<rect x="-3.54" y="-2.35" width="1.30" height="0.99" transform="rotate(82 -2.89 -1.86)" fill="#2b3344" opacity=".9"/>
<rect x="-4.56" y="-0.57" width="1.62" height="1.07" transform="rotate(17 -3.75 -0.04)" fill="#2b3344" opacity=".9"/>
<rect x="-0.43" y="-1.05" width="1.22" height="1.05" transform="rotate(82 0.18 -0.52)" fill="#2b3344" opacity=".9"/>
<rect x="-0.49" y="2.45" width="1.46" height="1.37" transform="rotate(80 0.24 3.14)" fill="#161b28" opacity=".9"/>
<rect x="1.68" y="-2.79" width="1.72" height="1.17" transform="rotate(36 2.54 -2.21)" fill="#2b3344" opacity=".9"/>
</g>
<g transform="translate(367.36 491.00) rotate(242)">
<ellipse rx="5.37" ry="4.54" fill="#9a7428"/>
<ellipse rx="4.97" ry="4.14" fill="#f5f6f9"/>
<ellipse cx="0.53" cy="-1.72" rx="1.84" ry="1.01" transform="rotate(143)" fill="#d3d8e2" opacity=".8"/>
<ellipse cx="0.22" cy="-1.43" rx="1.84" ry="1.01" transform="rotate(10)" fill="#d3d8e2" opacity=".8"/>
<rect x="-2.70" y="-1.98" width="1.69" height="1.15" transform="rotate(64 -1.85 -1.41)" fill="#2b3344" opacity=".9"/>
<rect x="-3.74" y="-1.10" width="1.31" height="1.04" transform="rotate(12 -3.09 -0.57)" fill="#4a5266" opacity=".9"/>
<rect x="-2.88" y="1.45" width="1.13" height="1.21" transform="rotate(0 -2.31 2.06)" fill="#2b3344" opacity=".9"/>
<rect x="0.00" y="-2.02" width="1.15" height="1.05" transform="rotate(9 0.58 -1.49)" fill="#4a5266" opacity=".9"/>
<rect x="-0.79" y="0.08" width="1.48" height="1.37" transform="rotate(2 -0.05 0.76)" fill="#3d4558" opacity=".9"/>
<rect x="2.42" y="-0.66" width="1.12" height="1.13" transform="rotate(14 2.98 -0.10)" fill="#161b28" opacity=".9"/>
<rect x="1.62" y="1.18" width="1.15" height="1.07" transform="rotate(60 2.20 1.72)" fill="#161b28" opacity=".9"/>
</g>
<g transform="translate(374.30 503.50) rotate(248)">
<ellipse rx="4.61" ry="3.91" fill="#9a7428"/>
<ellipse rx="4.21" ry="3.51" fill="#f5f6f9"/>
<ellipse cx="0.11" cy="0.05" rx="1.56" ry="0.86" transform="rotate(25)" fill="#d3d8e2" opacity=".8"/>
<ellipse cx="-0.52" cy="-0.92" rx="1.56" ry="0.86" transform="rotate(134)" fill="#d3d8e2" opacity=".8"/>
<rect x="-3.50" y="-2.45" width="1.66" height="1.29" transform="rotate(21 -2.67 -1.80)" fill="#161b28" opacity=".9"/>
<rect x="-3.06" y="-1.36" width="1.74" height="1.34" transform="rotate(81 -2.19 -0.69)" fill="#2b3344" opacity=".9"/>
<rect x="-0.24" y="-2.03" width="1.72" height="1.32" transform="rotate(60 0.62 -1.37)" fill="#4a5266" opacity=".9"/>
<rect x="-1.08" y="-0.38" width="1.31" height="1.42" transform="rotate(42 -0.43 0.33)" fill="#4a5266" opacity=".9"/>
<rect x="-0.66" y="0.94" width="1.17" height="1.24" transform="rotate(61 -0.08 1.56)" fill="#2b3344" opacity=".9"/>
<rect x="0.85" y="-2.48" width="1.64" height="1.23" transform="rotate(9 1.67 -1.86)" fill="#1c2230" opacity=".9"/>
<rect x="1.37" y="1.43" width="1.32" height="1.35" transform="rotate(13 2.04 2.11)" fill="#4a5266" opacity=".9"/>
</g>
<g transform="translate(379.10 516.00) rotate(259)">
<ellipse rx="3.75" ry="3.19" fill="#9a7428"/>
<ellipse rx="3.35" ry="2.79" fill="#f5f6f9"/>
<ellipse cx="0.05" cy="0.18" rx="1.24" ry="0.68" transform="rotate(124)" fill="#d3d8e2" opacity=".8"/>
<ellipse cx="-1.14" cy="0.13" rx="1.24" ry="0.68" transform="rotate(112)" fill="#d3d8e2" opacity=".8"/>
<rect x="-2.37" y="-2.09" width="1.61" height="1.03" transform="rotate(48 -1.56 -1.58)" fill="#4a5266" opacity=".9"/>
<rect x="-2.74" y="-0.82" width="1.39" height="1.21" transform="rotate(46 -2.04 -0.22)" fill="#2b3344" opacity=".9"/>
<rect x="-1.93" y="0.84" width="1.20" height="1.32" transform="rotate(49 -1.33 1.50)" fill="#3d4558" opacity=".9"/>
<rect x="-0.78" y="-2.50" width="1.56" height="1.44" transform="rotate(90 0.00 -1.77)" fill="#4a5266" opacity=".9"/>
<rect x="-0.07" y="-0.56" width="1.12" height="1.26" transform="rotate(12 0.49 0.08)" fill="#1c2230" opacity=".9"/>
<rect x="-0.67" y="0.49" width="1.16" height="1.38" transform="rotate(42 -0.09 1.18)" fill="#3d4558" opacity=".9"/>
<rect x="0.55" y="-0.15" width="1.45" height="1.21" transform="rotate(82 1.28 0.46)" fill="#4a5266" opacity=".9"/>
</g>
<g transform="translate(381.70 528.00) rotate(262)">
<ellipse rx="3.10" ry="2.65" fill="#9a7428"/>
<ellipse rx="2.70" ry="2.25" fill="#f5f6f9"/>
<ellipse cx="-0.03" cy="-0.90" rx="1.00" ry="0.55" transform="rotate(60)" fill="#d3d8e2" opacity=".8"/>
<ellipse cx="0.57" cy="0.74" rx="1.00" ry="0.55" transform="rotate(1)" fill="#d3d8e2" opacity=".8"/>
<rect x="-0.75" y="-1.33" width=".6" height=".6" fill="#4d5568" opacity=".8"/>
<rect x="-1.04" y="0.55" width=".6" height=".6" fill="#4d5568" opacity=".8"/>
</g>
<g transform="translate(382.90 539.50) rotate(271)">
<ellipse rx="2.67" ry="2.29" fill="#9a7428"/>
<ellipse rx="2.27" ry="1.89" fill="#f5f6f9"/>
<ellipse cx="0.02" cy="-0.30" rx="0.84" ry="0.46" transform="rotate(30)" fill="#d3d8e2" opacity=".8"/>
<ellipse cx="-0.56" cy="-0.39" rx="0.84" ry="0.46" transform="rotate(82)" fill="#d3d8e2" opacity=".8"/>
<rect x="-1.08" y="0.24" width=".6" height=".6" fill="#4d5568" opacity=".8"/>
<rect x="-0.11" y="-1.23" width=".6" height=".6" fill="#4d5568" opacity=".8"/>
</g>
<g transform="translate(383.30 550.00) rotate(275)">
<ellipse rx="2.34" ry="2.02" fill="#9a7428"/>
<ellipse rx="1.94" ry="1.62" fill="#f5f6f9"/>
<ellipse cx="0.65" cy="-0.31" rx="0.72" ry="0.40" transform="rotate(25)" fill="#d3d8e2" opacity=".8"/>
<ellipse cx="0.02" cy="-0.61" rx="0.72" ry="0.40" transform="rotate(163)" fill="#d3d8e2" opacity=".8"/>
<rect x="-0.91" y="-0.84" width=".6" height=".6" fill="#4d5568" opacity=".8"/>
<rect x="-0.82" y="-0.92" width=".6" height=".6" fill="#4d5568" opacity=".8"/>
</g>
<g transform="translate(333.16 463.30) rotate(227)">
<ellipse rx="5.80" ry="4.90" fill="#9a7428"/>
<ellipse rx="5.40" ry="4.50" fill="#f5f6f9"/>
<ellipse cx="0.03" cy="-0.32" rx="2.00" ry="1.10" transform="rotate(74)" fill="#d3d8e2" opacity=".8"/>
<ellipse cx="1.03" cy="0.22" rx="2.00" ry="1.10" transform="rotate(21)" fill="#d3d8e2" opacity=".8"/>
<rect x="-3.66" y="-3.59" width="1.26" height="1.41" transform="rotate(58 -3.03 -2.88)" fill="#1c2230" opacity=".9"/>
<rect x="-4.12" y="2.47" width="1.49" height="1.16" transform="rotate(81 -3.38 3.05)" fill="#161b28" opacity=".9"/>
<rect x="-0.52" y="-3.07" width="1.28" height="1.39" transform="rotate(75 0.12 -2.38)" fill="#161b28" opacity=".9"/>
<rect x="-0.90" y="-0.82" width="1.47" height="1.40" transform="rotate(30 -0.17 -0.12)" fill="#4a5266" opacity=".9"/>
<rect x="-0.99" y="0.81" width="1.69" height="1.06" transform="rotate(81 -0.14 1.34)" fill="#4a5266" opacity=".9"/>
<rect x="2.26" y="-2.36" width="1.30" height="1.23" transform="rotate(22 2.91 -1.75)" fill="#1c2230" opacity=".9"/>
<rect x="1.39" y="0.10" width="1.73" height="1.16" transform="rotate(47 2.26 0.68)" fill="#1c2230" opacity=".9"/>
</g>
<g transform="translate(344.48 475.30) rotate(235)">
<ellipse rx="6.12" ry="5.17" fill="#9a7428"/>
<ellipse rx="5.72" ry="4.77" fill="#f5f6f9"/>
<ellipse cx="-0.29" cy="0.79" rx="2.12" ry="1.17" transform="rotate(42)" fill="#d3d8e2" opacity=".8"/>
<ellipse cx="1.76" cy="0.81" rx="2.12" ry="1.17" transform="rotate(174)" fill="#d3d8e2" opacity=".8"/>
<rect x="-3.00" y="-3.01" width="1.62" height="1.02" transform="rotate(51 -2.19 -2.49)" fill="#161b28" opacity=".9"/>
<rect x="-4.26" y="-0.03" width="1.18" height="1.20" transform="rotate(0 -3.67 0.56)" fill="#161b28" opacity=".9"/>
<rect x="-1.18" y="-3.86" width="1.68" height="1.35" transform="rotate(13 -0.34 -3.19)" fill="#161b28" opacity=".9"/>
<rect x="-1.22" y="-0.91" width="1.40" height="1.07" transform="rotate(45 -0.52 -0.37)" fill="#3d4558" opacity=".9"/>
<rect x="0.30" y="1.76" width="1.23" height="1.06" transform="rotate(18 0.92 2.29)" fill="#1c2230" opacity=".9"/>
<rect x="2.01" y="-3.09" width="1.21" height="1.38" transform="rotate(18 2.61 -2.40)" fill="#4a5266" opacity=".9"/>
<rect x="1.73" y="0.25" width="1.13" height="0.96" transform="rotate(87 2.30 0.73)" fill="#3d4558" opacity=".9"/>
<rect x="2.08" y="2.36" width="1.32" height="1.43" transform="rotate(37 2.74 3.07)" fill="#161b28" opacity=".9"/>
</g>
<g transform="translate(354.76 486.50) rotate(237)">
<ellipse rx="5.69" ry="4.81" fill="#9a7428"/>
<ellipse rx="5.29" ry="4.41" fill="#f5f6f9"/>
<ellipse cx="0.82" cy="1.48" rx="1.96" ry="1.08" transform="rotate(22)" fill="#d3d8e2" opacity=".8"/>
<ellipse cx="-0.19" cy="-0.49" rx="1.96" ry="1.08" transform="rotate(130)" fill="#d3d8e2" opacity=".8"/>
<rect x="-3.85" y="-3.16" width="1.62" height="1.19" transform="rotate(53 -3.04 -2.57)" fill="#1c2230" opacity=".9"/>
<rect x="-2.55" y="1.84" width="1.28" height="1.25" transform="rotate(42 -1.91 2.46)" fill="#1c2230" opacity=".9"/>
<rect x="-1.31" y="0.12" width="1.10" height="1.22" transform="rotate(23 -0.76 0.73)" fill="#4a5266" opacity=".9"/>
<rect x="-1.53" y="1.26" width="1.59" height="1.04" transform="rotate(66 -0.74 1.78)" fill="#3d4558" opacity=".9"/>
<rect x="1.30" y="0.01" width="1.50" height="1.40" transform="rotate(35 2.05 0.71)" fill="#4a5266" opacity=".9"/>
<rect x="1.94" y="0.97" width="1.46" height="1.25" transform="rotate(29 2.68 1.59)" fill="#3d4558" opacity=".9"/>
</g>
<g transform="translate(363.76 497.90) rotate(242)">
<ellipse rx="4.94" ry="4.18" fill="#9a7428"/>
<ellipse rx="4.54" ry="3.78" fill="#f5f6f9"/>
<ellipse cx="-0.05" cy="0.01" rx="1.68" ry="0.92" transform="rotate(52)" fill="#d3d8e2" opacity=".8"/>
<ellipse cx="0.49" cy="-0.95" rx="1.68" ry="0.92" transform="rotate(177)" fill="#d3d8e2" opacity=".8"/>
<rect x="-3.05" y="-2.19" width="1.60" height="0.96" transform="rotate(21 -2.24 -1.71)" fill="#161b28" opacity=".9"/>
<rect x="-2.68" y="-0.08" width="1.61" height="1.03" transform="rotate(49 -1.88 0.44)" fill="#161b28" opacity=".9"/>
<rect x="-2.75" y="0.77" width="1.23" height="1.43" transform="rotate(52 -2.14 1.49)" fill="#1c2230" opacity=".9"/>
<rect x="-1.04" y="-2.98" width="1.11" height="1.17" transform="rotate(45 -0.49 -2.39)" fill="#161b28" opacity=".9"/>
<rect x="-0.04" y="-1.22" width="1.17" height="1.00" transform="rotate(52 0.55 -0.72)" fill="#4a5266" opacity=".9"/>
<rect x="-0.50" y="0.53" width="1.38" height="1.28" transform="rotate(66 0.19 1.17)" fill="#4a5266" opacity=".9"/>
<rect x="1.94" y="-2.45" width="1.52" height="1.18" transform="rotate(23 2.70 -1.86)" fill="#161b28" opacity=".9"/>
<rect x="2.23" y="1.73" width="1.14" height="1.13" transform="rotate(63 2.80 2.29)" fill="#3d4558" opacity=".9"/>
</g>
<g transform="translate(370.47 509.60) rotate(254)">
<ellipse rx="3.96" ry="3.37" fill="#9a7428"/>
<ellipse rx="3.56" ry="2.97" fill="#f5f6f9"/>
<ellipse cx="-0.36" cy="-1.21" rx="1.32" ry="0.73" transform="rotate(23)" fill="#d3d8e2" opacity=".8"/>
<ellipse cx="0.03" cy="-0.79" rx="1.32" ry="0.73" transform="rotate(24)" fill="#d3d8e2" opacity=".8"/>
<rect x="-2.33" y="-1.44" width="1.10" height="1.13" transform="rotate(13 -1.78 -0.88)" fill="#4a5266" opacity=".9"/>
<rect x="-2.62" y="-0.55" width="1.15" height="0.92" transform="rotate(21 -2.04 -0.09)" fill="#4a5266" opacity=".9"/>
<rect x="-2.44" y="0.44" width="1.40" height="1.41" transform="rotate(28 -1.74 1.15)" fill="#3d4558" opacity=".9"/>
<rect x="-0.09" y="-2.41" width="1.20" height="1.22" transform="rotate(66 0.51 -1.80)" fill="#1c2230" opacity=".9"/>
<rect x="-0.36" y="-0.04" width="1.70" height="1.00" transform="rotate(84 0.49 0.46)" fill="#161b28" opacity=".9"/>
<rect x="0.63" y="-2.22" width="1.26" height="1.34" transform="rotate(43 1.26 -1.56)" fill="#2b3344" opacity=".9"/>
<rect x="1.21" y="-0.27" width="1.41" height="1.17" transform="rotate(78 1.91 0.31)" fill="#2b3344" opacity=".9"/>
</g>
<g transform="translate(374.80 521.50) rotate(260)">
<ellipse rx="2.99" ry="2.56" fill="#9a7428"/>
<ellipse rx="2.59" ry="2.16" fill="#f5f6f9"/>
<ellipse cx="-0.05" cy="0.05" rx="0.96" ry="0.53" transform="rotate(124)" fill="#d3d8e2" opacity=".8"/>
<ellipse cx="-0.17" cy="0.20" rx="0.96" ry="0.53" transform="rotate(3)" fill="#d3d8e2" opacity=".8"/>
<rect x="0.15" y="0.68" width=".6" height=".6" fill="#4d5568" opacity=".8"/>
<rect x="-0.38" y="0.78" width=".6" height=".6" fill="#4d5568" opacity=".8"/>
</g>
<circle cx="341.10" cy="465.27" r="1.25" fill="#dab360"/>
<circle cx="351.68" cy="477.07" r="1.25" fill="#dab360"/>
<circle cx="361.18" cy="488.65" r="1.25" fill="#dab360"/>
<circle cx="368.97" cy="500.50" r="1.25" fill="#dab360"/>
<circle cx="374.75" cy="512.65" r="1.25" fill="#dab360"/>
<path d="M228.50 432.30L236.00 432.30L234.60 445.00L236.50 457.00L241.00 461.80L234.50 461.50L233.80 453.00L232.00 445.00L229.80 438.00Z" fill="#e6bf74"/>
<path d="M229.40 432.30L231.20 432.30L233.20 446.00L235.40 457.00L234.60 459.00L232.20 446.00Z" fill="#f5dc9c"/>
<path d="M230.60 432.40L235.00 432.40L233.40 444.50Z" fill="#552e06"/>
<path d="M234.20 446.00L235.20 446.00L236.80 457.00L240.50 461.30L238.80 461.30L235.60 457.40Z" fill="#6b3d08" opacity=".8"/>
<path d="M328.70 432.30L321.20 432.30L322.60 445.00L320.70 457.00L316.20 461.80L322.70 461.50L323.40 453.00L325.20 445.00L327.40 438.00Z" fill="#e6bf74"/>
<path d="M327.80 432.30L326.00 432.30L324.00 446.00L321.80 457.00L322.60 459.00L325.00 446.00Z" fill="#f5dc9c"/>
<path d="M326.60 432.40L322.20 432.40L323.80 444.50Z" fill="#552e06"/>
<path d="M323.00 446.00L322.00 446.00L320.40 457.00L316.70 461.30L318.40 461.30L321.60 457.40Z" fill="#6b3d08" opacity=".8"/>
<path d="M276.80 469.50C276.42 468.83 275.38 467.92 274.50 465.50C273.62 463.08 272.75 458.38 271.50 455.00C270.25 451.62 268.75 448.00 267.00 445.25C265.25 442.50 263.25 440.25 261.00 438.50C258.75 436.75 256.00 435.25 253.50 434.75C251.00 434.25 248.38 434.62 246.00 435.50C243.62 436.38 240.85 438.00 239.25 440.00C237.65 442.00 236.78 445.00 236.40 447.50C236.03 450.00 236.15 452.75 237.00 455.00C237.85 457.25 239.75 459.47 241.50 461.00C243.25 462.53 245.50 463.70 247.50 464.20C249.50 464.70 251.62 464.66 253.50 464.00C255.38 463.34 257.50 461.75 258.75 460.25C260.00 458.75 260.88 456.75 261.00 455.00C261.12 453.25 260.50 451.12 259.50 449.75C258.50 448.38 256.50 447.25 255.00 446.75C253.50 446.25 251.88 446.38 250.50 446.75C249.12 447.12 247.62 448.00 246.75 449.00C245.88 450.00 245.16 451.75 245.25 452.75C245.34 453.75 246.96 454.62 247.30 455.00" fill="none" stroke="#6b3d08" stroke-width="4.8" stroke-linecap="round"/>
<path d="M276.80 469.50C276.42 468.83 275.38 467.92 274.50 465.50C273.62 463.08 272.75 458.38 271.50 455.00C270.25 451.62 268.75 448.00 267.00 445.25C265.25 442.50 263.25 440.25 261.00 438.50C258.75 436.75 256.00 435.25 253.50 434.75C251.00 434.25 248.38 434.62 246.00 435.50C243.62 436.38 240.85 438.00 239.25 440.00C237.65 442.00 236.78 445.00 236.40 447.50C236.03 450.00 236.15 452.75 237.00 455.00C237.85 457.25 239.75 459.47 241.50 461.00C243.25 462.53 245.50 463.70 247.50 464.20C249.50 464.70 251.62 464.66 253.50 464.00C255.38 463.34 257.50 461.75 258.75 460.25C260.00 458.75 260.88 456.75 261.00 455.00C261.12 453.25 260.50 451.12 259.50 449.75C258.50 448.38 256.50 447.25 255.00 446.75C253.50 446.25 251.88 446.38 250.50 446.75C249.12 447.12 247.62 448.00 246.75 449.00C245.88 450.00 245.16 451.75 245.25 452.75C245.34 453.75 246.96 454.62 247.30 455.00" fill="none" stroke="#eec272" stroke-width="3.5" stroke-linecap="round"/>
<path d="M276.80 469.50C276.42 468.83 275.38 467.92 274.50 465.50C273.62 463.08 272.75 458.38 271.50 455.00C270.25 451.62 268.75 448.00 267.00 445.25C265.25 442.50 263.25 440.25 261.00 438.50C258.75 436.75 256.00 435.25 253.50 434.75C251.00 434.25 248.38 434.62 246.00 435.50C243.62 436.38 240.85 438.00 239.25 440.00C237.65 442.00 236.78 445.00 236.40 447.50C236.03 450.00 236.15 452.75 237.00 455.00C237.85 457.25 239.75 459.47 241.50 461.00C243.25 462.53 245.50 463.70 247.50 464.20C249.50 464.70 251.62 464.66 253.50 464.00C255.38 463.34 257.50 461.75 258.75 460.25C260.00 458.75 260.88 456.75 261.00 455.00C261.12 453.25 260.50 451.12 259.50 449.75C258.50 448.38 256.50 447.25 255.00 446.75C253.50 446.25 251.88 446.38 250.50 446.75C249.12 447.12 247.62 448.00 246.75 449.00C245.88 450.00 245.16 451.75 245.25 452.75C245.34 453.75 246.96 454.62 247.30 455.00" fill="none" stroke="#f9dda0" stroke-width="1.4" stroke-linecap="round" opacity=".85" transform="translate(-0.35 -0.35)"/>
<circle cx="247.90" cy="454.40" r="2.0" fill="#eec272" stroke="#6b3d08" stroke-width=".7"/>
<path d="M280.40 469.50C280.78 468.83 281.82 467.92 282.70 465.50C283.58 463.08 284.45 458.38 285.70 455.00C286.95 451.62 288.45 448.00 290.20 445.25C291.95 442.50 293.95 440.25 296.20 438.50C298.45 436.75 301.20 435.25 303.70 434.75C306.20 434.25 308.83 434.62 311.20 435.50C313.58 436.38 316.35 438.00 317.95 440.00C319.55 442.00 320.43 445.00 320.80 447.50C321.18 450.00 321.05 452.75 320.20 455.00C319.35 457.25 317.45 459.47 315.70 461.00C313.95 462.53 311.70 463.70 309.70 464.20C307.70 464.70 305.58 464.66 303.70 464.00C301.83 463.34 299.70 461.75 298.45 460.25C297.20 458.75 296.33 456.75 296.20 455.00C296.08 453.25 296.70 451.12 297.70 449.75C298.70 448.38 300.70 447.25 302.20 446.75C303.70 446.25 305.33 446.38 306.70 446.75C308.08 447.12 309.58 448.00 310.45 449.00C311.33 450.00 312.04 451.75 311.95 452.75C311.86 453.75 310.24 454.62 309.90 455.00" fill="none" stroke="#6b3d08" stroke-width="4.8" stroke-linecap="round"/>
<path d="M280.40 469.50C280.78 468.83 281.82 467.92 282.70 465.50C283.58 463.08 284.45 458.38 285.70 455.00C286.95 451.62 288.45 448.00 290.20 445.25C291.95 442.50 293.95 440.25 296.20 438.50C298.45 436.75 301.20 435.25 303.70 434.75C306.20 434.25 308.83 434.62 311.20 435.50C313.58 436.38 316.35 438.00 317.95 440.00C319.55 442.00 320.43 445.00 320.80 447.50C321.18 450.00 321.05 452.75 320.20 455.00C319.35 457.25 317.45 459.47 315.70 461.00C313.95 462.53 311.70 463.70 309.70 464.20C307.70 464.70 305.58 464.66 303.70 464.00C301.83 463.34 299.70 461.75 298.45 460.25C297.20 458.75 296.33 456.75 296.20 455.00C296.08 453.25 296.70 451.12 297.70 449.75C298.70 448.38 300.70 447.25 302.20 446.75C303.70 446.25 305.33 446.38 306.70 446.75C308.08 447.12 309.58 448.00 310.45 449.00C311.33 450.00 312.04 451.75 311.95 452.75C311.86 453.75 310.24 454.62 309.90 455.00" fill="none" stroke="#eec272" stroke-width="3.5" stroke-linecap="round"/>
<path d="M280.40 469.50C280.78 468.83 281.82 467.92 282.70 465.50C283.58 463.08 284.45 458.38 285.70 455.00C286.95 451.62 288.45 448.00 290.20 445.25C291.95 442.50 293.95 440.25 296.20 438.50C298.45 436.75 301.20 435.25 303.70 434.75C306.20 434.25 308.83 434.62 311.20 435.50C313.58 436.38 316.35 438.00 317.95 440.00C319.55 442.00 320.43 445.00 320.80 447.50C321.18 450.00 321.05 452.75 320.20 455.00C319.35 457.25 317.45 459.47 315.70 461.00C313.95 462.53 311.70 463.70 309.70 464.20C307.70 464.70 305.58 464.66 303.70 464.00C301.83 463.34 299.70 461.75 298.45 460.25C297.20 458.75 296.33 456.75 296.20 455.00C296.08 453.25 296.70 451.12 297.70 449.75C298.70 448.38 300.70 447.25 302.20 446.75C303.70 446.25 305.33 446.38 306.70 446.75C308.08 447.12 309.58 448.00 310.45 449.00C311.33 450.00 312.04 451.75 311.95 452.75C311.86 453.75 310.24 454.62 309.90 455.00" fill="none" stroke="#f9dda0" stroke-width="1.4" stroke-linecap="round" opacity=".85" transform="translate(-0.35 -0.35)"/>
<circle cx="309.30" cy="454.40" r="2.0" fill="#eec272" stroke="#6b3d08" stroke-width=".7"/>
<path d="M278.6 470 Q288.8 449 278.6 431.5" fill="none" stroke="#6b3d08" stroke-width="5.0"/>
<path d="M278.6 470 Q268.40000000000003 449 278.6 431.5" fill="none" stroke="#6b3d08" stroke-width="5.0"/>
<path d="M278.6 470 Q288.8 449 278.6 431.5" fill="none" stroke="#eec272" stroke-width="3.7"/>
<path d="M278.6 470 Q288.8 449 278.6 431.5" fill="none" stroke="#f9dda0" stroke-width="1.4" opacity=".8"/>
<path d="M278.6 470 Q268.40000000000003 449 278.6 431.5" fill="none" stroke="#eec272" stroke-width="3.7"/>
<path d="M278.6 470 Q268.40000000000003 449 278.6 431.5" fill="none" stroke="#f9dda0" stroke-width="1.4" opacity=".8"/>
<rect x="228.3" y="418.8" width="99.60000000000002" height="13.6" fill="url(#gPlate)"/>
<rect x="228.3" y="425.4" width="99.60000000000002" height="1.5" fill="#fff6c8"/>
<rect x="228.3" y="418.8" width="2.4" height="13.6" fill="#fbe2a4"/>
<rect x="325.50000000000006" y="418.8" width="2.4" height="13.6" fill="#fbe2a4"/>
<rect x="228.3" y="431.6" width="99.60000000000002" height=".8" fill="#dcae55"/>
<rect x="236.5" y="425.4" width="4" height="1.5" fill="#d6a038"/><rect x="315.70000000000005" y="425.4" width="4" height="1.5" fill="#d6a038"/>
<rect x="229.2" y="413.3" width="97.80000000000007" height="6" fill="#f7cd80"/>
<ellipse cx="235.95" cy="416.30" rx="5.90" ry="2.75" fill="#f2f5fa"/>
<path d="M-1.43 0.86L0 -1.43L1.43 1.00Z" transform="translate(234.88 418.36) rotate(37)" fill="#3f4f6f" opacity=".85"/>
<path d="M-1.48 0.89L0 -1.48L1.48 1.03Z" transform="translate(231.51 417.71) rotate(276)" fill="#9fb0c9" opacity=".85"/>
<path d="M-0.90 0.54L0 -0.90L0.90 0.63Z" transform="translate(238.19 418.30) rotate(302)" fill="#3f4f6f" opacity=".85"/>
<path d="M-1.17 0.70L0 -1.17L1.17 0.82Z" transform="translate(235.45 418.13) rotate(277)" fill="#3f4f6f" opacity=".85"/>
<path d="M-1.18 0.71L0 -1.18L1.18 0.83Z" transform="translate(236.14 415.49) rotate(176)" fill="#9fb0c9" opacity=".85"/>
<path d="M-0.98 0.59L0 -0.98L0.98 0.68Z" transform="translate(232.82 417.01) rotate(112)" fill="#9fb0c9" opacity=".85"/>
<path d="M-0.98 0.59L0 -0.98L0.98 0.69Z" transform="translate(235.19 417.11) rotate(197)" fill="#26324a" opacity=".85"/>
<ellipse cx="250.00" cy="416.30" rx="5.90" ry="2.75" fill="#f2f5fa"/>
<path d="M-1.17 0.70L0 -1.17L1.17 0.82Z" transform="translate(248.13 416.80) rotate(300)" fill="#9fb0c9" opacity=".85"/>
<path d="M-0.99 0.59L0 -0.99L0.99 0.69Z" transform="translate(250.35 416.79) rotate(312)" fill="#b9c6da" opacity=".85"/>
<path d="M-1.15 0.69L0 -1.15L1.15 0.80Z" transform="translate(247.25 416.27) rotate(51)" fill="#9fb0c9" opacity=".85"/>
<path d="M-1.25 0.75L0 -1.25L1.25 0.88Z" transform="translate(253.49 417.78) rotate(291)" fill="#6f83a6" opacity=".85"/>
<path d="M-1.40 0.84L0 -1.40L1.40 0.98Z" transform="translate(254.77 416.29) rotate(201)" fill="#9fb0c9" opacity=".85"/>
<path d="M-1.48 0.89L0 -1.48L1.48 1.03Z" transform="translate(248.53 415.71) rotate(84)" fill="#3f4f6f" opacity=".85"/>
<path d="M-1.21 0.73L0 -1.21L1.21 0.85Z" transform="translate(251.33 415.61) rotate(177)" fill="#26324a" opacity=".85"/>
<ellipse cx="264.05" cy="416.30" rx="5.90" ry="2.75" fill="#f2f5fa"/>
<path d="M-1.10 0.66L0 -1.10L1.10 0.77Z" transform="translate(263.95 418.38) rotate(101)" fill="#26324a" opacity=".85"/>
<path d="M-1.25 0.75L0 -1.25L1.25 0.87Z" transform="translate(260.63 416.64) rotate(126)" fill="#9fb0c9" opacity=".85"/>
<path d="M-1.45 0.87L0 -1.45L1.45 1.02Z" transform="translate(266.18 417.03) rotate(290)" fill="#26324a" opacity=".85"/>
<path d="M-1.54 0.92L0 -1.54L1.54 1.08Z" transform="translate(263.83 416.16) rotate(252)" fill="#3f4f6f" opacity=".85"/>
<path d="M-1.16 0.70L0 -1.16L1.16 0.81Z" transform="translate(259.27 416.60) rotate(328)" fill="#6f83a6" opacity=".85"/>
<path d="M-1.53 0.92L0 -1.53L1.53 1.07Z" transform="translate(261.76 416.55) rotate(169)" fill="#3f4f6f" opacity=".85"/>
<path d="M-0.90 0.54L0 -0.90L0.90 0.63Z" transform="translate(262.30 416.15) rotate(116)" fill="#3f4f6f" opacity=".85"/>
<ellipse cx="278.10" cy="416.30" rx="5.90" ry="2.75" fill="#f2f5fa"/>
<path d="M-1.51 0.90L0 -1.51L1.51 1.06Z" transform="translate(276.83 416.29) rotate(231)" fill="#9fb0c9" opacity=".85"/>
<path d="M-1.57 0.94L0 -1.57L1.57 1.10Z" transform="translate(276.94 416.44) rotate(207)" fill="#6f83a6" opacity=".85"/>
<path d="M-1.36 0.82L0 -1.36L1.36 0.95Z" transform="translate(282.54 417.86) rotate(195)" fill="#b9c6da" opacity=".85"/>
<path d="M-0.93 0.56L0 -0.93L0.93 0.65Z" transform="translate(279.23 415.52) rotate(317)" fill="#26324a" opacity=".85"/>
<path d="M-0.91 0.55L0 -0.91L0.91 0.64Z" transform="translate(276.92 418.31) rotate(246)" fill="#9fb0c9" opacity=".85"/>
<path d="M-1.24 0.75L0 -1.24L1.24 0.87Z" transform="translate(275.82 416.94) rotate(54)" fill="#6f83a6" opacity=".85"/>
<path d="M-1.40 0.84L0 -1.40L1.40 0.98Z" transform="translate(275.02 416.06) rotate(187)" fill="#9fb0c9" opacity=".85"/>
<ellipse cx="292.15" cy="416.30" rx="5.90" ry="2.75" fill="#f2f5fa"/>
<path d="M-0.88 0.53L0 -0.88L0.88 0.62Z" transform="translate(296.43 418.54) rotate(178)" fill="#b9c6da" opacity=".85"/>
<path d="M-1.36 0.82L0 -1.36L1.36 0.95Z" transform="translate(293.66 417.12) rotate(318)" fill="#b9c6da" opacity=".85"/>
<path d="M-1.08 0.65L0 -1.08L1.08 0.76Z" transform="translate(294.07 417.94) rotate(319)" fill="#6f83a6" opacity=".85"/>
<path d="M-1.42 0.85L0 -1.42L1.42 0.99Z" transform="translate(290.28 417.67) rotate(56)" fill="#26324a" opacity=".85"/>
<path d="M-1.14 0.68L0 -1.14L1.14 0.80Z" transform="translate(289.06 415.84) rotate(177)" fill="#26324a" opacity=".85"/>
<path d="M-1.10 0.66L0 -1.10L1.10 0.77Z" transform="translate(292.79 416.53) rotate(240)" fill="#26324a" opacity=".85"/>
<path d="M-1.16 0.70L0 -1.16L1.16 0.81Z" transform="translate(292.13 417.44) rotate(64)" fill="#26324a" opacity=".85"/>
<ellipse cx="306.20" cy="416.30" rx="5.90" ry="2.75" fill="#f2f5fa"/>
<path d="M-0.93 0.56L0 -0.93L0.93 0.65Z" transform="translate(306.34 415.73) rotate(294)" fill="#6f83a6" opacity=".85"/>
<path d="M-1.53 0.92L0 -1.53L1.53 1.07Z" transform="translate(310.07 416.33) rotate(278)" fill="#b9c6da" opacity=".85"/>
<path d="M-1.55 0.93L0 -1.55L1.55 1.08Z" transform="translate(306.01 415.85) rotate(19)" fill="#26324a" opacity=".85"/>
<path d="M-1.49 0.90L0 -1.49L1.49 1.05Z" transform="translate(303.73 416.98) rotate(91)" fill="#26324a" opacity=".85"/>
<path d="M-1.41 0.84L0 -1.41L1.41 0.98Z" transform="translate(307.55 416.52) rotate(120)" fill="#9fb0c9" opacity=".85"/>
<path d="M-1.52 0.91L0 -1.52L1.52 1.06Z" transform="translate(308.80 418.09) rotate(354)" fill="#b9c6da" opacity=".85"/>
<path d="M-1.45 0.87L0 -1.45L1.45 1.01Z" transform="translate(307.62 415.72) rotate(288)" fill="#3f4f6f" opacity=".85"/>
<ellipse cx="320.25" cy="416.30" rx="5.90" ry="2.75" fill="#f2f5fa"/>
<path d="M-1.40 0.84L0 -1.40L1.40 0.98Z" transform="translate(316.49 416.55) rotate(235)" fill="#9fb0c9" opacity=".85"/>
<path d="M-1.41 0.85L0 -1.41L1.41 0.99Z" transform="translate(325.00 416.87) rotate(96)" fill="#9fb0c9" opacity=".85"/>
<path d="M-1.39 0.84L0 -1.39L1.39 0.97Z" transform="translate(317.95 416.14) rotate(336)" fill="#26324a" opacity=".85"/>
<path d="M-1.43 0.86L0 -1.43L1.43 1.00Z" transform="translate(325.15 415.47) rotate(313)" fill="#6f83a6" opacity=".85"/>
<path d="M-1.29 0.78L0 -1.29L1.29 0.91Z" transform="translate(317.18 416.49) rotate(146)" fill="#6f83a6" opacity=".85"/>
<path d="M-1.54 0.92L0 -1.54L1.54 1.08Z" transform="translate(324.31 418.06) rotate(134)" fill="#9fb0c9" opacity=".85"/>
<path d="M-1.53 0.92L0 -1.53L1.53 1.07Z" transform="translate(318.34 417.95) rotate(81)" fill="#3f4f6f" opacity=".85"/>
<rect x="244.6" y="410.9" width="67.00000000000006" height="2.7" fill="#f8cf83"/>
<ellipse cx="250.70" cy="408.30" rx="5.60" ry="2.70" fill="#f2f5fa"/>
<path d="M-0.97 0.58L0 -0.97L0.97 0.68Z" transform="translate(252.81 408.65) rotate(140)" fill="#b9c6da" opacity=".85"/>
<path d="M-1.47 0.88L0 -1.47L1.47 1.03Z" transform="translate(252.55 409.10) rotate(159)" fill="#9fb0c9" opacity=".85"/>
<path d="M-1.54 0.93L0 -1.54L1.54 1.08Z" transform="translate(253.88 409.13) rotate(156)" fill="#26324a" opacity=".85"/>
<path d="M-1.07 0.64L0 -1.07L1.07 0.75Z" transform="translate(247.39 410.19) rotate(52)" fill="#b9c6da" opacity=".85"/>
<path d="M-1.04 0.62L0 -1.04L1.04 0.73Z" transform="translate(251.89 408.22) rotate(72)" fill="#26324a" opacity=".85"/>
<path d="M-0.98 0.59L0 -0.98L0.98 0.69Z" transform="translate(251.19 409.14) rotate(321)" fill="#6f83a6" opacity=".85"/>
<path d="M-1.00 0.60L0 -1.00L1.00 0.70Z" transform="translate(248.88 407.58) rotate(50)" fill="#26324a" opacity=".85"/>
<ellipse cx="264.40" cy="408.30" rx="5.60" ry="2.70" fill="#f2f5fa"/>
<path d="M-1.17 0.70L0 -1.17L1.17 0.82Z" transform="translate(267.15 410.54) rotate(149)" fill="#6f83a6" opacity=".85"/>
<path d="M-0.91 0.54L0 -0.91L0.91 0.64Z" transform="translate(267.32 408.61) rotate(222)" fill="#b9c6da" opacity=".85"/>
<path d="M-1.01 0.60L0 -1.01L1.01 0.70Z" transform="translate(267.51 408.15) rotate(311)" fill="#3f4f6f" opacity=".85"/>
<path d="M-1.49 0.90L0 -1.49L1.49 1.05Z" transform="translate(269.11 408.76) rotate(17)" fill="#26324a" opacity=".85"/>
<path d="M-1.27 0.76L0 -1.27L1.27 0.89Z" transform="translate(267.80 410.39) rotate(27)" fill="#26324a" opacity=".85"/>
<path d="M-1.10 0.66L0 -1.10L1.10 0.77Z" transform="translate(263.06 409.77) rotate(168)" fill="#b9c6da" opacity=".85"/>
<path d="M-1.14 0.68L0 -1.14L1.14 0.80Z" transform="translate(268.08 407.53) rotate(95)" fill="#b9c6da" opacity=".85"/>
<ellipse cx="278.10" cy="408.30" rx="5.60" ry="2.70" fill="#f2f5fa"/>
<path d="M-1.24 0.74L0 -1.24L1.24 0.87Z" transform="translate(275.67 410.32) rotate(289)" fill="#3f4f6f" opacity=".85"/>
<path d="M-1.61 0.97L0 -1.61L1.61 1.13Z" transform="translate(281.22 409.82) rotate(337)" fill="#6f83a6" opacity=".85"/>
<path d="M-1.17 0.70L0 -1.17L1.17 0.82Z" transform="translate(277.93 410.05) rotate(8)" fill="#b9c6da" opacity=".85"/>
<path d="M-1.16 0.69L0 -1.16L1.16 0.81Z" transform="translate(278.83 408.06) rotate(182)" fill="#3f4f6f" opacity=".85"/>
<path d="M-1.34 0.80L0 -1.34L1.34 0.94Z" transform="translate(275.98 410.54) rotate(127)" fill="#26324a" opacity=".85"/>
<path d="M-1.11 0.66L0 -1.11L1.11 0.78Z" transform="translate(276.00 410.26) rotate(95)" fill="#6f83a6" opacity=".85"/>
<path d="M-0.90 0.54L0 -0.90L0.90 0.63Z" transform="translate(275.37 407.91) rotate(197)" fill="#9fb0c9" opacity=".85"/>
<ellipse cx="291.80" cy="408.30" rx="5.60" ry="2.70" fill="#f2f5fa"/>
<path d="M-0.94 0.57L0 -0.94L0.94 0.66Z" transform="translate(293.52 407.90) rotate(134)" fill="#9fb0c9" opacity=".85"/>
<path d="M-1.17 0.70L0 -1.17L1.17 0.82Z" transform="translate(288.78 407.40) rotate(145)" fill="#6f83a6" opacity=".85"/>
<path d="M-1.58 0.95L0 -1.58L1.58 1.11Z" transform="translate(290.10 409.07) rotate(7)" fill="#9fb0c9" opacity=".85"/>
<path d="M-1.31 0.79L0 -1.31L1.31 0.92Z" transform="translate(288.70 407.54) rotate(356)" fill="#b9c6da" opacity=".85"/>
<path d="M-1.03 0.62L0 -1.03L1.03 0.72Z" transform="translate(291.13 410.45) rotate(281)" fill="#26324a" opacity=".85"/>
<path d="M-0.92 0.55L0 -0.92L0.92 0.64Z" transform="translate(295.49 409.96) rotate(341)" fill="#26324a" opacity=".85"/>
<path d="M-1.13 0.68L0 -1.13L1.13 0.79Z" transform="translate(290.11 407.92) rotate(53)" fill="#6f83a6" opacity=".85"/>
<ellipse cx="305.50" cy="408.30" rx="5.60" ry="2.70" fill="#f2f5fa"/>
<path d="M-1.35 0.81L0 -1.35L1.35 0.95Z" transform="translate(306.78 408.55) rotate(222)" fill="#9fb0c9" opacity=".85"/>
<path d="M-1.40 0.84L0 -1.40L1.40 0.98Z" transform="translate(304.02 408.75) rotate(182)" fill="#26324a" opacity=".85"/>
<path d="M-1.50 0.90L0 -1.50L1.50 1.05Z" transform="translate(306.14 407.70) rotate(268)" fill="#26324a" opacity=".85"/>
<path d="M-1.50 0.90L0 -1.50L1.50 1.05Z" transform="translate(304.89 408.84) rotate(83)" fill="#b9c6da" opacity=".85"/>
<path d="M-1.25 0.75L0 -1.25L1.25 0.88Z" transform="translate(306.46 409.18) rotate(190)" fill="#6f83a6" opacity=".85"/>
<path d="M-0.90 0.54L0 -0.90L0.90 0.63Z" transform="translate(305.04 408.25) rotate(335)" fill="#6f83a6" opacity=".85"/>
<path d="M-1.61 0.97L0 -1.61L1.61 1.13Z" transform="translate(302.19 408.85) rotate(224)" fill="#26324a" opacity=".85"/>
<rect x="256.35" y="405.6" width="2.4" height="5.5" rx="1" fill="#f3c877"/>
<rect x="270.05" y="405.6" width="2.4" height="5.5" rx="1" fill="#f3c877"/>
<rect x="283.75" y="405.6" width="2.4" height="5.5" rx="1" fill="#f3c877"/>
<rect x="297.45" y="405.6" width="2.4" height="5.5" rx="1" fill="#f3c877"/>
<rect x="258.7" y="397" width="38.80000000000007" height="7" fill="#f7cc80"/>
<rect x="263.3" y="391" width="29.60000000000007" height="6.2" fill="#f2f5fa"/>
<ellipse cx="270.60" cy="394.10" rx="6.75" ry="3.00" fill="#f2f5fa"/>
<path d="M-1.42 0.85L0 -1.42L1.42 1.00Z" transform="translate(267.02 394.71) rotate(312)" fill="#6f83a6" opacity=".85"/>
<path d="M-1.37 0.82L0 -1.37L1.37 0.96Z" transform="translate(266.32 396.58) rotate(67)" fill="#9fb0c9" opacity=".85"/>
<path d="M-1.08 0.65L0 -1.08L1.08 0.76Z" transform="translate(275.46 395.86) rotate(287)" fill="#6f83a6" opacity=".85"/>
<path d="M-1.01 0.61L0 -1.01L1.01 0.71Z" transform="translate(270.73 396.60) rotate(256)" fill="#6f83a6" opacity=".85"/>
<path d="M-1.34 0.80L0 -1.34L1.34 0.94Z" transform="translate(267.74 395.93) rotate(5)" fill="#b9c6da" opacity=".85"/>
<path d="M-1.77 1.06L0 -1.77L1.77 1.24Z" transform="translate(269.76 394.78) rotate(26)" fill="#9fb0c9" opacity=".85"/>
<path d="M-1.37 0.82L0 -1.37L1.37 0.96Z" transform="translate(271.23 395.85) rotate(26)" fill="#9fb0c9" opacity=".85"/>
<ellipse cx="285.60" cy="394.10" rx="6.75" ry="3.00" fill="#f2f5fa"/>
<path d="M-1.69 1.01L0 -1.69L1.69 1.18Z" transform="translate(285.56 393.22) rotate(287)" fill="#6f83a6" opacity=".85"/>
<path d="M-1.04 0.63L0 -1.04L1.04 0.73Z" transform="translate(281.60 394.34) rotate(334)" fill="#6f83a6" opacity=".85"/>
<path d="M-1.20 0.72L0 -1.20L1.20 0.84Z" transform="translate(290.82 393.81) rotate(65)" fill="#26324a" opacity=".85"/>
<path d="M-1.48 0.89L0 -1.48L1.48 1.03Z" transform="translate(284.32 396.08) rotate(26)" fill="#26324a" opacity=".85"/>
<path d="M-1.49 0.89L0 -1.49L1.49 1.04Z" transform="translate(291.20 393.76) rotate(349)" fill="#26324a" opacity=".85"/>
<path d="M-1.28 0.77L0 -1.28L1.28 0.89Z" transform="translate(286.29 396.60) rotate(252)" fill="#3f4f6f" opacity=".85"/>
<path d="M-1.51 0.91L0 -1.51L1.51 1.06Z" transform="translate(289.55 396.43) rotate(250)" fill="#9fb0c9" opacity=".85"/>
<rect x="258.7" y="390" width="4.7" height="15.6" fill="#f2d48c"/><rect x="292.80000000000007" y="390" width="4.7" height="15.6" fill="#f2d48c"/>
<rect x="260.3" y="390" width="1.4" height="15.6" fill="#e4c27c"/><rect x="294.50000000000006" y="390" width="1.4" height="15.6" fill="#e4c27c"/>
<rect x="276.90000000000003" y="392.4" width="2.4" height="4.8" rx="1" fill="#f3c877"/>
</svg>
</body></html>
